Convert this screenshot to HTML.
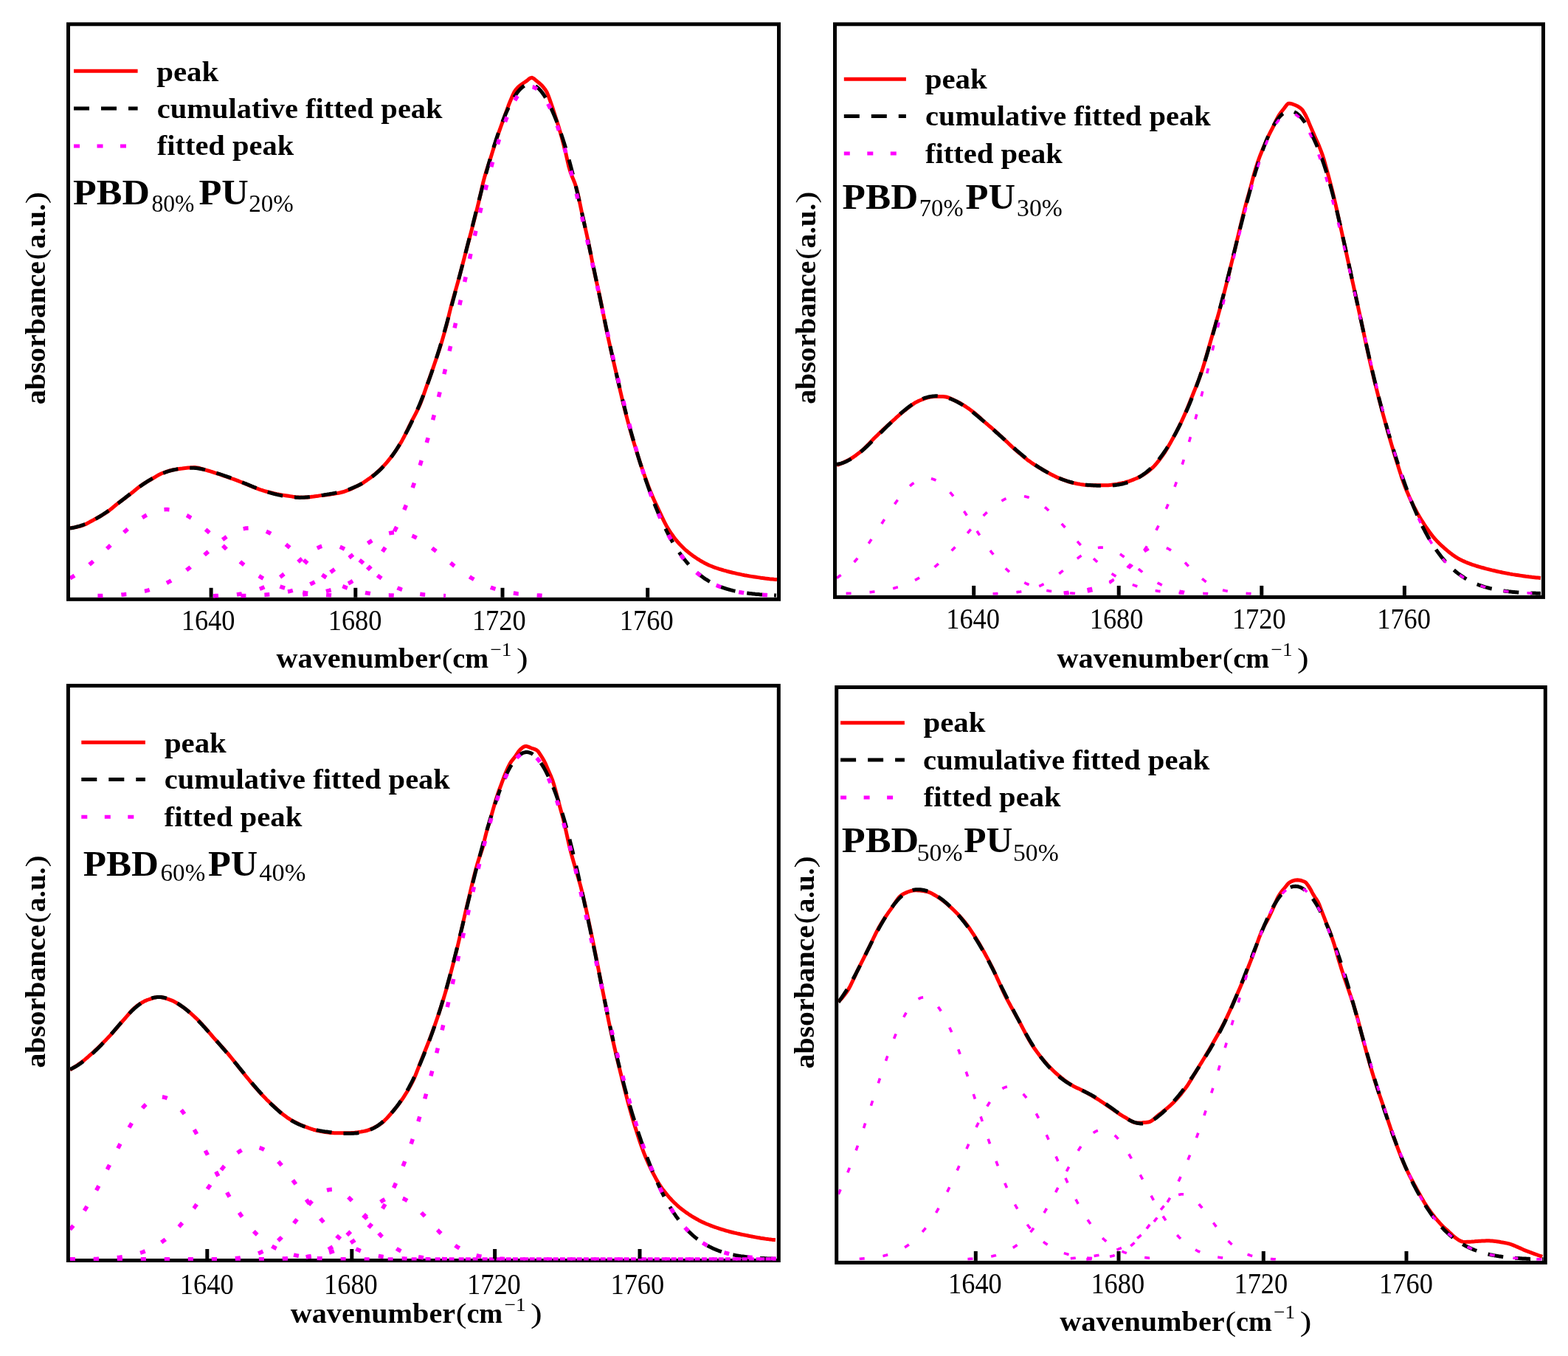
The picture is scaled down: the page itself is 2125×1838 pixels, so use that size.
<!DOCTYPE html>
<html><head><meta charset="utf-8"><title>FTIR peak fitting</title><style>
html,body{margin:0;padding:0;background:#fff;}
svg{display:block;}
text{font-family:"Liberation Serif", "Times New Roman", serif;fill:#000;}
</style></head><body>
<svg width="2125" height="1838" viewBox="0 0 2125 1838">
<rect width="2125" height="1838" fill="#fff"/>
<rect x="92.5" y="32.8" width="963.0" height="779.5" fill="none" stroke="#000" stroke-width="5.0"/>
<clipPath id="c1"><rect x="95.0" y="33.3" width="958.0" height="779.0"/></clipPath>
<g clip-path="url(#c1)" fill="none" stroke-linejoin="round">
<path d="M95.0,715.7 L97.0,715.5 L99.0,715.2 L101.0,714.9 L103.0,714.5 L105.0,714.0 L107.0,713.5 L109.0,713.0 L111.0,712.4 L113.0,711.8 L115.0,711.0 L117.0,710.1 L119.0,709.0 L121.0,707.9 L123.0,706.8 L125.0,705.7 L127.0,704.6 L129.0,703.5 L131.0,702.4 L133.0,701.3 L135.0,700.2 L137.0,699.1 L139.0,697.9 L141.0,696.7 L143.0,695.4 L145.0,694.1 L147.0,692.7 L149.0,691.1 L151.0,689.5 L153.0,687.8 L155.0,686.2 L157.0,684.5 L159.0,682.9 L161.0,681.3 L163.0,679.8 L165.0,678.4 L167.0,676.9 L169.0,675.4 L171.0,673.9 L173.0,672.5 L175.0,671.0 L177.0,669.4 L179.0,667.8 L181.0,666.2 L183.0,664.5 L185.0,662.8 L187.0,661.2 L189.0,659.6 L191.0,658.2 L193.0,656.8 L195.0,655.5 L197.0,654.3 L199.0,653.1 L201.0,651.9 L203.0,650.8 L205.0,649.7 L207.0,648.5 L209.0,647.3 L211.0,646.1 L213.0,644.9 L215.0,643.8 L217.0,642.8 L219.0,641.8 L221.0,641.0 L223.0,640.3 L225.0,639.6 L227.0,638.9 L229.0,638.3 L231.0,637.8 L233.0,637.3 L235.0,636.9 L237.0,636.5 L239.0,636.1 L241.0,635.8 L243.0,635.5 L245.0,635.2 L247.0,635.0 L249.0,634.7 L251.0,634.5 L253.0,634.3 L255.0,634.1 L257.0,633.9 L259.0,633.8 L261.0,633.7 L263.0,633.6 L265.0,633.6 L267.0,633.9 L269.0,634.3 L271.0,634.8 L273.0,635.4 L275.0,636.0 L277.0,636.6 L279.0,637.1 L281.0,637.7 L283.0,638.2 L285.0,638.8 L287.0,639.5 L289.0,640.1 L291.0,640.8 L293.0,641.4 L295.0,642.1 L297.0,642.7 L299.0,643.4 L301.0,644.1 L303.0,644.8 L305.0,645.5 L307.0,646.2 L309.0,646.9 L311.0,647.6 L313.0,648.3 L315.0,649.0 L317.0,649.7 L319.0,650.4 L321.0,651.1 L323.0,651.9 L325.0,652.7 L327.0,653.5 L329.0,654.3 L331.0,655.1 L333.0,655.9 L335.0,656.8 L337.0,657.6 L339.0,658.4 L341.0,659.2 L343.0,660.1 L345.0,660.9 L347.0,661.7 L349.0,662.4 L351.0,663.1 L353.0,663.8 L355.0,664.4 L357.0,665.1 L359.0,665.7 L361.0,666.2 L363.0,666.8 L365.0,667.3 L367.0,667.8 L369.0,668.2 L371.0,668.7 L373.0,669.1 L375.0,669.6 L377.0,670.0 L379.0,670.4 L381.0,670.8 L383.0,671.1 L385.0,671.4 L387.0,671.7 L389.0,672.0 L391.0,672.3 L393.0,672.6 L395.0,672.9 L397.0,673.2 L399.0,673.4 L401.0,673.7 L403.0,673.9 L405.0,674.0 L407.0,674.1 L409.0,674.2 L411.0,674.2 L413.0,674.1 L415.0,674.0 L417.0,673.9 L419.0,673.7 L421.0,673.5 L423.0,673.2 L425.0,673.0 L427.0,672.7 L429.0,672.4 L431.0,672.2 L433.0,671.9 L435.0,671.6 L437.0,671.4 L439.0,671.2 L441.0,670.9 L443.0,670.7 L445.0,670.4 L447.0,670.2 L449.0,669.9 L451.0,669.6 L453.0,669.3 L455.0,668.9 L457.0,668.6 L459.0,668.2 L461.0,667.8 L463.0,667.3 L465.0,666.8 L467.0,666.1 L469.0,665.4 L471.0,664.7 L473.0,663.9 L475.0,663.1 L477.0,662.2 L479.0,661.3 L481.0,660.3 L483.0,659.3 L485.0,658.4 L487.0,657.3 L489.0,656.3 L491.0,655.1 L493.0,653.8 L495.0,652.4 L497.0,651.1 L499.0,649.6 L501.0,648.2 L503.0,646.7 L505.0,645.1 L507.0,643.6 L509.0,641.9 L511.0,640.2 L513.0,638.4 L515.0,636.6 L517.0,634.6 L519.0,632.6 L521.0,630.4 L523.0,628.2 L525.0,625.9 L527.0,623.4 L529.0,620.9 L531.0,618.4 L533.0,615.7 L535.0,612.9 L537.0,610.0 L539.0,606.9 L541.0,603.7 L543.0,600.4 L545.0,596.9 L547.0,593.2 L549.0,589.3 L551.0,585.2 L553.0,581.0 L555.0,576.9 L557.0,572.8 L559.0,568.9 L561.0,565.1 L563.0,561.3 L565.0,557.3 L567.0,553.1 L569.0,548.7 L571.0,543.7 L573.0,538.3 L575.0,532.7 L577.0,526.9 L579.0,521.2 L581.0,515.6 L583.0,509.9 L585.0,504.3 L587.0,498.6 L589.0,492.8 L591.0,486.9 L593.0,481.0 L595.0,475.0 L597.0,468.8 L599.0,462.2 L601.0,455.4 L603.0,448.4 L605.0,440.9 L607.0,432.9 L609.0,424.6 L611.0,416.5 L613.0,409.1 L615.0,401.9 L617.0,394.9 L619.0,387.9 L621.0,380.8 L623.0,373.3 L625.0,365.7 L627.0,358.0 L629.0,350.3 L631.0,342.6 L633.0,335.0 L635.0,327.5 L637.0,320.0 L639.0,312.4 L641.0,304.7 L643.0,296.9 L645.0,289.0 L647.0,281.1 L649.0,272.9 L651.0,264.2 L653.0,255.0 L655.0,246.3 L657.0,238.9 L659.0,232.3 L661.0,226.1 L663.0,220.0 L665.0,213.7 L667.0,207.3 L669.0,200.8 L671.0,194.4 L673.0,188.2 L675.0,182.3 L677.0,176.6 L679.0,171.0 L681.0,165.5 L683.0,160.0 L685.0,154.4 L687.0,148.8 L689.0,143.3 L691.0,138.3 L693.0,133.5 L695.0,128.8 L697.0,124.7 L699.0,121.6 L701.0,119.3 L703.0,117.4 L705.0,115.7 L707.0,114.2 L709.0,112.8 L711.0,111.5 L713.0,110.1 L715.0,108.7 L717.0,106.9 L719.0,105.6 L721.0,105.3 L723.0,106.2 L725.0,107.8 L727.0,109.5 L729.0,111.1 L731.0,112.7 L733.0,114.6 L735.0,116.6 L737.0,118.9 L739.0,121.5 L741.0,124.8 L743.0,129.4 L745.0,134.9 L747.0,140.6 L749.0,146.4 L751.0,152.7 L753.0,158.9 L755.0,165.2 L757.0,171.6 L759.0,178.3 L761.0,185.3 L763.0,192.8 L765.0,200.5 L767.0,208.6 L769.0,217.7 L771.0,226.4 L773.0,233.1 L775.0,238.5 L777.0,243.3 L779.0,248.3 L781.0,254.4 L783.0,262.1 L785.0,271.2 L787.0,281.0 L789.0,290.4 L791.0,299.4 L793.0,308.3 L795.0,317.3 L797.0,326.5 L799.0,336.2 L801.0,346.3 L803.0,356.4 L805.0,366.2 L807.0,375.5 L809.0,384.4 L811.0,393.3 L813.0,402.5 L815.0,412.2 L817.0,422.4 L819.0,432.7 L821.0,442.6 L823.0,452.2 L825.0,461.4 L827.0,470.5 L829.0,479.4 L831.0,488.0 L833.0,496.6 L835.0,505.3 L837.0,514.0 L839.0,522.8 L841.0,531.5 L843.0,540.0 L845.0,548.2 L847.0,556.3 L849.0,564.1 L851.0,571.7 L853.0,579.0 L855.0,586.1 L857.0,593.0 L859.0,599.7 L861.0,606.4 L863.0,612.9 L865.0,619.2 L867.0,625.5 L869.0,631.6 L871.0,637.4 L873.0,643.2 L875.0,648.9 L877.0,654.4 L879.0,659.8 L881.0,664.9 L883.0,669.7 L885.0,674.4 L887.0,678.9 L889.0,683.3 L891.0,687.6 L893.0,691.8 L895.0,696.1 L897.0,700.4 L899.0,704.6 L901.0,708.6 L903.0,712.4 L905.0,715.8 L907.0,719.0 L909.0,722.1 L911.0,725.0 L913.0,727.8 L915.0,730.4 L917.0,732.9 L919.0,735.3 L921.0,737.5 L923.0,739.5 L925.0,741.5 L927.0,743.5 L929.0,745.3 L931.0,747.0 L933.0,748.7 L935.0,750.3 L937.0,751.8 L939.0,753.3 L941.0,754.6 L943.0,756.0 L945.0,757.3 L947.0,758.5 L949.0,759.8 L951.0,761.0 L953.0,762.1 L955.0,763.2 L957.0,764.2 L959.0,765.2 L961.0,766.2 L963.0,767.0 L965.0,767.8 L967.0,768.6 L969.0,769.3 L971.0,770.0 L973.0,770.7 L975.0,771.3 L977.0,771.9 L979.0,772.5 L981.0,773.1 L983.0,773.6 L985.0,774.2 L987.0,774.7 L989.0,775.2 L991.0,775.7 L993.0,776.2 L995.0,776.6 L997.0,777.1 L999.0,777.6 L1001.0,778.0 L1003.0,778.4 L1005.0,778.9 L1007.0,779.3 L1009.0,779.7 L1011.0,780.0 L1013.0,780.4 L1015.0,780.8 L1017.0,781.1 L1019.0,781.4 L1021.0,781.7 L1023.0,782.0 L1025.0,782.3 L1027.0,782.6 L1029.0,782.9 L1031.0,783.2 L1033.0,783.4 L1035.0,783.7 L1037.0,784.0 L1039.0,784.2 L1041.0,784.4 L1043.0,784.7 L1045.0,784.9 L1047.0,785.1 L1049.0,785.3 L1051.0,785.4 L1053.0,785.6" stroke="#ff0000" stroke-width="5"/>
<path d="M95.0,716.0 L96.5,715.8 L98.0,715.5 L99.5,715.2 L101.0,714.9 L102.5,714.5 L104.0,714.1 L105.5,713.7 L107.0,713.3 L108.5,712.9 L110.0,712.4 L111.5,711.8 L113.0,711.3 L114.5,710.7 L116.0,710.1 L117.5,709.5 L119.0,708.8 L120.5,708.1 L122.0,707.4 L123.5,706.6 L125.0,705.9 L126.5,705.1 L128.0,704.3 L129.5,703.4 L131.0,702.6 L132.5,701.7 L134.0,700.8 L135.5,699.9 L137.0,699.0 L138.5,698.0 L140.0,697.0 L141.5,696.0 L143.0,695.0 L144.5,694.0 L146.0,692.9 L147.5,691.8 L149.0,690.7 L150.5,689.6 L152.0,688.5 L153.5,687.4 L155.0,686.2 L156.5,685.1 L158.0,683.9 L159.5,682.7 L161.0,681.6 L162.5,680.4 L164.0,679.2 L165.5,678.0 L167.0,676.8 L168.5,675.7 L170.0,674.5 L171.5,673.3 L173.0,672.1 L174.5,671.0 L176.0,669.8 L177.5,668.6 L179.0,667.5 L180.5,666.3 L182.0,665.2 L183.5,664.0 L185.0,662.9 L186.5,661.8 L188.0,660.6 L189.5,659.6 L191.0,658.5 L192.5,657.4 L194.0,656.4 L195.5,655.4 L197.0,654.4 L198.5,653.4 L200.0,652.4 L201.5,651.5 L203.0,650.6 L204.5,649.7 L206.0,648.8 L207.5,648.0 L209.0,647.1 L210.5,646.3 L212.0,645.5 L213.5,644.8 L215.0,644.0 L216.5,643.3 L218.0,642.6 L219.5,642.0 L221.0,641.4 L222.5,640.8 L224.0,640.2 L225.5,639.7 L227.0,639.1 L228.5,638.7 L230.0,638.2 L231.5,637.8 L233.0,637.4 L234.5,637.0 L236.0,636.7 L237.5,636.4 L239.0,636.1 L240.5,635.8 L242.0,635.5 L243.5,635.3 L245.0,635.1 L246.5,634.9 L248.0,634.7 L249.5,634.6 L251.0,634.4 L252.5,634.3 L254.0,634.2 L255.5,634.2 L257.0,634.2 L258.5,634.2 L260.0,634.2 L261.5,634.2 L263.0,634.3 L264.5,634.5 L266.0,634.6 L267.5,634.8 L269.0,635.0 L270.5,635.2 L272.0,635.5 L273.5,635.8 L275.0,636.1 L276.5,636.4 L278.0,636.8 L279.5,637.2 L281.0,637.5 L282.5,638.0 L284.0,638.4 L285.5,638.8 L287.0,639.2 L288.5,639.7 L290.0,640.1 L291.5,640.6 L293.0,641.1 L294.5,641.6 L296.0,642.0 L297.5,642.5 L299.0,643.0 L300.5,643.5 L302.0,644.0 L303.5,644.6 L305.0,645.1 L306.5,645.6 L308.0,646.1 L309.5,646.7 L311.0,647.2 L312.5,647.7 L314.0,648.3 L315.5,648.8 L317.0,649.4 L318.5,650.0 L320.0,650.5 L321.5,651.1 L323.0,651.7 L324.5,652.3 L326.0,652.9 L327.5,653.5 L329.0,654.1 L330.5,654.7 L332.0,655.3 L333.5,655.9 L335.0,656.5 L336.5,657.1 L338.0,657.8 L339.5,658.4 L341.0,659.0 L342.5,659.6 L344.0,660.2 L345.5,660.8 L347.0,661.4 L348.5,661.9 L350.0,662.5 L351.5,663.1 L353.0,663.6 L354.5,664.2 L356.0,664.7 L357.5,665.2 L359.0,665.7 L360.5,666.2 L362.0,666.7 L363.5,667.2 L365.0,667.6 L366.5,668.0 L368.0,668.5 L369.5,668.9 L371.0,669.3 L372.5,669.7 L374.0,670.0 L375.5,670.4 L377.0,670.7 L378.5,671.1 L380.0,671.4 L381.5,671.7 L383.0,672.0 L384.5,672.2 L386.0,672.5 L387.5,672.7 L389.0,673.0 L390.5,673.2 L392.0,673.4 L393.5,673.6 L395.0,673.7 L396.5,673.9 L398.0,674.0 L399.5,674.1 L401.0,674.2 L402.5,674.3 L404.0,674.3 L405.5,674.4 L407.0,674.4 L408.5,674.3 L410.0,674.3 L411.5,674.2 L413.0,674.2 L414.5,674.1 L416.0,674.0 L417.5,673.8 L419.0,673.7 L420.5,673.5 L422.0,673.4 L423.5,673.2 L425.0,673.0 L426.5,672.8 L428.0,672.6 L429.5,672.4 L431.0,672.1 L432.5,671.9 L434.0,671.7 L435.5,671.5 L437.0,671.2 L438.5,671.0 L440.0,670.7 L441.5,670.5 L443.0,670.3 L444.5,670.0 L446.0,669.8 L447.5,669.5 L449.0,669.2 L450.5,669.0 L452.0,668.7 L453.5,668.4 L455.0,668.1 L456.5,667.8 L458.0,667.5 L459.5,667.2 L461.0,666.8 L462.5,666.5 L464.0,666.1 L465.5,665.7 L467.0,665.2 L468.5,664.8 L470.0,664.3 L471.5,663.8 L473.0,663.3 L474.5,662.7 L476.0,662.1 L477.5,661.5 L479.0,660.9 L480.5,660.3 L482.0,659.6 L483.5,658.9 L485.0,658.2 L486.5,657.5 L488.0,656.7 L489.5,655.9 L491.0,655.0 L492.5,654.2 L494.0,653.3 L495.5,652.3 L497.0,651.4 L498.5,650.4 L500.0,649.3 L501.5,648.3 L503.0,647.1 L504.5,646.0 L506.0,644.8 L507.5,643.6 L509.0,642.3 L510.5,641.0 L512.0,639.7 L513.5,638.3 L515.0,636.9 L516.5,635.4 L518.0,633.9 L519.5,632.3 L521.0,630.7 L522.5,629.0 L524.0,627.3 L525.5,625.5 L527.0,623.6 L528.5,621.7 L530.0,619.7 L531.5,617.7 L533.0,615.6 L534.5,613.5 L536.0,611.3 L537.5,609.0 L539.0,606.7 L540.5,604.2 L542.0,601.8 L543.5,599.3 L545.0,596.7 L546.5,594.0 L548.0,591.3 L549.5,588.6 L551.0,585.7 L552.5,582.9 L554.0,579.9 L555.5,577.0 L557.0,573.9 L558.5,570.8 L560.0,567.7 L561.5,564.5 L563.0,561.2 L564.5,557.8 L566.0,554.4 L567.5,550.9 L569.0,547.4 L570.5,543.8 L572.0,540.0 L573.5,536.3 L575.0,532.4 L576.5,528.5 L578.0,524.4 L579.5,520.4 L581.0,516.2 L582.5,512.0 L584.0,507.7 L585.5,503.4 L587.0,498.9 L588.5,494.5 L590.0,489.9 L591.5,485.3 L593.0,480.6 L594.5,475.8 L596.0,470.9 L597.5,465.9 L599.0,460.9 L600.5,455.8 L602.0,450.6 L603.5,445.4 L605.0,440.1 L606.5,434.7 L608.0,429.3 L609.5,423.8 L611.0,418.3 L612.5,412.8 L614.0,407.2 L615.5,401.6 L617.0,396.0 L618.5,390.4 L620.0,384.7 L621.5,379.0 L623.0,373.3 L624.5,367.6 L626.0,361.9 L627.5,356.1 L629.0,350.4 L630.5,344.6 L632.0,338.8 L633.5,332.9 L635.0,327.1 L636.5,321.2 L638.0,315.4 L639.5,309.5 L641.0,303.6 L642.5,297.7 L644.0,291.7 L645.5,285.8 L647.0,279.9 L648.5,274.0 L650.0,268.2 L651.5,262.3 L653.0,256.6 L654.5,250.8 L656.0,245.2 L657.5,239.6 L659.0,234.0 L660.5,228.6 L662.0,223.3 L663.5,218.0 L665.0,212.9 L666.5,207.9 L668.0,202.9 L669.5,198.1 L671.0,193.4 L672.5,188.8 L674.0,184.3 L675.5,180.0 L677.0,175.7 L678.5,171.6 L680.0,167.6 L681.5,163.7 L683.0,160.0 L684.5,156.3 L686.0,152.8 L687.5,149.5 L689.0,146.2 L690.5,143.1 L692.0,140.1 L693.5,137.3 L695.0,134.7 L696.5,132.1 L698.0,129.8 L699.5,127.6 L701.0,125.5 L702.5,123.6 L704.0,121.9 L705.5,120.3 L707.0,118.9 L708.5,117.7 L710.0,116.7 L711.5,115.8 L713.0,115.2 L714.5,114.7 L716.0,114.3 L717.5,114.2 L719.0,114.2 L720.5,114.5 L722.0,114.9 L723.5,115.4 L725.0,116.2 L726.5,117.2 L728.0,118.3 L729.5,119.6 L731.0,121.1 L732.5,122.7 L734.0,124.5 L735.5,126.5 L737.0,128.7 L738.5,131.0 L740.0,133.5 L741.5,136.1 L743.0,138.9 L744.5,141.8 L746.0,144.9 L747.5,148.1 L749.0,151.4 L750.5,154.9 L752.0,158.5 L753.5,162.2 L755.0,166.1 L756.5,170.1 L758.0,174.3 L759.5,178.6 L761.0,183.0 L762.5,187.5 L764.0,192.2 L765.5,197.1 L767.0,202.1 L768.5,207.2 L770.0,212.5 L771.5,217.9 L773.0,223.4 L774.5,229.1 L776.0,235.0 L777.5,240.9 L779.0,247.0 L780.5,253.2 L782.0,259.5 L783.5,265.9 L785.0,272.5 L786.5,279.1 L788.0,285.7 L789.5,292.5 L791.0,299.3 L792.5,306.2 L794.0,313.2 L795.5,320.2 L797.0,327.2 L798.5,334.3 L800.0,341.4 L801.5,348.5 L803.0,355.7 L804.5,362.8 L806.0,370.0 L807.5,377.2 L809.0,384.4 L810.5,391.6 L812.0,398.8 L813.5,406.0 L815.0,413.2 L816.5,420.4 L818.0,427.5 L819.5,434.6 L821.0,441.7 L822.5,448.7 L824.0,455.7 L825.5,462.7 L827.0,469.6 L828.5,476.4 L830.0,483.2 L831.5,489.9 L833.0,496.6 L834.5,503.1 L836.0,509.6 L837.5,516.1 L839.0,522.4 L840.5,528.7 L842.0,534.9 L843.5,541.0 L845.0,547.0 L846.5,552.9 L848.0,558.8 L849.5,564.5 L851.0,570.2 L852.5,575.8 L854.0,581.3 L855.5,586.7 L857.0,592.0 L858.5,597.3 L860.0,602.5 L861.5,607.6 L863.0,612.6 L864.5,617.5 L866.0,622.4 L867.5,627.2 L869.0,631.9 L870.5,636.6 L872.0,641.2 L873.5,645.7 L875.0,650.1 L876.5,654.5 L878.0,658.8 L879.5,663.0 L881.0,667.2 L882.5,671.2 L884.0,675.2 L885.5,679.1 L887.0,683.0 L888.5,686.7 L890.0,690.4 L891.5,694.0 L893.0,697.5 L894.5,701.0 L896.0,704.4 L897.5,707.6 L899.0,710.9 L900.5,714.0 L902.0,717.0 L903.5,720.0 L905.0,722.9 L906.5,725.7 L908.0,728.5 L909.5,731.2 L911.0,733.8 L912.5,736.4 L914.0,738.8 L915.5,741.2 L917.0,743.6 L918.5,745.9 L920.0,748.1 L921.5,750.2 L923.0,752.3 L924.5,754.3 L926.0,756.3 L927.5,758.2 L929.0,760.0 L930.5,761.8 L932.0,763.6 L933.5,765.3 L935.0,766.9 L936.5,768.5 L938.0,770.0 L939.5,771.5 L941.0,772.9 L942.5,774.3 L944.0,775.6 L945.5,776.9 L947.0,778.1 L948.5,779.3 L950.0,780.5 L951.5,781.6 L953.0,782.7 L954.5,783.8 L956.0,784.8 L957.5,785.7 L959.0,786.7 L960.5,787.6 L962.0,788.4 L963.5,789.3 L965.0,790.1 L966.5,790.9 L968.0,791.6 L969.5,792.3 L971.0,793.0 L972.5,793.7 L974.0,794.3 L975.5,794.9 L977.0,795.5 L978.5,796.1 L980.0,796.6 L981.5,797.1 L983.0,797.6 L984.5,798.1 L986.0,798.5 L987.5,799.0 L989.0,799.4 L990.5,799.8 L992.0,800.2 L993.5,800.6 L995.0,800.9 L996.5,801.2 L998.0,801.6 L999.5,801.9 L1001.0,802.2 L1002.5,802.4 L1004.0,802.7 L1005.5,803.0 L1007.0,803.2 L1008.5,803.4 L1010.0,803.7 L1011.5,803.9 L1013.0,804.1 L1014.5,804.3 L1016.0,804.5 L1017.5,804.6 L1019.0,804.8 L1020.5,805.0 L1022.0,805.1 L1023.5,805.3 L1025.0,805.4 L1026.5,805.5 L1028.0,805.6 L1029.5,805.8 L1031.0,805.9 L1032.5,806.0 L1034.0,806.1 L1035.5,806.2 L1037.0,806.3 L1038.5,806.4 L1040.0,806.4 L1041.5,806.5 L1043.0,806.6 L1044.5,806.7 L1046.0,806.7 L1047.5,806.8 L1049.0,806.8 L1050.5,806.9 L1052.0,807.0" stroke="#000" stroke-width="5" stroke-dasharray="21 16"/>
<path d="M95.0,783.8 L96.5,782.9 L98.0,782.0 L99.5,781.1 L101.0,780.1 L102.5,779.1 L104.0,778.1 L105.5,777.1 L107.0,776.1 L108.5,775.0 L110.0,773.9 L111.5,772.8 L113.0,771.7 L114.5,770.5 L116.0,769.4 L117.5,768.2 L119.0,767.0 L120.5,765.8 L122.0,764.5 L123.5,763.3 L125.0,762.0 L126.5,760.7 L128.0,759.4 L129.5,758.1 L131.0,756.7 L132.5,755.4 L134.0,754.0 L135.5,752.6 L137.0,751.2 L138.5,749.8 L140.0,748.4 L141.5,747.0 L143.0,745.6 L144.5,744.1 L146.0,742.7 L147.5,741.2 L149.0,739.8 L150.5,738.3 L152.0,736.9 L153.5,735.4 L155.0,734.0 L156.5,732.5 L158.0,731.1 L159.5,729.6 L161.0,728.2 L162.5,726.8 L164.0,725.4 L165.5,724.0 L167.0,722.6 L168.5,721.2 L170.0,719.8 L171.5,718.5 L173.0,717.1 L174.5,715.8 L176.0,714.5 L177.5,713.2 L179.0,712.0 L180.5,710.7 L182.0,709.5 L183.5,708.4 L185.0,707.2 L186.5,706.1 L188.0,705.0 L189.5,703.9 L191.0,702.9 L192.5,701.9 L194.0,701.0 L195.5,700.0 L197.0,699.1 L198.5,698.3 L200.0,697.5 L201.5,696.7 L203.0,696.0 L204.5,695.3 L206.0,694.7 L207.5,694.1 L209.0,693.5 L210.5,693.0 L212.0,692.6 L213.5,692.2 L215.0,691.8 L216.5,691.5 L218.0,691.2 L219.5,691.0 L221.0,690.8 L222.5,690.7 L224.0,690.6 L225.5,690.6 L227.0,690.6 L228.5,690.7 L230.0,690.8 L231.5,691.0 L233.0,691.2 L234.5,691.4 L236.0,691.7 L237.5,692.1 L239.0,692.5 L240.5,693.0 L242.0,693.5 L243.5,694.0 L245.0,694.6 L246.5,695.2 L248.0,695.9 L249.5,696.6 L251.0,697.4 L252.5,698.2 L254.0,699.0 L255.5,699.9 L257.0,700.8 L258.5,701.8 L260.0,702.7 L261.5,703.8 L263.0,704.8 L264.5,705.9 L266.0,707.0 L267.5,708.2 L269.0,709.4 L270.5,710.6 L272.0,711.8 L273.5,713.0 L275.0,714.3 L276.5,715.6 L278.0,716.9 L279.5,718.3 L281.0,719.6 L282.5,721.0 L284.0,722.4 L285.5,723.7 L287.0,725.2 L288.5,726.6 L290.0,728.0 L291.5,729.4 L293.0,730.9 L294.5,732.3 L296.0,733.8 L297.5,735.2 L299.0,736.7 L300.5,738.1 L302.0,739.6 L303.5,741.0 L305.0,742.5 L306.5,743.9 L308.0,745.4 L309.5,746.8 L311.0,748.2 L312.5,749.6 L314.0,751.0 L315.5,752.4 L317.0,753.8 L318.5,755.2 L320.0,756.5 L321.5,757.9 L323.0,759.2 L324.5,760.5 L326.0,761.8 L327.5,763.1 L329.0,764.3 L330.5,765.6 L332.0,766.8 L333.5,768.0 L335.0,769.2 L336.5,770.4 L338.0,771.5 L339.5,772.7 L341.0,773.8 L342.5,774.8 L344.0,775.9 L345.5,777.0 L347.0,778.0 L348.5,779.0 L350.0,780.0 L351.5,780.9 L353.0,781.9 L354.5,782.8 L356.0,783.7 L357.5,784.5 L359.0,785.4 L360.5,786.2 L362.0,787.0 L363.5,787.8 L365.0,788.6 L366.5,789.3 L368.0,790.0 L369.5,790.7 L371.0,791.4 L372.5,792.1 L374.0,792.7 L375.5,793.3 L377.0,793.9 L378.5,794.5 L380.0,795.1 L381.5,795.6 L383.0,796.1 L384.5,796.7 L386.0,797.1 L387.5,797.6 L389.0,798.1 L390.5,798.5 L392.0,798.9 L393.5,799.4 L395.0,799.8 L396.5,800.1 L398.0,800.5 L399.5,800.9 L401.0,801.2 L402.5,801.5 L404.0,801.8 L405.5,802.1 L407.0,802.4 L408.5,802.7 L410.0,803.0 L411.5,803.2 L413.0,803.4 L414.5,803.7 L416.0,803.9 L417.5,804.1 L419.0,804.3 L420.5,804.5 L422.0,804.7 L423.5,804.9 L425.0,805.0 L426.5,805.2 L428.0,805.4 L429.5,805.5 L431.0,805.6 L432.5,805.8 L434.0,805.9 L435.5,806.0 L437.0,806.1 L438.5,806.2 L440.0,806.3 L441.5,806.4 L443.0,806.5 L444.5,806.6 L446.0,806.7 L447.5,806.8 L449.0,806.8 L450.5,806.9 L452.0,807.0 L453.5,807.0 L455.0,807.1 L456.5,807.2 L458.0,807.2 L459.5,807.3 L461.0,807.3 L462.5,807.3 L464.0,807.4 L465.5,807.4 L467.0,807.5" stroke="#ff00ff" stroke-width="5.5" stroke-dasharray="7 25"/>
<path d="M132.4,807.6 L133.9,807.6 L135.4,807.5 L136.9,807.5 L138.4,807.5 L139.9,807.4 L141.4,807.4 L142.9,807.3 L144.4,807.3 L145.9,807.2 L147.4,807.1 L148.9,807.1 L150.4,807.0 L151.9,806.9 L153.4,806.9 L154.9,806.8 L156.4,806.7 L157.9,806.6 L159.4,806.5 L160.9,806.4 L162.4,806.3 L163.9,806.2 L165.4,806.0 L166.9,805.9 L168.4,805.8 L169.9,805.6 L171.4,805.5 L172.9,805.3 L174.4,805.1 L175.9,804.9 L177.4,804.7 L178.9,804.5 L180.4,804.3 L181.9,804.1 L183.4,803.8 L184.9,803.6 L186.4,803.3 L187.9,803.0 L189.4,802.8 L190.9,802.4 L192.4,802.1 L193.9,801.8 L195.4,801.4 L196.9,801.1 L198.4,800.7 L199.9,800.3 L201.4,799.9 L202.9,799.4 L204.4,799.0 L205.9,798.5 L207.4,798.0 L208.9,797.5 L210.4,797.0 L211.9,796.4 L213.4,795.9 L214.9,795.3 L216.4,794.6 L217.9,794.0 L219.4,793.4 L220.9,792.7 L222.4,792.0 L223.9,791.2 L225.4,790.5 L226.9,789.7 L228.4,788.9 L229.9,788.1 L231.4,787.3 L232.9,786.4 L234.4,785.5 L235.9,784.6 L237.4,783.7 L238.9,782.7 L240.4,781.7 L241.9,780.7 L243.4,779.7 L244.9,778.7 L246.4,777.6 L247.9,776.5 L249.4,775.4 L250.9,774.3 L252.4,773.1 L253.9,771.9 L255.4,770.8 L256.9,769.6 L258.4,768.3 L259.9,767.1 L261.4,765.8 L262.9,764.6 L264.4,763.3 L265.9,762.0 L267.4,760.7 L268.9,759.4 L270.4,758.1 L271.9,756.8 L273.4,755.4 L274.9,754.1 L276.4,752.8 L277.9,751.4 L279.4,750.1 L280.9,748.8 L282.4,747.5 L283.9,746.1 L285.4,744.8 L286.9,743.5 L288.4,742.2 L289.9,740.9 L291.4,739.6 L292.9,738.4 L294.4,737.2 L295.9,735.9 L297.4,734.7 L298.9,733.6 L300.4,732.4 L301.9,731.3 L303.4,730.2 L304.9,729.1 L306.4,728.0 L307.9,727.0 L309.4,726.1 L310.9,725.1 L312.4,724.2 L313.9,723.3 L315.4,722.5 L316.9,721.7 L318.4,721.0 L319.9,720.3 L321.4,719.6 L322.9,719.0 L324.4,718.4 L325.9,717.9 L327.4,717.5 L328.9,717.0 L330.4,716.7 L331.9,716.3 L333.4,716.1 L334.9,715.9 L336.4,715.7 L337.9,715.6 L339.4,715.5 L340.9,715.5 L342.4,715.6 L343.9,715.6 L345.4,715.8 L346.9,716.0 L348.4,716.2 L349.9,716.5 L351.4,716.9 L352.9,717.3 L354.4,717.7 L355.9,718.2 L357.4,718.8 L358.9,719.4 L360.4,720.0 L361.9,720.7 L363.4,721.4 L364.9,722.2 L366.4,723.0 L367.9,723.9 L369.4,724.8 L370.9,725.7 L372.4,726.7 L373.9,727.7 L375.4,728.7 L376.9,729.8 L378.4,730.8 L379.9,732.0 L381.4,733.1 L382.9,734.3 L384.4,735.5 L385.9,736.7 L387.4,737.9 L388.9,739.2 L390.4,740.4 L391.9,741.7 L393.4,743.0 L394.9,744.3 L396.4,745.6 L397.9,747.0 L399.4,748.3 L400.9,749.6 L402.4,750.9 L403.9,752.3 L405.4,753.6 L406.9,754.9 L408.4,756.3 L409.9,757.6 L411.4,758.9 L412.9,760.2 L414.4,761.5 L415.9,762.8 L417.4,764.1 L418.9,765.4 L420.4,766.6 L421.9,767.9 L423.4,769.1 L424.9,770.3 L426.4,771.5 L427.9,772.7 L429.4,773.8 L430.9,775.0 L432.4,776.1 L433.9,777.2 L435.4,778.3 L436.9,779.3 L438.4,780.4 L439.9,781.4 L441.4,782.4 L442.9,783.3 L444.4,784.3 L445.9,785.2 L447.4,786.1 L448.9,787.0 L450.4,787.8 L451.9,788.6 L453.4,789.4 L454.9,790.2 L456.4,791.0 L457.9,791.7 L459.4,792.4 L460.9,793.1 L462.4,793.8 L463.9,794.4 L465.4,795.0 L466.9,795.6 L468.4,796.2 L469.9,796.8 L471.4,797.3 L472.9,797.8 L474.4,798.3 L475.9,798.8 L477.4,799.3 L478.9,799.7 L480.4,800.1 L481.9,800.5 L483.4,800.9 L484.9,801.3 L486.4,801.7 L487.9,802.0 L489.4,802.3 L490.9,802.6 L492.4,802.9 L493.9,803.2 L495.4,803.5 L496.9,803.8 L498.4,804.0 L499.9,804.2 L501.4,804.4 L502.9,804.7 L504.4,804.9 L505.9,805.0 L507.4,805.2 L508.9,805.4 L510.4,805.6 L511.9,805.7 L513.4,805.9 L514.9,806.0 L516.4,806.1 L517.9,806.2 L519.4,806.4 L520.9,806.5 L522.4,806.6 L523.9,806.7 L525.4,806.8 L526.9,806.8 L528.4,806.9 L529.9,807.0 L531.4,807.1 L532.9,807.1 L534.4,807.2 L535.9,807.2 L537.4,807.3 L538.9,807.3 L540.4,807.4 L541.9,807.4 L543.4,807.5 L544.9,807.5 L546.4,807.6 L547.9,807.6" stroke="#ff00ff" stroke-width="5.5" stroke-dasharray="7 25"/>
<path d="M289.0,807.7 L290.5,807.7 L292.0,807.6 L293.5,807.6 L295.0,807.6 L296.5,807.5 L298.0,807.5 L299.5,807.4 L301.0,807.3 L302.5,807.3 L304.0,807.2 L305.5,807.1 L307.0,807.0 L308.5,806.9 L310.0,806.8 L311.5,806.7 L313.0,806.6 L314.5,806.5 L316.0,806.4 L317.5,806.2 L319.0,806.1 L320.5,805.9 L322.0,805.7 L323.5,805.5 L325.0,805.3 L326.5,805.1 L328.0,804.8 L329.5,804.6 L331.0,804.3 L332.5,804.0 L334.0,803.7 L335.5,803.4 L337.0,803.1 L338.5,802.7 L340.0,802.3 L341.5,801.9 L343.0,801.5 L344.5,801.0 L346.0,800.5 L347.5,800.0 L349.0,799.5 L350.5,798.9 L352.0,798.3 L353.5,797.7 L355.0,797.1 L356.5,796.4 L358.0,795.7 L359.5,795.0 L361.0,794.2 L362.5,793.4 L364.0,792.6 L365.5,791.7 L367.0,790.8 L368.5,789.9 L370.0,789.0 L371.5,788.0 L373.0,787.0 L374.5,786.0 L376.0,784.9 L377.5,783.8 L379.0,782.7 L380.5,781.6 L382.0,780.4 L383.5,779.2 L385.0,778.0 L386.5,776.8 L388.0,775.6 L389.5,774.3 L391.0,773.0 L392.5,771.7 L394.0,770.5 L395.5,769.1 L397.0,767.8 L398.5,766.5 L400.0,765.2 L401.5,763.9 L403.0,762.6 L404.5,761.3 L406.0,760.0 L407.5,758.7 L409.0,757.4 L410.5,756.2 L412.0,754.9 L413.5,753.7 L415.0,752.5 L416.5,751.4 L418.0,750.3 L419.5,749.2 L421.0,748.2 L422.5,747.2 L424.0,746.2 L425.5,745.3 L427.0,744.4 L428.5,743.6 L430.0,742.9 L431.5,742.2 L433.0,741.5 L434.5,740.9 L436.0,740.4 L437.5,739.9 L439.0,739.5 L440.5,739.2 L442.0,738.9 L443.5,738.8 L445.0,738.6 L446.5,738.6 L448.0,738.6 L449.5,738.6 L451.0,738.8 L452.5,739.0 L454.0,739.3 L455.5,739.6 L457.0,740.0 L458.5,740.5 L460.0,741.0 L461.5,741.6 L463.0,742.2 L464.5,743.0 L466.0,743.7 L467.5,744.5 L469.0,745.4 L470.5,746.3 L472.0,747.3 L473.5,748.3 L475.0,749.3 L476.5,750.4 L478.0,751.5 L479.5,752.7 L481.0,753.9 L482.5,755.1 L484.0,756.3 L485.5,757.6 L487.0,758.9 L488.5,760.1 L490.0,761.4 L491.5,762.7 L493.0,764.1 L494.5,765.4 L496.0,766.7 L497.5,768.0 L499.0,769.3 L500.5,770.6 L502.0,771.9 L503.5,773.2 L505.0,774.5 L506.5,775.7 L508.0,777.0 L509.5,778.2 L511.0,779.4 L512.5,780.6 L514.0,781.8 L515.5,782.9 L517.0,784.0 L518.5,785.1 L520.0,786.1 L521.5,787.2 L523.0,788.2 L524.5,789.1 L526.0,790.1 L527.5,791.0 L529.0,791.8 L530.5,792.7 L532.0,793.5 L533.5,794.3 L535.0,795.1 L536.5,795.8 L538.0,796.5 L539.5,797.2 L541.0,797.8 L542.5,798.4 L544.0,799.0 L545.5,799.5 L547.0,800.1 L548.5,800.6 L550.0,801.1 L551.5,801.5 L553.0,801.9 L554.5,802.4 L556.0,802.7 L557.5,803.1 L559.0,803.4 L560.5,803.8 L562.0,804.1 L563.5,804.4 L565.0,804.6 L566.5,804.9 L568.0,805.1 L569.5,805.3 L571.0,805.5 L572.5,805.7 L574.0,805.9 L575.5,806.1 L577.0,806.2 L578.5,806.4 L580.0,806.5 L581.5,806.6 L583.0,806.8 L584.5,806.9 L586.0,807.0 L587.5,807.0 L589.0,807.1 L590.5,807.2 L592.0,807.3 L593.5,807.3 L595.0,807.4 L596.5,807.5 L598.0,807.5 L599.5,807.6 L601.0,807.6 L602.5,807.6 L604.0,807.7" stroke="#ff00ff" stroke-width="5.5" stroke-dasharray="7 25"/>
<path d="M326.4,807.6 L327.9,807.6 L329.4,807.6 L330.9,807.5 L332.4,807.5 L333.9,807.5 L335.4,807.4 L336.9,807.4 L338.4,807.3 L339.9,807.3 L341.4,807.2 L342.9,807.2 L344.4,807.1 L345.9,807.0 L347.4,807.0 L348.9,806.9 L350.4,806.8 L351.9,806.7 L353.4,806.6 L354.9,806.5 L356.4,806.4 L357.9,806.3 L359.4,806.2 L360.9,806.1 L362.4,806.0 L363.9,805.8 L365.4,805.7 L366.9,805.5 L368.4,805.4 L369.9,805.2 L371.4,805.0 L372.9,804.8 L374.4,804.7 L375.9,804.4 L377.4,804.2 L378.9,804.0 L380.4,803.8 L381.9,803.5 L383.4,803.3 L384.9,803.0 L386.4,802.7 L387.9,802.4 L389.4,802.1 L390.9,801.8 L392.4,801.4 L393.9,801.1 L395.4,800.7 L396.9,800.3 L398.4,799.9 L399.9,799.5 L401.4,799.0 L402.9,798.6 L404.4,798.1 L405.9,797.6 L407.4,797.1 L408.9,796.6 L410.4,796.0 L411.9,795.4 L413.4,794.9 L414.9,794.2 L416.4,793.6 L417.9,793.0 L419.4,792.3 L420.9,791.6 L422.4,790.9 L423.9,790.2 L425.4,789.4 L426.9,788.6 L428.4,787.8 L429.9,787.0 L431.4,786.2 L432.9,785.3 L434.4,784.5 L435.9,783.6 L437.4,782.6 L438.9,781.7 L440.4,780.7 L441.9,779.7 L443.4,778.7 L444.9,777.7 L446.4,776.7 L447.9,775.6 L449.4,774.6 L450.9,773.5 L452.4,772.4 L453.9,771.3 L455.4,770.1 L456.9,769.0 L458.4,767.8 L459.9,766.7 L461.4,765.5 L462.9,764.3 L464.4,763.1 L465.9,761.9 L467.4,760.7 L468.9,759.4 L470.4,758.2 L471.9,757.0 L473.4,755.8 L474.9,754.5 L476.4,753.3 L477.9,752.1 L479.4,750.9 L480.9,749.7 L482.4,748.4 L483.9,747.2 L485.4,746.1 L486.9,744.9 L488.4,743.7 L489.9,742.6 L491.4,741.4 L492.9,740.3 L494.4,739.2 L495.9,738.1 L497.4,737.1 L498.9,736.1 L500.4,735.1 L501.9,734.1 L503.4,733.1 L504.9,732.2 L506.4,731.3 L507.9,730.5 L509.4,729.6 L510.9,728.8 L512.4,728.1 L513.9,727.4 L515.4,726.7 L516.9,726.1 L518.4,725.5 L519.9,724.9 L521.4,724.4 L522.9,723.9 L524.4,723.5 L525.9,723.1 L527.4,722.8 L528.9,722.5 L530.4,722.2 L531.9,722.0 L533.4,721.9 L534.9,721.8 L536.4,721.7 L537.9,721.7 L539.4,721.7 L540.9,721.8 L542.4,721.9 L543.9,722.1 L545.4,722.3 L546.9,722.6 L548.4,722.9 L549.9,723.3 L551.4,723.7 L552.9,724.1 L554.4,724.6 L555.9,725.2 L557.4,725.8 L558.9,726.4 L560.4,727.0 L561.9,727.7 L563.4,728.5 L564.9,729.2 L566.4,730.0 L567.9,730.9 L569.4,731.8 L570.9,732.7 L572.4,733.6 L573.9,734.6 L575.4,735.6 L576.9,736.6 L578.4,737.6 L579.9,738.7 L581.4,739.8 L582.9,740.9 L584.4,742.0 L585.9,743.2 L587.4,744.3 L588.9,745.5 L590.4,746.7 L591.9,747.9 L593.4,749.1 L594.9,750.3 L596.4,751.5 L597.9,752.7 L599.4,753.9 L600.9,755.2 L602.4,756.4 L603.9,757.6 L605.4,758.8 L606.9,760.1 L608.4,761.3 L609.9,762.5 L611.4,763.7 L612.9,764.9 L614.4,766.1 L615.9,767.3 L617.4,768.4 L618.9,769.6 L620.4,770.7 L621.9,771.8 L623.4,772.9 L624.9,774.0 L626.4,775.1 L627.9,776.2 L629.4,777.2 L630.9,778.3 L632.4,779.3 L633.9,780.3 L635.4,781.2 L636.9,782.2 L638.4,783.1 L639.9,784.0 L641.4,784.9 L642.9,785.8 L644.4,786.6 L645.9,787.4 L647.4,788.3 L648.9,789.0 L650.4,789.8 L651.9,790.5 L653.4,791.3 L654.9,792.0 L656.4,792.6 L657.9,793.3 L659.4,793.9 L660.9,794.6 L662.4,795.2 L663.9,795.7 L665.4,796.3 L666.9,796.8 L668.4,797.4 L669.9,797.9 L671.4,798.3 L672.9,798.8 L674.4,799.3 L675.9,799.7 L677.4,800.1 L678.9,800.5 L680.4,800.9 L681.9,801.2 L683.4,801.6 L684.9,801.9 L686.4,802.2 L687.9,802.6 L689.4,802.8 L690.9,803.1 L692.4,803.4 L693.9,803.6 L695.4,803.9 L696.9,804.1 L698.4,804.3 L699.9,804.6 L701.4,804.8 L702.9,804.9 L704.4,805.1 L705.9,805.3 L707.4,805.5 L708.9,805.6 L710.4,805.8 L711.9,805.9 L713.4,806.0 L714.9,806.2 L716.4,806.3 L717.9,806.4 L719.4,806.5 L720.9,806.6 L722.4,806.7 L723.9,806.8 L725.4,806.8 L726.9,806.9 L728.4,807.0 L729.9,807.1 L731.4,807.1 L732.9,807.2 L734.4,807.2 L735.9,807.3 L737.4,807.3 L738.9,807.4 L740.4,807.4 L741.9,807.5 L743.4,807.5 L744.9,807.5 L746.4,807.6 L747.9,807.6" stroke="#ff00ff" stroke-width="5.5" stroke-dasharray="7 25"/>
<path d="M410.2,805.9 L411.7,805.7 L413.2,805.6 L414.7,805.5 L416.2,805.3 L417.7,805.2 L419.2,805.0 L420.7,804.9 L422.2,804.7 L423.7,804.5 L425.2,804.3 L426.7,804.1 L428.2,803.9 L429.7,803.7 L431.2,803.4 L432.7,803.2 L434.2,802.9 L435.7,802.7 L437.2,802.4 L438.7,802.1 L440.2,801.8 L441.7,801.5 L443.2,801.1 L444.7,800.8 L446.2,800.4 L447.7,800.0 L449.2,799.6 L450.7,799.2 L452.2,798.8 L453.7,798.3 L455.2,797.8 L456.7,797.3 L458.2,796.8 L459.7,796.3 L461.2,795.7 L462.7,795.1 L464.2,794.5 L465.7,793.9 L467.2,793.2 L468.7,792.5 L470.2,791.8 L471.7,791.0 L473.2,790.3 L474.7,789.5 L476.2,788.6 L477.7,787.7 L479.2,786.8 L480.7,785.9 L482.2,784.9 L483.7,783.9 L485.2,782.9 L486.7,781.8 L488.2,780.6 L489.7,779.5 L491.2,778.3 L492.7,777.0 L494.2,775.7 L495.7,774.4 L497.2,773.0 L498.7,771.5 L500.2,770.1 L501.7,768.5 L503.2,766.9 L504.7,765.3 L506.2,763.6 L507.7,761.9 L509.2,760.1 L510.7,758.2 L512.2,756.3 L513.7,754.3 L515.2,752.3 L516.7,750.2 L518.2,748.0 L519.7,745.8 L521.2,743.5 L522.7,741.2 L524.2,738.7 L525.7,736.3 L527.2,733.7 L528.7,731.1 L530.2,728.4 L531.7,725.6 L533.2,722.8 L534.7,719.8 L536.2,716.8 L537.7,713.8 L539.2,710.6 L540.7,707.4 L542.2,704.1 L543.7,700.7 L545.2,697.3 L546.7,693.7 L548.2,690.1 L549.7,686.4 L551.2,682.6 L552.7,678.8 L554.2,674.8 L555.7,670.8 L557.2,666.7 L558.7,662.5 L560.2,658.2 L561.7,653.8 L563.2,649.3 L564.7,644.8 L566.2,640.2 L567.7,635.5 L569.2,630.7 L570.7,625.8 L572.2,620.9 L573.7,615.8 L575.2,610.7 L576.7,605.5 L578.2,600.2 L579.7,594.9 L581.2,589.4 L582.7,583.9 L584.2,578.3 L585.7,572.7 L587.2,566.9 L588.7,561.1 L590.2,555.2 L591.7,549.3 L593.2,543.3 L594.7,537.2 L596.2,531.0 L597.7,524.8 L599.2,518.5 L600.7,512.2 L602.2,505.8 L603.7,499.4 L605.2,492.9 L606.7,486.3 L608.2,479.7 L609.7,473.1 L611.2,466.4 L612.7,459.7 L614.2,453.0 L615.7,446.2 L617.2,439.4 L618.7,432.5 L620.2,425.7 L621.7,418.8 L623.2,411.9 L624.7,405.0 L626.2,398.1 L627.7,391.2 L629.2,384.2 L630.7,377.3 L632.2,370.4 L633.7,363.5 L635.2,356.6 L636.7,349.8 L638.2,342.9 L639.7,336.1 L641.2,329.3 L642.7,322.6 L644.2,315.9 L645.7,309.2 L647.2,302.6 L648.7,296.0 L650.2,289.5 L651.7,283.0 L653.2,276.7 L654.7,270.3 L656.2,264.1 L657.7,257.9 L659.2,251.8 L660.7,245.8 L662.2,239.9 L663.7,234.1 L665.2,228.4 L666.7,222.8 L668.2,217.3 L669.7,211.9 L671.2,206.6 L672.7,201.4 L674.2,196.4 L675.7,191.5 L677.2,186.7 L678.7,182.1 L680.2,177.5 L681.7,173.2 L683.2,168.9 L684.7,164.9 L686.2,160.9 L687.7,157.2 L689.2,153.5 L690.7,150.1 L692.2,146.8 L693.7,143.7 L695.2,140.7 L696.7,137.9 L698.2,135.3 L699.7,132.8 L701.2,130.5 L702.7,128.4 L704.2,126.5 L705.7,124.8 L707.2,123.2 L708.7,121.9 L710.2,120.7 L711.7,119.7 L713.2,118.9 L714.7,118.3 L716.2,117.8 L717.7,117.6 L719.2,117.5 L720.7,117.6 L722.2,117.9 L723.7,118.5 L725.2,119.1 L726.7,120.0 L728.2,121.1 L729.7,122.3 L731.2,123.8 L732.7,125.4 L734.2,127.2 L735.7,129.2 L737.2,131.3 L738.7,133.7 L740.2,136.2 L741.7,138.9 L743.2,141.7 L744.7,144.8 L746.2,147.9 L747.7,151.3 L749.2,154.8 L750.7,158.5 L752.2,162.3 L753.7,166.3 L755.2,170.4 L756.7,174.7 L758.2,179.1 L759.7,183.7 L761.2,188.4 L762.7,193.2 L764.2,198.2 L765.7,203.3 L767.2,208.5 L768.7,213.8 L770.2,219.2 L771.7,224.8 L773.2,230.4 L774.7,236.2 L776.2,242.0 L777.7,248.0 L779.2,254.0 L780.7,260.1 L782.2,266.3 L783.7,272.6 L785.2,278.9 L786.7,285.3 L788.2,291.8 L789.7,298.4 L791.2,304.9 L792.7,311.6 L794.2,318.3 L795.7,325.0 L797.2,331.8 L798.7,338.6 L800.2,345.4 L801.7,352.2 L803.2,359.1 L804.7,366.0 L806.2,372.9 L807.7,379.8 L809.2,386.7 L810.7,393.6 L812.2,400.6 L813.7,407.5 L815.2,414.4 L816.7,421.3 L818.2,428.1 L819.7,435.0 L821.2,441.8 L822.7,448.6 L824.2,455.4 L825.7,462.1 L827.2,468.8 L828.7,475.5 L830.2,482.1 L831.7,488.7 L833.2,495.2 L834.7,501.7 L836.2,508.1 L837.7,514.5 L839.2,520.8 L840.7,527.0 L842.2,533.2 L843.7,539.3 L845.2,545.4 L846.7,551.4 L848.2,557.3 L849.7,563.2 L851.2,569.0 L852.7,574.7 L854.2,580.3 L855.7,585.9 L857.2,591.4 L858.7,596.8 L860.2,602.1 L861.7,607.4 L863.2,612.6 L864.7,617.6 L866.2,622.7 L867.7,627.6 L869.2,632.4 L870.7,637.2 L872.2,641.8 L873.7,646.4 L875.2,650.9 L876.7,655.4 L878.2,659.7 L879.7,664.0 L881.2,668.1 L882.7,672.2 L884.2,676.2 L885.7,680.1 L887.2,684.0 L888.7,687.7 L890.2,691.4 L891.7,695.0 L893.2,698.5 L894.7,701.9 L896.2,705.3 L897.7,708.6 L899.2,711.8 L900.7,714.9 L902.2,717.9 L903.7,720.9 L905.2,723.8 L906.7,726.6 L908.2,729.3 L909.7,732.0 L911.2,734.6 L912.7,737.1 L914.2,739.6 L915.7,742.0 L917.2,744.3 L918.7,746.6 L920.2,748.8 L921.7,750.9 L923.2,753.0 L924.7,755.0 L926.2,757.0 L927.7,758.9 L929.2,760.7 L930.7,762.5 L932.2,764.2 L933.7,765.9 L935.2,767.5 L936.7,769.1 L938.2,770.6 L939.7,772.1 L941.2,773.5 L942.7,774.9 L944.2,776.2 L945.7,777.5 L947.2,778.7 L948.7,779.9 L950.2,781.0 L951.7,782.2 L953.2,783.2 L954.7,784.3 L956.2,785.3 L957.7,786.2 L959.2,787.2 L960.7,788.1 L962.2,788.9 L963.7,789.7 L965.2,790.5 L966.7,791.3 L968.2,792.0 L969.7,792.8 L971.2,793.4 L972.7,794.1 L974.2,794.7 L975.7,795.3 L977.2,795.9 L978.7,796.5 L980.2,797.0 L981.7,797.5 L983.2,798.0 L984.7,798.5 L986.2,798.9 L987.7,799.4 L989.2,799.8 L990.7,800.2 L992.2,800.5 L993.7,800.9 L995.2,801.3 L996.7,801.6 L998.2,801.9 L999.7,802.2 L1001.2,802.5 L1002.7,802.8 L1004.2,803.0 L1005.7,803.3 L1007.2,803.5 L1008.7,803.8 L1010.2,804.0 L1011.7,804.2 L1013.2,804.4 L1014.7,804.6 L1016.2,804.7 L1017.7,804.9 L1019.2,805.1 L1020.7,805.2 L1022.2,805.4 L1023.7,805.5 L1025.2,805.7 L1026.7,805.8 L1028.2,805.9 L1029.7,806.0 L1031.2,806.1 L1032.7,806.2 L1034.2,806.3 L1035.7,806.4 L1037.2,806.5 L1038.7,806.6 L1040.2,806.7 L1041.7,806.8 L1043.2,806.8 L1044.7,806.9 L1046.2,807.0 L1047.7,807.0 L1049.2,807.1 L1050.7,807.1 L1052.2,807.2" stroke="#ff00ff" stroke-width="5.5" stroke-dasharray="7 25"/>
</g>
<line x1="286.1" y1="809.8" x2="286.1" y2="796.8" stroke="#000" stroke-width="5"/>
<line x1="481.8" y1="809.8" x2="481.8" y2="796.8" stroke="#000" stroke-width="5"/>
<line x1="681.0" y1="809.8" x2="681.0" y2="796.8" stroke="#000" stroke-width="5"/>
<line x1="877.7" y1="809.8" x2="877.7" y2="796.8" stroke="#000" stroke-width="5"/>
<line x1="100.0" y1="96.3" x2="186.6" y2="96.3" stroke="#ff0000" stroke-width="5"/>
<line x1="100.0" y1="147.0" x2="186.6" y2="147.0" stroke="#000" stroke-width="5" stroke-dasharray="21 16"/>
<line x1="100.0" y1="198.0" x2="186.6" y2="198.0" stroke="#ff00ff" stroke-width="5" stroke-dasharray="8 23.5"/>
<text transform="translate(212.18,109.50) scale(1.0621,1)" font-size="38.5" font-weight="bold">peak</text>
<text transform="translate(212.82,159.90) scale(1.0516,1)" font-size="38.5" font-weight="bold">cumulative fitted peak</text>
<text transform="translate(212.70,209.90) scale(1.0516,1)" font-size="38.5" font-weight="bold">fitted peak</text>
<text transform="translate(99.11,277.10) scale(1.0792,1)" font-size="48.1" font-weight="bold">PBD</text>
<text transform="translate(205.40,287.20) scale(0.9196,1)" font-size="34.4" font-weight="normal">80%</text>
<text transform="translate(269.44,277.40) scale(1.0500,1)" font-size="48.1" font-weight="bold">PU</text>
<text transform="translate(337.15,287.20) scale(0.9608,1)" font-size="34.4" font-weight="normal">20%</text>
<text transform="translate(245.69,854.40) scale(0.9100,1)" font-size="40.0" font-weight="normal">1640</text>
<text transform="translate(444.69,854.40) scale(0.9100,1)" font-size="40.0" font-weight="normal">1680</text>
<text transform="translate(639.89,854.40) scale(0.9100,1)" font-size="40.0" font-weight="normal">1720</text>
<text transform="translate(839.79,854.40) scale(0.9100,1)" font-size="40.0" font-weight="normal">1760</text>
<text transform="translate(374.48,904.90) scale(1.0449,1)" font-size="38.5" font-weight="bold">wavenumber</text>
<text transform="translate(598.67,904.90) scale(1.1428,1)" font-size="38.5" font-weight="normal">(</text>
<text transform="translate(613.19,904.90) scale(0.9940,1)" font-size="38.5" font-weight="bold">cm</text>
<text transform="translate(664.44,888.60) scale(1.0481,1)" font-size="26.0" font-weight="normal">&#8722;1</text>
<text transform="translate(699.88,904.90) scale(1.2237,1)" font-size="38.5" font-weight="normal">)</text>
<text transform="translate(61.00,548.28) rotate(-90) scale(1.0317,1)" font-size="38.5" font-weight="bold">absorbance</text>
<text transform="translate(61.00,352.50) rotate(-90) scale(1.1832,1)" font-size="38.5" font-weight="normal">(</text>
<text transform="translate(61.00,337.06) rotate(-90) scale(1.0144,1)" font-size="38.5" font-weight="bold">a.u.</text>
<text transform="translate(61.00,276.28) rotate(-90) scale(1.2742,1)" font-size="38.5" font-weight="normal">)</text>
<rect x="1131.5" y="32.8" width="960.0" height="776.6" fill="none" stroke="#000" stroke-width="5.0"/>
<clipPath id="c2"><rect x="1134.0" y="33.3" width="955.0" height="776.1"/></clipPath>
<g clip-path="url(#c2)" fill="none" stroke-linejoin="round">
<path d="M1134.0,630.5 L1136.0,629.8 L1138.0,629.1 L1140.0,628.3 L1142.0,627.4 L1144.0,626.5 L1146.0,625.5 L1148.0,624.5 L1150.0,623.5 L1152.0,622.4 L1154.0,621.2 L1156.0,619.9 L1158.0,618.5 L1160.0,617.1 L1162.0,615.6 L1164.0,614.1 L1166.0,612.5 L1168.0,610.8 L1170.0,609.1 L1172.0,607.3 L1174.0,605.3 L1176.0,603.2 L1178.0,601.1 L1180.0,599.0 L1182.0,596.9 L1184.0,594.8 L1186.0,592.8 L1188.0,590.9 L1190.0,588.9 L1192.0,587.0 L1194.0,585.1 L1196.0,583.2 L1198.0,581.4 L1200.0,579.5 L1202.0,577.7 L1204.0,575.9 L1206.0,574.0 L1208.0,572.2 L1210.0,570.4 L1212.0,568.6 L1214.0,566.7 L1216.0,564.9 L1218.0,563.1 L1220.0,561.4 L1222.0,559.7 L1224.0,558.0 L1226.0,556.4 L1228.0,554.9 L1230.0,553.3 L1232.0,551.8 L1234.0,550.2 L1236.0,548.8 L1238.0,547.4 L1240.0,546.0 L1242.0,544.9 L1244.0,543.9 L1246.0,543.0 L1248.0,542.2 L1250.0,541.4 L1252.0,540.6 L1254.0,539.9 L1256.0,539.3 L1258.0,538.7 L1260.0,538.2 L1262.0,537.9 L1264.0,537.7 L1266.0,537.6 L1268.0,537.6 L1270.0,537.6 L1272.0,537.6 L1274.0,537.6 L1276.0,537.6 L1278.0,537.6 L1280.0,537.7 L1282.0,538.0 L1284.0,538.5 L1286.0,539.2 L1288.0,540.1 L1290.0,541.0 L1292.0,541.9 L1294.0,542.9 L1296.0,543.9 L1298.0,544.8 L1300.0,545.8 L1302.0,546.9 L1304.0,548.1 L1306.0,549.3 L1308.0,550.6 L1310.0,552.0 L1312.0,553.3 L1314.0,554.8 L1316.0,556.2 L1318.0,557.7 L1320.0,559.2 L1322.0,560.9 L1324.0,562.6 L1326.0,564.4 L1328.0,566.2 L1330.0,568.0 L1332.0,569.8 L1334.0,571.6 L1336.0,573.3 L1338.0,575.0 L1340.0,576.8 L1342.0,578.5 L1344.0,580.2 L1346.0,582.0 L1348.0,583.7 L1350.0,585.5 L1352.0,587.2 L1354.0,589.0 L1356.0,590.8 L1358.0,592.7 L1360.0,594.6 L1362.0,596.5 L1364.0,598.4 L1366.0,600.3 L1368.0,602.2 L1370.0,604.1 L1372.0,606.0 L1374.0,607.8 L1376.0,609.5 L1378.0,611.3 L1380.0,613.0 L1382.0,614.7 L1384.0,616.4 L1386.0,618.1 L1388.0,619.7 L1390.0,621.3 L1392.0,622.9 L1394.0,624.4 L1396.0,625.8 L1398.0,627.2 L1400.0,628.6 L1402.0,629.9 L1404.0,631.2 L1406.0,632.4 L1408.0,633.7 L1410.0,634.9 L1412.0,636.0 L1414.0,637.2 L1416.0,638.3 L1418.0,639.4 L1420.0,640.5 L1422.0,641.6 L1424.0,642.7 L1426.0,643.7 L1428.0,644.8 L1430.0,645.7 L1432.0,646.7 L1434.0,647.6 L1436.0,648.4 L1438.0,649.2 L1440.0,649.9 L1442.0,650.7 L1444.0,651.4 L1446.0,652.1 L1448.0,652.8 L1450.0,653.4 L1452.0,654.0 L1454.0,654.5 L1456.0,654.9 L1458.0,655.3 L1460.0,655.7 L1462.0,656.0 L1464.0,656.4 L1466.0,656.7 L1468.0,657.0 L1470.0,657.3 L1472.0,657.5 L1474.0,657.7 L1476.0,657.8 L1478.0,657.8 L1480.0,657.8 L1482.0,657.8 L1484.0,657.8 L1486.0,657.8 L1488.0,657.8 L1490.0,657.8 L1492.0,657.8 L1494.0,657.8 L1496.0,657.8 L1498.0,657.8 L1500.0,657.8 L1502.0,657.7 L1504.0,657.5 L1506.0,657.3 L1508.0,657.0 L1510.0,656.7 L1512.0,656.4 L1514.0,656.1 L1516.0,655.7 L1518.0,655.3 L1520.0,655.0 L1522.0,654.5 L1524.0,654.1 L1526.0,653.5 L1528.0,652.9 L1530.0,652.3 L1532.0,651.6 L1534.0,650.9 L1536.0,650.1 L1538.0,649.3 L1540.0,648.5 L1542.0,647.6 L1544.0,646.6 L1546.0,645.5 L1548.0,644.4 L1550.0,643.1 L1552.0,641.8 L1554.0,640.4 L1556.0,638.9 L1558.0,637.4 L1560.0,635.7 L1562.0,633.9 L1564.0,631.9 L1566.0,629.7 L1568.0,627.4 L1570.0,624.9 L1572.0,622.3 L1574.0,619.6 L1576.0,616.8 L1578.0,613.9 L1580.0,610.7 L1582.0,607.4 L1584.0,604.0 L1586.0,600.5 L1588.0,596.9 L1590.0,593.2 L1592.0,589.6 L1594.0,585.8 L1596.0,581.9 L1598.0,577.9 L1600.0,573.8 L1602.0,569.6 L1604.0,565.2 L1606.0,560.7 L1608.0,556.0 L1610.0,551.2 L1612.0,546.3 L1614.0,541.3 L1616.0,536.3 L1618.0,531.3 L1620.0,526.4 L1622.0,521.4 L1624.0,516.3 L1626.0,511.0 L1628.0,505.3 L1630.0,499.3 L1632.0,492.8 L1634.0,485.9 L1636.0,478.8 L1638.0,471.7 L1640.0,464.7 L1642.0,457.8 L1644.0,450.9 L1646.0,444.1 L1648.0,437.2 L1650.0,430.2 L1652.0,423.1 L1654.0,415.9 L1656.0,408.5 L1658.0,400.9 L1660.0,393.1 L1662.0,385.1 L1664.0,377.0 L1666.0,368.9 L1668.0,360.7 L1670.0,352.5 L1672.0,344.4 L1674.0,336.1 L1676.0,327.7 L1678.0,319.3 L1680.0,310.9 L1682.0,302.5 L1684.0,294.3 L1686.0,286.3 L1688.0,278.5 L1690.0,271.2 L1692.0,264.1 L1694.0,257.0 L1696.0,249.3 L1698.0,241.6 L1700.0,234.4 L1702.0,227.7 L1704.0,221.4 L1706.0,215.6 L1708.0,210.2 L1710.0,205.2 L1712.0,200.4 L1714.0,195.6 L1716.0,191.0 L1718.0,186.5 L1720.0,182.4 L1722.0,178.4 L1724.0,174.6 L1726.0,170.6 L1728.0,166.4 L1730.0,162.1 L1732.0,158.3 L1734.0,155.1 L1736.0,152.3 L1738.0,149.7 L1740.0,147.2 L1742.0,144.5 L1744.0,141.9 L1746.0,140.3 L1748.0,140.2 L1750.0,140.6 L1752.0,141.2 L1754.0,142.0 L1756.0,142.8 L1758.0,143.7 L1760.0,144.9 L1762.0,146.3 L1764.0,147.9 L1766.0,150.4 L1768.0,153.8 L1770.0,157.5 L1772.0,161.8 L1774.0,166.6 L1776.0,171.4 L1778.0,176.0 L1780.0,180.6 L1782.0,185.2 L1784.0,189.7 L1786.0,194.1 L1788.0,198.8 L1790.0,203.9 L1792.0,209.3 L1794.0,215.5 L1796.0,222.6 L1798.0,230.0 L1800.0,237.2 L1802.0,244.6 L1804.0,252.3 L1806.0,260.2 L1808.0,268.5 L1810.0,277.1 L1812.0,285.9 L1814.0,295.0 L1816.0,304.0 L1818.0,313.0 L1820.0,322.1 L1822.0,331.2 L1824.0,340.4 L1826.0,349.6 L1828.0,358.8 L1830.0,368.0 L1832.0,377.2 L1834.0,386.3 L1836.0,395.5 L1838.0,404.6 L1840.0,413.8 L1842.0,422.9 L1844.0,432.1 L1846.0,441.3 L1848.0,450.6 L1850.0,459.9 L1852.0,469.2 L1854.0,478.4 L1856.0,487.5 L1858.0,496.2 L1860.0,504.7 L1862.0,513.1 L1864.0,521.3 L1866.0,529.3 L1868.0,537.3 L1870.0,545.0 L1872.0,552.7 L1874.0,560.3 L1876.0,567.7 L1878.0,575.0 L1880.0,582.2 L1882.0,589.3 L1884.0,596.3 L1886.0,603.1 L1888.0,609.8 L1890.0,616.4 L1892.0,622.9 L1894.0,629.3 L1896.0,635.7 L1898.0,642.0 L1900.0,648.1 L1902.0,653.9 L1904.0,659.3 L1906.0,664.4 L1908.0,669.1 L1910.0,673.7 L1912.0,678.1 L1914.0,682.3 L1916.0,686.4 L1918.0,690.2 L1920.0,694.0 L1922.0,697.6 L1924.0,701.0 L1926.0,704.3 L1928.0,707.4 L1930.0,710.5 L1932.0,713.6 L1934.0,716.5 L1936.0,719.3 L1938.0,722.1 L1940.0,724.7 L1942.0,727.3 L1944.0,729.7 L1946.0,731.9 L1948.0,734.1 L1950.0,736.1 L1952.0,738.0 L1954.0,739.9 L1956.0,741.7 L1958.0,743.5 L1960.0,745.2 L1962.0,746.9 L1964.0,748.5 L1966.0,750.1 L1968.0,751.6 L1970.0,753.0 L1972.0,754.4 L1974.0,755.7 L1976.0,756.9 L1978.0,758.0 L1980.0,759.0 L1982.0,760.0 L1984.0,760.9 L1986.0,761.8 L1988.0,762.6 L1990.0,763.4 L1992.0,764.1 L1994.0,764.9 L1996.0,765.6 L1998.0,766.2 L2000.0,766.9 L2002.0,767.5 L2004.0,768.1 L2006.0,768.7 L2008.0,769.3 L2010.0,769.8 L2012.0,770.3 L2014.0,770.9 L2016.0,771.4 L2018.0,771.9 L2020.0,772.4 L2022.0,772.9 L2024.0,773.3 L2026.0,773.8 L2028.0,774.2 L2030.0,774.7 L2032.0,775.1 L2034.0,775.5 L2036.0,776.0 L2038.0,776.4 L2040.0,776.8 L2042.0,777.1 L2044.0,777.5 L2046.0,777.9 L2048.0,778.2 L2050.0,778.6 L2052.0,778.9 L2054.0,779.2 L2056.0,779.5 L2058.0,779.8 L2060.0,780.1 L2062.0,780.4 L2064.0,780.7 L2066.0,781.0 L2068.0,781.3 L2070.0,781.5 L2072.0,781.8 L2074.0,782.0 L2076.0,782.3 L2078.0,782.5 L2080.0,782.7 L2082.0,782.9 L2084.0,783.1 L2086.0,783.3 L2088.0,783.5" stroke="#ff0000" stroke-width="5"/>
<path d="M1134.0,629.3 L1135.5,629.1 L1137.0,628.8 L1138.5,628.5 L1140.0,628.1 L1141.5,627.6 L1143.0,627.1 L1144.5,626.5 L1146.0,625.9 L1147.5,625.2 L1149.0,624.4 L1150.5,623.6 L1152.0,622.8 L1153.5,621.9 L1155.0,621.0 L1156.5,620.0 L1158.0,619.0 L1159.5,617.9 L1161.0,616.8 L1162.5,615.7 L1164.0,614.5 L1165.5,613.3 L1167.0,612.0 L1168.5,610.8 L1170.0,609.4 L1171.5,608.1 L1173.0,606.7 L1174.5,605.3 L1176.0,603.9 L1177.5,602.5 L1179.0,601.0 L1180.5,599.5 L1182.0,598.0 L1183.5,596.6 L1185.0,595.1 L1186.5,593.6 L1188.0,592.1 L1189.5,590.5 L1191.0,589.0 L1192.5,587.5 L1194.0,586.0 L1195.5,584.6 L1197.0,583.1 L1198.5,581.6 L1200.0,580.1 L1201.5,578.6 L1203.0,577.1 L1204.5,575.7 L1206.0,574.2 L1207.5,572.8 L1209.0,571.3 L1210.5,569.9 L1212.0,568.5 L1213.5,567.0 L1215.0,565.6 L1216.5,564.3 L1218.0,562.9 L1219.5,561.6 L1221.0,560.2 L1222.5,558.9 L1224.0,557.6 L1225.5,556.4 L1227.0,555.2 L1228.5,554.0 L1230.0,552.8 L1231.5,551.6 L1233.0,550.5 L1234.5,549.4 L1236.0,548.4 L1237.5,547.4 L1239.0,546.4 L1240.5,545.5 L1242.0,544.6 L1243.5,543.8 L1245.0,543.0 L1246.5,542.2 L1248.0,541.5 L1249.5,540.9 L1251.0,540.3 L1252.5,539.7 L1254.0,539.2 L1255.5,538.8 L1257.0,538.4 L1258.5,538.0 L1260.0,537.7 L1261.5,537.4 L1263.0,537.2 L1264.5,537.0 L1266.0,536.9 L1267.5,536.8 L1269.0,536.8 L1270.5,536.8 L1272.0,536.9 L1273.5,537.0 L1275.0,537.1 L1276.5,537.3 L1278.0,537.6 L1279.5,537.9 L1281.0,538.2 L1282.5,538.6 L1284.0,539.1 L1285.5,539.5 L1287.0,540.1 L1288.5,540.6 L1290.0,541.2 L1291.5,541.9 L1293.0,542.6 L1294.5,543.3 L1296.0,544.0 L1297.5,544.8 L1299.0,545.7 L1300.5,546.5 L1302.0,547.4 L1303.5,548.3 L1305.0,549.2 L1306.5,550.2 L1308.0,551.2 L1309.5,552.2 L1311.0,553.3 L1312.5,554.3 L1314.0,555.4 L1315.5,556.6 L1317.0,557.7 L1318.5,558.9 L1320.0,560.1 L1321.5,561.3 L1323.0,562.5 L1324.5,563.7 L1326.0,565.0 L1327.5,566.2 L1329.0,567.5 L1330.5,568.8 L1332.0,570.1 L1333.5,571.3 L1335.0,572.6 L1336.5,573.9 L1338.0,575.2 L1339.5,576.6 L1341.0,577.9 L1342.5,579.2 L1344.0,580.5 L1345.5,581.8 L1347.0,583.1 L1348.5,584.4 L1350.0,585.8 L1351.5,587.1 L1353.0,588.4 L1354.5,589.8 L1356.0,591.1 L1357.5,592.4 L1359.0,593.8 L1360.5,595.1 L1362.0,596.5 L1363.5,597.8 L1365.0,599.2 L1366.5,600.5 L1368.0,601.9 L1369.5,603.2 L1371.0,604.6 L1372.5,605.9 L1374.0,607.2 L1375.5,608.5 L1377.0,609.8 L1378.5,611.1 L1380.0,612.4 L1381.5,613.7 L1383.0,614.9 L1384.5,616.1 L1386.0,617.4 L1387.5,618.6 L1389.0,619.8 L1390.5,621.0 L1392.0,622.1 L1393.5,623.3 L1395.0,624.4 L1396.5,625.5 L1398.0,626.6 L1399.5,627.7 L1401.0,628.7 L1402.5,629.8 L1404.0,630.8 L1405.5,631.8 L1407.0,632.8 L1408.5,633.8 L1410.0,634.7 L1411.5,635.6 L1413.0,636.6 L1414.5,637.5 L1416.0,638.4 L1417.5,639.2 L1419.0,640.1 L1420.5,640.9 L1422.0,641.7 L1423.5,642.5 L1425.0,643.3 L1426.5,644.1 L1428.0,644.8 L1429.5,645.5 L1431.0,646.2 L1432.5,646.9 L1434.0,647.6 L1435.5,648.2 L1437.0,648.8 L1438.5,649.4 L1440.0,650.0 L1441.5,650.5 L1443.0,651.0 L1444.5,651.5 L1446.0,652.0 L1447.5,652.5 L1449.0,652.9 L1450.5,653.3 L1452.0,653.7 L1453.5,654.1 L1455.0,654.4 L1456.5,654.7 L1458.0,655.0 L1459.5,655.3 L1461.0,655.6 L1462.5,655.9 L1464.0,656.1 L1465.5,656.3 L1467.0,656.5 L1468.5,656.7 L1470.0,656.9 L1471.5,657.1 L1473.0,657.2 L1474.5,657.4 L1476.0,657.5 L1477.5,657.6 L1479.0,657.7 L1480.5,657.8 L1482.0,657.9 L1483.5,658.0 L1485.0,658.1 L1486.5,658.2 L1488.0,658.2 L1489.5,658.3 L1491.0,658.3 L1492.5,658.3 L1494.0,658.4 L1495.5,658.4 L1497.0,658.4 L1498.5,658.4 L1500.0,658.3 L1501.5,658.3 L1503.0,658.2 L1504.5,658.2 L1506.0,658.1 L1507.5,658.0 L1509.0,657.8 L1510.5,657.7 L1512.0,657.5 L1513.5,657.3 L1515.0,657.1 L1516.5,656.9 L1518.0,656.6 L1519.5,656.3 L1521.0,656.0 L1522.5,655.6 L1524.0,655.2 L1525.5,654.8 L1527.0,654.4 L1528.5,653.9 L1530.0,653.4 L1531.5,652.8 L1533.0,652.3 L1534.5,651.6 L1536.0,651.0 L1537.5,650.3 L1539.0,649.5 L1540.5,648.7 L1542.0,647.9 L1543.5,647.0 L1545.0,646.1 L1546.5,645.2 L1548.0,644.2 L1549.5,643.1 L1551.0,642.0 L1552.5,640.9 L1554.0,639.7 L1555.5,638.4 L1557.0,637.1 L1558.5,635.8 L1560.0,634.3 L1561.5,632.9 L1563.0,631.3 L1564.5,629.7 L1566.0,628.1 L1567.5,626.3 L1569.0,624.5 L1570.5,622.7 L1572.0,620.8 L1573.5,618.8 L1575.0,616.8 L1576.5,614.7 L1578.0,612.5 L1579.5,610.3 L1581.0,608.0 L1582.5,605.7 L1584.0,603.3 L1585.5,600.8 L1587.0,598.3 L1588.5,595.7 L1590.0,593.1 L1591.5,590.4 L1593.0,587.7 L1594.5,584.9 L1596.0,582.0 L1597.5,579.1 L1599.0,576.1 L1600.5,573.1 L1602.0,569.9 L1603.5,566.8 L1605.0,563.5 L1606.5,560.2 L1608.0,556.9 L1609.5,553.4 L1611.0,549.9 L1612.5,546.4 L1614.0,542.7 L1615.5,539.0 L1617.0,535.2 L1618.5,531.3 L1620.0,527.4 L1621.5,523.3 L1623.0,519.2 L1624.5,515.0 L1626.0,510.7 L1627.5,506.3 L1629.0,501.8 L1630.5,497.2 L1632.0,492.5 L1633.5,487.7 L1635.0,482.9 L1636.5,477.9 L1638.0,472.9 L1639.5,467.8 L1641.0,462.7 L1642.5,457.4 L1644.0,452.1 L1645.5,446.8 L1647.0,441.4 L1648.5,435.9 L1650.0,430.4 L1651.5,424.8 L1653.0,419.1 L1654.5,413.4 L1656.0,407.7 L1657.5,401.9 L1659.0,396.0 L1660.5,390.2 L1662.0,384.2 L1663.5,378.3 L1665.0,372.3 L1666.5,366.3 L1668.0,360.2 L1669.5,354.2 L1671.0,348.1 L1672.5,342.1 L1674.0,336.1 L1675.5,330.0 L1677.0,324.0 L1678.5,318.0 L1680.0,312.1 L1681.5,306.1 L1683.0,300.3 L1684.5,294.4 L1686.0,288.6 L1687.5,282.9 L1689.0,277.2 L1690.5,271.6 L1692.0,266.1 L1693.5,260.6 L1695.0,255.3 L1696.5,250.0 L1698.0,244.8 L1699.5,239.6 L1701.0,234.6 L1702.5,229.7 L1704.0,224.9 L1705.5,220.2 L1707.0,215.7 L1708.5,211.2 L1710.0,206.9 L1711.5,202.7 L1713.0,198.7 L1714.5,194.8 L1716.0,191.0 L1717.5,187.4 L1719.0,184.0 L1720.5,180.7 L1722.0,177.6 L1723.5,174.6 L1725.0,171.8 L1726.5,169.2 L1728.0,166.7 L1729.5,164.4 L1731.0,162.3 L1732.5,160.3 L1734.0,158.5 L1735.5,156.9 L1737.0,155.5 L1738.5,154.2 L1740.0,153.2 L1741.5,152.3 L1743.0,151.5 L1744.5,151.0 L1746.0,150.6 L1747.5,150.5 L1749.0,150.4 L1750.5,150.6 L1752.0,151.0 L1753.5,151.5 L1755.0,152.2 L1756.5,153.1 L1758.0,154.1 L1759.5,155.4 L1761.0,156.7 L1762.5,158.3 L1764.0,160.0 L1765.5,161.9 L1767.0,163.9 L1768.5,166.1 L1770.0,168.4 L1771.5,170.8 L1773.0,173.4 L1774.5,176.1 L1776.0,178.9 L1777.5,181.9 L1779.0,184.9 L1780.5,188.1 L1782.0,191.4 L1783.5,194.8 L1785.0,198.3 L1786.5,202.0 L1788.0,205.8 L1789.5,209.7 L1791.0,213.7 L1792.5,217.9 L1794.0,222.3 L1795.5,226.8 L1797.0,231.4 L1798.5,236.3 L1800.0,241.3 L1801.5,246.4 L1803.0,251.8 L1804.5,257.3 L1806.0,262.9 L1807.5,268.7 L1809.0,274.7 L1810.5,280.8 L1812.0,287.0 L1813.5,293.3 L1815.0,299.8 L1816.5,306.3 L1818.0,312.9 L1819.5,319.5 L1821.0,326.3 L1822.5,333.1 L1824.0,339.9 L1825.5,346.7 L1827.0,353.6 L1828.5,360.5 L1830.0,367.4 L1831.5,374.4 L1833.0,381.3 L1834.5,388.3 L1836.0,395.2 L1837.5,402.2 L1839.0,409.1 L1840.5,416.1 L1842.0,423.0 L1843.5,429.9 L1845.0,436.8 L1846.5,443.7 L1848.0,450.5 L1849.5,457.3 L1851.0,464.1 L1852.5,470.8 L1854.0,477.4 L1855.5,484.0 L1857.0,490.6 L1858.5,497.1 L1860.0,503.5 L1861.5,509.8 L1863.0,516.1 L1864.5,522.2 L1866.0,528.3 L1867.5,534.4 L1869.0,540.3 L1870.5,546.1 L1872.0,551.9 L1873.5,557.5 L1875.0,563.1 L1876.5,568.6 L1878.0,574.0 L1879.5,579.3 L1881.0,584.6 L1882.5,589.7 L1884.0,594.8 L1885.5,599.8 L1887.0,604.8 L1888.5,609.7 L1890.0,614.5 L1891.5,619.2 L1893.0,623.9 L1894.5,628.5 L1896.0,633.1 L1897.5,637.5 L1899.0,642.0 L1900.5,646.3 L1902.0,650.6 L1903.5,654.9 L1905.0,659.1 L1906.5,663.2 L1908.0,667.2 L1909.5,671.2 L1911.0,675.0 L1912.5,678.9 L1914.0,682.6 L1915.5,686.3 L1917.0,689.8 L1918.5,693.4 L1920.0,696.8 L1921.5,700.2 L1923.0,703.4 L1924.5,706.7 L1926.0,709.8 L1927.5,712.8 L1929.0,715.8 L1930.5,718.7 L1932.0,721.6 L1933.5,724.3 L1935.0,727.0 L1936.5,729.7 L1938.0,732.2 L1939.5,734.7 L1941.0,737.1 L1942.5,739.5 L1944.0,741.8 L1945.5,744.0 L1947.0,746.2 L1948.5,748.3 L1950.0,750.3 L1951.5,752.3 L1953.0,754.3 L1954.5,756.1 L1956.0,757.9 L1957.5,759.7 L1959.0,761.4 L1960.5,763.0 L1962.0,764.6 L1963.5,766.2 L1965.0,767.7 L1966.5,769.1 L1968.0,770.5 L1969.5,771.9 L1971.0,773.2 L1972.5,774.5 L1974.0,775.7 L1975.5,776.9 L1977.0,778.0 L1978.5,779.1 L1980.0,780.2 L1981.5,781.2 L1983.0,782.2 L1984.5,783.2 L1986.0,784.1 L1987.5,785.0 L1989.0,785.8 L1990.5,786.7 L1992.0,787.5 L1993.5,788.2 L1995.0,788.9 L1996.5,789.7 L1998.0,790.3 L1999.5,791.0 L2001.0,791.6 L2002.5,792.2 L2004.0,792.8 L2005.5,793.3 L2007.0,793.9 L2008.5,794.4 L2010.0,794.9 L2011.5,795.3 L2013.0,795.8 L2014.5,796.2 L2016.0,796.6 L2017.5,797.0 L2019.0,797.4 L2020.5,797.8 L2022.0,798.1 L2023.5,798.4 L2025.0,798.8 L2026.5,799.1 L2028.0,799.3 L2029.5,799.6 L2031.0,799.9 L2032.5,800.1 L2034.0,800.4 L2035.5,800.6 L2037.0,800.8 L2038.5,801.0 L2040.0,801.2 L2041.5,801.4 L2043.0,801.6 L2044.5,801.8 L2046.0,801.9 L2047.5,802.1 L2049.0,802.2 L2050.5,802.4 L2052.0,802.5 L2053.5,802.7 L2055.0,802.8 L2056.5,802.9 L2058.0,803.0 L2059.5,803.1 L2061.0,803.2 L2062.5,803.3 L2064.0,803.4 L2065.5,803.5 L2067.0,803.6 L2068.5,803.6 L2070.0,803.7 L2071.5,803.8 L2073.0,803.8 L2074.5,803.9 L2076.0,804.0 L2077.5,804.0 L2079.0,804.1 L2080.5,804.1 L2082.0,804.2 L2083.5,804.2 L2085.0,804.2 L2086.5,804.3 L2088.0,804.3" stroke="#000" stroke-width="5" stroke-dasharray="21 16"/>
<path d="M1134.0,783.5 L1135.5,782.4 L1137.0,781.3 L1138.5,780.2 L1140.0,779.0 L1141.5,777.8 L1143.0,776.5 L1144.5,775.2 L1146.0,773.8 L1147.5,772.5 L1149.0,771.0 L1150.5,769.5 L1152.0,768.0 L1153.5,766.5 L1155.0,764.9 L1156.5,763.2 L1158.0,761.5 L1159.5,759.8 L1161.0,758.0 L1162.5,756.2 L1164.0,754.4 L1165.5,752.5 L1167.0,750.6 L1168.5,748.6 L1170.0,746.6 L1171.5,744.6 L1173.0,742.6 L1174.5,740.5 L1176.0,738.3 L1177.5,736.2 L1179.0,734.0 L1180.5,731.8 L1182.0,729.6 L1183.5,727.3 L1185.0,725.1 L1186.5,722.8 L1188.0,720.5 L1189.5,718.2 L1191.0,715.9 L1192.5,713.6 L1194.0,711.2 L1195.5,708.9 L1197.0,706.6 L1198.5,704.2 L1200.0,701.9 L1201.5,699.6 L1203.0,697.3 L1204.5,695.0 L1206.0,692.8 L1207.5,690.5 L1209.0,688.3 L1210.5,686.1 L1212.0,684.0 L1213.5,681.9 L1215.0,679.8 L1216.5,677.7 L1218.0,675.7 L1219.5,673.8 L1221.0,671.9 L1222.5,670.1 L1224.0,668.3 L1225.5,666.5 L1227.0,664.9 L1228.5,663.3 L1230.0,661.7 L1231.5,660.3 L1233.0,658.9 L1234.5,657.6 L1236.0,656.3 L1237.5,655.2 L1239.0,654.1 L1240.5,653.1 L1242.0,652.2 L1243.5,651.4 L1245.0,650.6 L1246.5,650.0 L1248.0,649.4 L1249.5,649.0 L1251.0,648.6 L1252.5,648.3 L1254.0,648.1 L1255.5,648.0 L1257.0,648.0 L1258.5,648.1 L1260.0,648.3 L1261.5,648.6 L1263.0,649.0 L1264.5,649.5 L1266.0,650.0 L1267.5,650.7 L1269.0,651.4 L1270.5,652.2 L1272.0,653.2 L1273.5,654.2 L1275.0,655.2 L1276.5,656.4 L1278.0,657.6 L1279.5,659.0 L1281.0,660.4 L1282.5,661.8 L1284.0,663.4 L1285.5,665.0 L1287.0,666.6 L1288.5,668.4 L1290.0,670.2 L1291.5,672.0 L1293.0,673.9 L1294.5,675.9 L1296.0,677.9 L1297.5,679.9 L1299.0,682.0 L1300.5,684.1 L1302.0,686.3 L1303.5,688.5 L1305.0,690.7 L1306.5,692.9 L1308.0,695.2 L1309.5,697.5 L1311.0,699.8 L1312.5,702.1 L1314.0,704.4 L1315.5,706.7 L1317.0,709.0 L1318.5,711.4 L1320.0,713.7 L1321.5,716.0 L1323.0,718.3 L1324.5,720.6 L1326.0,722.9 L1327.5,725.2 L1329.0,727.5 L1330.5,729.7 L1332.0,732.0 L1333.5,734.2 L1335.0,736.3 L1336.5,738.5 L1338.0,740.6 L1339.5,742.7 L1341.0,744.7 L1342.5,746.8 L1344.0,748.8 L1345.5,750.7 L1347.0,752.6 L1348.5,754.5 L1350.0,756.3 L1351.5,758.2 L1353.0,759.9 L1354.5,761.6 L1356.0,763.3 L1357.5,765.0 L1359.0,766.6 L1360.5,768.1 L1362.0,769.6 L1363.5,771.1 L1365.0,772.5 L1366.5,773.9 L1368.0,775.3 L1369.5,776.6 L1371.0,777.8 L1372.5,779.1 L1374.0,780.3 L1375.5,781.4 L1377.0,782.5 L1378.5,783.6 L1380.0,784.6 L1381.5,785.6 L1383.0,786.5 L1384.5,787.5 L1386.0,788.3 L1387.5,789.2 L1389.0,790.0 L1390.5,790.8 L1392.0,791.5 L1393.5,792.2 L1395.0,792.9 L1396.5,793.6 L1398.0,794.2 L1399.5,794.8 L1401.0,795.4 L1402.5,795.9 L1404.0,796.4 L1405.5,796.9 L1407.0,797.4 L1408.5,797.8 L1410.0,798.3 L1411.5,798.7 L1413.0,799.1 L1414.5,799.4 L1416.0,799.8 L1417.5,800.1 L1419.0,800.4 L1420.5,800.7 L1422.0,801.0 L1423.5,801.2 L1425.0,801.5 L1426.5,801.7 L1428.0,801.9 L1429.5,802.1 L1431.0,802.3 L1432.5,802.5 L1434.0,802.7 L1435.5,802.8 L1437.0,803.0 L1438.5,803.1 L1440.0,803.3 L1441.5,803.4 L1443.0,803.5 L1444.5,803.6 L1446.0,803.7 L1447.5,803.8 L1449.0,803.9 L1450.5,804.0 L1452.0,804.0 L1453.5,804.1 L1455.0,804.2 L1456.5,804.2 L1458.0,804.3" stroke="#ff00ff" stroke-width="3.6" stroke-dasharray="7 25"/>
<path d="M1146.6,804.4 L1148.1,804.4 L1149.6,804.3 L1151.1,804.3 L1152.6,804.2 L1154.1,804.2 L1155.6,804.1 L1157.1,804.1 L1158.6,804.0 L1160.1,803.9 L1161.6,803.9 L1163.1,803.8 L1164.6,803.7 L1166.1,803.6 L1167.6,803.5 L1169.1,803.4 L1170.6,803.3 L1172.1,803.2 L1173.6,803.1 L1175.1,803.0 L1176.6,802.9 L1178.1,802.7 L1179.6,802.6 L1181.1,802.5 L1182.6,802.3 L1184.1,802.1 L1185.6,802.0 L1187.1,801.8 L1188.6,801.6 L1190.1,801.4 L1191.6,801.2 L1193.1,801.0 L1194.6,800.7 L1196.1,800.5 L1197.6,800.2 L1199.1,800.0 L1200.6,799.7 L1202.1,799.4 L1203.6,799.1 L1205.1,798.8 L1206.6,798.5 L1208.1,798.1 L1209.6,797.7 L1211.1,797.4 L1212.6,797.0 L1214.1,796.6 L1215.6,796.1 L1217.1,795.7 L1218.6,795.2 L1220.1,794.7 L1221.6,794.2 L1223.1,793.7 L1224.6,793.2 L1226.1,792.6 L1227.6,792.0 L1229.1,791.4 L1230.6,790.8 L1232.1,790.2 L1233.6,789.5 L1235.1,788.8 L1236.6,788.1 L1238.1,787.4 L1239.6,786.6 L1241.1,785.8 L1242.6,785.0 L1244.1,784.2 L1245.6,783.3 L1247.1,782.4 L1248.6,781.5 L1250.1,780.6 L1251.6,779.6 L1253.1,778.6 L1254.6,777.6 L1256.1,776.6 L1257.6,775.5 L1259.1,774.4 L1260.6,773.3 L1262.1,772.1 L1263.6,770.9 L1265.1,769.7 L1266.6,768.5 L1268.1,767.3 L1269.6,766.0 L1271.1,764.7 L1272.6,763.3 L1274.1,762.0 L1275.6,760.6 L1277.1,759.2 L1278.6,757.8 L1280.1,756.3 L1281.6,754.9 L1283.1,753.4 L1284.6,751.9 L1286.1,750.3 L1287.6,748.8 L1289.1,747.2 L1290.6,745.6 L1292.1,744.0 L1293.6,742.4 L1295.1,740.8 L1296.6,739.1 L1298.1,737.5 L1299.6,735.8 L1301.1,734.1 L1302.6,732.4 L1304.1,730.7 L1305.6,729.0 L1307.1,727.3 L1308.6,725.6 L1310.1,723.9 L1311.6,722.2 L1313.1,720.5 L1314.6,718.8 L1316.1,717.1 L1317.6,715.4 L1319.1,713.8 L1320.6,712.1 L1322.1,710.4 L1323.6,708.8 L1325.1,707.2 L1326.6,705.5 L1328.1,704.0 L1329.6,702.4 L1331.1,700.8 L1332.6,699.3 L1334.1,697.8 L1335.6,696.3 L1337.1,694.9 L1338.6,693.5 L1340.1,692.1 L1341.6,690.7 L1343.1,689.4 L1344.6,688.1 L1346.1,686.9 L1347.6,685.7 L1349.1,684.5 L1350.6,683.4 L1352.1,682.4 L1353.6,681.3 L1355.1,680.4 L1356.6,679.4 L1358.1,678.6 L1359.6,677.7 L1361.1,677.0 L1362.6,676.2 L1364.1,675.6 L1365.6,675.0 L1367.1,674.4 L1368.6,673.9 L1370.1,673.5 L1371.6,673.1 L1373.1,672.7 L1374.6,672.5 L1376.1,672.3 L1377.6,672.1 L1379.1,672.0 L1380.6,672.0 L1382.1,672.0 L1383.6,672.1 L1385.1,672.2 L1386.6,672.4 L1388.1,672.7 L1389.6,673.0 L1391.1,673.4 L1392.6,673.8 L1394.1,674.3 L1395.6,674.9 L1397.1,675.5 L1398.6,676.2 L1400.1,676.9 L1401.6,677.6 L1403.1,678.5 L1404.6,679.3 L1406.1,680.2 L1407.6,681.2 L1409.1,682.2 L1410.6,683.3 L1412.1,684.4 L1413.6,685.6 L1415.1,686.7 L1416.6,688.0 L1418.1,689.2 L1419.6,690.6 L1421.1,691.9 L1422.6,693.3 L1424.1,694.7 L1425.6,696.1 L1427.1,697.6 L1428.6,699.1 L1430.1,700.6 L1431.6,702.2 L1433.1,703.8 L1434.6,705.3 L1436.1,707.0 L1437.6,708.6 L1439.1,710.2 L1440.6,711.9 L1442.1,713.5 L1443.6,715.2 L1445.1,716.9 L1446.6,718.6 L1448.1,720.3 L1449.6,722.0 L1451.1,723.7 L1452.6,725.4 L1454.1,727.1 L1455.6,728.8 L1457.1,730.5 L1458.6,732.2 L1460.1,733.9 L1461.6,735.6 L1463.1,737.3 L1464.6,738.9 L1466.1,740.6 L1467.6,742.2 L1469.1,743.8 L1470.6,745.4 L1472.1,747.0 L1473.6,748.6 L1475.1,750.1 L1476.6,751.7 L1478.1,753.2 L1479.6,754.7 L1481.1,756.1 L1482.6,757.6 L1484.1,759.0 L1485.6,760.4 L1487.1,761.8 L1488.6,763.2 L1490.1,764.5 L1491.6,765.8 L1493.1,767.1 L1494.6,768.4 L1496.1,769.6 L1497.6,770.8 L1499.1,772.0 L1500.6,773.1 L1502.1,774.2 L1503.6,775.3 L1505.1,776.4 L1506.6,777.5 L1508.1,778.5 L1509.6,779.5 L1511.1,780.4 L1512.6,781.4 L1514.1,782.3 L1515.6,783.2 L1517.1,784.1 L1518.6,784.9 L1520.1,785.7 L1521.6,786.5 L1523.1,787.3 L1524.6,788.0 L1526.1,788.7 L1527.6,789.4 L1529.1,790.1 L1530.6,790.7 L1532.1,791.4 L1533.6,792.0 L1535.1,792.6 L1536.6,793.1 L1538.1,793.7 L1539.6,794.2 L1541.1,794.7 L1542.6,795.2 L1544.1,795.6 L1545.6,796.1 L1547.1,796.5 L1548.6,796.9 L1550.1,797.3 L1551.6,797.7 L1553.1,798.1 L1554.6,798.4 L1556.1,798.7 L1557.6,799.1 L1559.1,799.4 L1560.6,799.7 L1562.1,799.9 L1563.6,800.2 L1565.1,800.5 L1566.6,800.7 L1568.1,800.9 L1569.6,801.2 L1571.1,801.4 L1572.6,801.6 L1574.1,801.8 L1575.6,801.9 L1577.1,802.1 L1578.6,802.3 L1580.1,802.4 L1581.6,802.6 L1583.1,802.7 L1584.6,802.9 L1586.1,803.0 L1587.6,803.1 L1589.1,803.2 L1590.6,803.3 L1592.1,803.4 L1593.6,803.5 L1595.1,803.6 L1596.6,803.7 L1598.1,803.8 L1599.6,803.9 L1601.1,803.9 L1602.6,804.0 L1604.1,804.1 L1605.6,804.1 L1607.1,804.2 L1608.6,804.2 L1610.1,804.3 L1611.6,804.3 L1613.1,804.4 L1614.6,804.4" stroke="#ff00ff" stroke-width="3.6" stroke-dasharray="7 25"/>
<path d="M1345.5,804.7 L1347.0,804.7 L1348.5,804.7 L1350.0,804.6 L1351.5,804.6 L1353.0,804.5 L1354.5,804.5 L1356.0,804.4 L1357.5,804.4 L1359.0,804.3 L1360.5,804.2 L1362.0,804.1 L1363.5,804.1 L1365.0,804.0 L1366.5,803.9 L1368.0,803.7 L1369.5,803.6 L1371.0,803.5 L1372.5,803.3 L1374.0,803.2 L1375.5,803.0 L1377.0,802.8 L1378.5,802.6 L1380.0,802.4 L1381.5,802.2 L1383.0,802.0 L1384.5,801.7 L1386.0,801.4 L1387.5,801.1 L1389.0,800.8 L1390.5,800.5 L1392.0,800.1 L1393.5,799.7 L1395.0,799.3 L1396.5,798.9 L1398.0,798.4 L1399.5,798.0 L1401.0,797.4 L1402.5,796.9 L1404.0,796.3 L1405.5,795.8 L1407.0,795.1 L1408.5,794.5 L1410.0,793.8 L1411.5,793.1 L1413.0,792.3 L1414.5,791.6 L1416.0,790.8 L1417.5,789.9 L1419.0,789.0 L1420.5,788.1 L1422.0,787.2 L1423.5,786.2 L1425.0,785.3 L1426.5,784.2 L1428.0,783.2 L1429.5,782.1 L1431.0,781.0 L1432.5,779.9 L1434.0,778.7 L1435.5,777.5 L1437.0,776.3 L1438.5,775.1 L1440.0,773.9 L1441.5,772.6 L1443.0,771.4 L1444.5,770.1 L1446.0,768.9 L1447.5,767.6 L1449.0,766.3 L1450.5,765.0 L1452.0,763.7 L1453.5,762.5 L1455.0,761.2 L1456.5,760.0 L1458.0,758.7 L1459.5,757.5 L1461.0,756.4 L1462.5,755.2 L1464.0,754.1 L1465.5,753.0 L1467.0,751.9 L1468.5,750.9 L1470.0,749.9 L1471.5,749.0 L1473.0,748.1 L1474.5,747.3 L1476.0,746.5 L1477.5,745.8 L1479.0,745.1 L1480.5,744.5 L1482.0,744.0 L1483.5,743.5 L1485.0,743.1 L1486.5,742.7 L1488.0,742.5 L1489.5,742.3 L1491.0,742.1 L1492.5,742.1 L1494.0,742.1 L1495.5,742.1 L1497.0,742.3 L1498.5,742.5 L1500.0,742.8 L1501.5,743.1 L1503.0,743.6 L1504.5,744.1 L1506.0,744.6 L1507.5,745.2 L1509.0,745.9 L1510.5,746.6 L1512.0,747.4 L1513.5,748.3 L1515.0,749.2 L1516.5,750.1 L1518.0,751.1 L1519.5,752.1 L1521.0,753.2 L1522.5,754.3 L1524.0,755.4 L1525.5,756.6 L1527.0,757.8 L1528.5,759.0 L1530.0,760.2 L1531.5,761.4 L1533.0,762.7 L1534.5,764.0 L1536.0,765.2 L1537.5,766.5 L1539.0,767.8 L1540.5,769.1 L1542.0,770.4 L1543.5,771.6 L1545.0,772.9 L1546.5,774.1 L1548.0,775.3 L1549.5,776.6 L1551.0,777.7 L1552.5,778.9 L1554.0,780.1 L1555.5,781.2 L1557.0,782.3 L1558.5,783.4 L1560.0,784.4 L1561.5,785.4 L1563.0,786.4 L1564.5,787.4 L1566.0,788.3 L1567.5,789.2 L1569.0,790.1 L1570.5,790.9 L1572.0,791.7 L1573.5,792.5 L1575.0,793.2 L1576.5,793.9 L1578.0,794.6 L1579.5,795.2 L1581.0,795.9 L1582.5,796.5 L1584.0,797.0 L1585.5,797.5 L1587.0,798.0 L1588.5,798.5 L1590.0,799.0 L1591.5,799.4 L1593.0,799.8 L1594.5,800.2 L1596.0,800.5 L1597.5,800.9 L1599.0,801.2 L1600.5,801.5 L1602.0,801.7 L1603.5,802.0 L1605.0,802.2 L1606.5,802.5 L1608.0,802.7 L1609.5,802.9 L1611.0,803.0 L1612.5,803.2 L1614.0,803.4 L1615.5,803.5 L1617.0,803.6 L1618.5,803.8 L1620.0,803.9 L1621.5,804.0 L1623.0,804.1 L1624.5,804.2 L1626.0,804.2 L1627.5,804.3 L1629.0,804.4 L1630.5,804.4 L1632.0,804.5 L1633.5,804.5 L1635.0,804.6 L1636.5,804.6 L1638.0,804.7 L1639.5,804.7" stroke="#ff00ff" stroke-width="3.6" stroke-dasharray="7 25"/>
<path d="M1442.0,804.7 L1443.5,804.7 L1445.0,804.6 L1446.5,804.6 L1448.0,804.5 L1449.5,804.5 L1451.0,804.4 L1452.5,804.3 L1454.0,804.3 L1455.5,804.2 L1457.0,804.1 L1458.5,804.0 L1460.0,803.8 L1461.5,803.7 L1463.0,803.6 L1464.5,803.4 L1466.0,803.2 L1467.5,803.0 L1469.0,802.8 L1470.5,802.6 L1472.0,802.3 L1473.5,802.1 L1475.0,801.8 L1476.5,801.5 L1478.0,801.1 L1479.5,800.8 L1481.0,800.4 L1482.5,799.9 L1484.0,799.5 L1485.5,799.0 L1487.0,798.5 L1488.5,797.9 L1490.0,797.3 L1491.5,796.7 L1493.0,796.0 L1494.5,795.3 L1496.0,794.6 L1497.5,793.8 L1499.0,792.9 L1500.5,792.1 L1502.0,791.1 L1503.5,790.2 L1505.0,789.2 L1506.5,788.1 L1508.0,787.1 L1509.5,785.9 L1511.0,784.7 L1512.5,783.5 L1514.0,782.3 L1515.5,781.0 L1517.0,779.7 L1518.5,778.3 L1520.0,776.9 L1521.5,775.5 L1523.0,774.1 L1524.5,772.6 L1526.0,771.1 L1527.5,769.7 L1529.0,768.1 L1530.5,766.6 L1532.0,765.1 L1533.5,763.6 L1535.0,762.1 L1536.5,760.6 L1538.0,759.1 L1539.5,757.7 L1541.0,756.2 L1542.5,754.8 L1544.0,753.5 L1545.5,752.2 L1547.0,750.9 L1548.5,749.7 L1550.0,748.5 L1551.5,747.4 L1553.0,746.3 L1554.5,745.4 L1556.0,744.5 L1557.5,743.7 L1559.0,742.9 L1560.5,742.3 L1562.0,741.7 L1563.5,741.3 L1565.0,740.9 L1566.5,740.6 L1568.0,740.4 L1569.5,740.3 L1571.0,740.3 L1572.5,740.4 L1574.0,740.6 L1575.5,740.9 L1577.0,741.3 L1578.5,741.7 L1580.0,742.3 L1581.5,743.0 L1583.0,743.7 L1584.5,744.5 L1586.0,745.4 L1587.5,746.4 L1589.0,747.4 L1590.5,748.5 L1592.0,749.7 L1593.5,750.9 L1595.0,752.2 L1596.5,753.5 L1598.0,754.9 L1599.5,756.3 L1601.0,757.7 L1602.5,759.2 L1604.0,760.6 L1605.5,762.1 L1607.0,763.6 L1608.5,765.2 L1610.0,766.7 L1611.5,768.2 L1613.0,769.7 L1614.5,771.2 L1616.0,772.7 L1617.5,774.1 L1619.0,775.6 L1620.5,777.0 L1622.0,778.4 L1623.5,779.7 L1625.0,781.0 L1626.5,782.3 L1628.0,783.6 L1629.5,784.8 L1631.0,785.9 L1632.5,787.1 L1634.0,788.2 L1635.5,789.2 L1637.0,790.2 L1638.5,791.2 L1640.0,792.1 L1641.5,793.0 L1643.0,793.8 L1644.5,794.6 L1646.0,795.3 L1647.5,796.0 L1649.0,796.7 L1650.5,797.3 L1652.0,797.9 L1653.5,798.5 L1655.0,799.0 L1656.5,799.5 L1658.0,800.0 L1659.5,800.4 L1661.0,800.8 L1662.5,801.1 L1664.0,801.5 L1665.5,801.8 L1667.0,802.1 L1668.5,802.4 L1670.0,802.6 L1671.5,802.8 L1673.0,803.0 L1674.5,803.2 L1676.0,803.4 L1677.5,803.6 L1679.0,803.7 L1680.5,803.8 L1682.0,804.0 L1683.5,804.1 L1685.0,804.2 L1686.5,804.3 L1688.0,804.3 L1689.5,804.4 L1691.0,804.5 L1692.5,804.5 L1694.0,804.6 L1695.5,804.6 L1697.0,804.7" stroke="#ff00ff" stroke-width="3.6" stroke-dasharray="7 25"/>
<path d="M1441.5,803.0 L1443.0,802.9 L1444.5,802.7 L1446.0,802.6 L1447.5,802.5 L1449.0,802.3 L1450.5,802.2 L1452.0,802.0 L1453.5,801.9 L1455.0,801.7 L1456.5,801.5 L1458.0,801.3 L1459.5,801.1 L1461.0,800.9 L1462.5,800.7 L1464.0,800.4 L1465.5,800.2 L1467.0,799.9 L1468.5,799.7 L1470.0,799.4 L1471.5,799.1 L1473.0,798.8 L1474.5,798.5 L1476.0,798.1 L1477.5,797.8 L1479.0,797.4 L1480.5,797.0 L1482.0,796.6 L1483.5,796.2 L1485.0,795.8 L1486.5,795.3 L1488.0,794.8 L1489.5,794.3 L1491.0,793.8 L1492.5,793.3 L1494.0,792.7 L1495.5,792.1 L1497.0,791.5 L1498.5,790.9 L1500.0,790.2 L1501.5,789.5 L1503.0,788.8 L1504.5,788.1 L1506.0,787.3 L1507.5,786.5 L1509.0,785.7 L1510.5,784.8 L1512.0,783.9 L1513.5,783.0 L1515.0,782.0 L1516.5,781.0 L1518.0,779.9 L1519.5,778.9 L1521.0,777.7 L1522.5,776.6 L1524.0,775.4 L1525.5,774.1 L1527.0,772.8 L1528.5,771.5 L1530.0,770.1 L1531.5,768.7 L1533.0,767.2 L1534.5,765.7 L1536.0,764.1 L1537.5,762.5 L1539.0,760.8 L1540.5,759.1 L1542.0,757.3 L1543.5,755.5 L1545.0,753.6 L1546.5,751.6 L1548.0,749.6 L1549.5,747.6 L1551.0,745.4 L1552.5,743.2 L1554.0,741.0 L1555.5,738.6 L1557.0,736.3 L1558.5,733.8 L1560.0,731.3 L1561.5,728.7 L1563.0,726.0 L1564.5,723.3 L1566.0,720.5 L1567.5,717.6 L1569.0,714.7 L1570.5,711.7 L1572.0,708.6 L1573.5,705.4 L1575.0,702.2 L1576.5,698.8 L1578.0,695.4 L1579.5,692.0 L1581.0,688.4 L1582.5,684.8 L1584.0,681.1 L1585.5,677.3 L1587.0,673.4 L1588.5,669.5 L1590.0,665.4 L1591.5,661.3 L1593.0,657.1 L1594.5,652.9 L1596.0,648.5 L1597.5,644.1 L1599.0,639.6 L1600.5,635.0 L1602.0,630.3 L1603.5,625.6 L1605.0,620.7 L1606.5,615.8 L1608.0,610.8 L1609.5,605.8 L1611.0,600.7 L1612.5,595.4 L1614.0,590.2 L1615.5,584.8 L1617.0,579.4 L1618.5,573.9 L1620.0,568.3 L1621.5,562.7 L1623.0,557.0 L1624.5,551.3 L1626.0,545.4 L1627.5,539.6 L1629.0,533.6 L1630.5,527.6 L1632.0,521.6 L1633.5,515.5 L1635.0,509.3 L1636.5,503.1 L1638.0,496.9 L1639.5,490.6 L1641.0,484.3 L1642.5,477.9 L1644.0,471.5 L1645.5,465.1 L1647.0,458.6 L1648.5,452.1 L1650.0,445.6 L1651.5,439.1 L1653.0,432.6 L1654.5,426.0 L1656.0,419.5 L1657.5,412.9 L1659.0,406.3 L1660.5,399.8 L1662.0,393.2 L1663.5,386.7 L1665.0,380.1 L1666.5,373.6 L1668.0,367.1 L1669.5,360.6 L1671.0,354.2 L1672.5,347.8 L1674.0,341.4 L1675.5,335.1 L1677.0,328.8 L1678.5,322.5 L1680.0,316.3 L1681.5,310.2 L1683.0,304.1 L1684.5,298.1 L1686.0,292.2 L1687.5,286.3 L1689.0,280.6 L1690.5,274.9 L1692.0,269.2 L1693.5,263.7 L1695.0,258.3 L1696.5,252.9 L1698.0,247.7 L1699.5,242.6 L1701.0,237.6 L1702.5,232.7 L1704.0,227.9 L1705.5,223.2 L1707.0,218.7 L1708.5,214.2 L1710.0,210.0 L1711.5,205.8 L1713.0,201.8 L1714.5,197.9 L1716.0,194.2 L1717.5,190.6 L1719.0,187.2 L1720.5,183.9 L1722.0,180.8 L1723.5,177.8 L1725.0,175.0 L1726.5,172.3 L1728.0,169.9 L1729.5,167.5 L1731.0,165.4 L1732.5,163.4 L1734.0,161.6 L1735.5,160.0 L1737.0,158.5 L1738.5,157.2 L1740.0,156.1 L1741.5,155.2 L1743.0,154.4 L1744.5,153.9 L1746.0,153.5 L1747.5,153.3 L1749.0,153.2 L1750.5,153.4 L1752.0,153.7 L1753.5,154.2 L1755.0,154.9 L1756.5,155.7 L1758.0,156.8 L1759.5,158.0 L1761.0,159.4 L1762.5,160.9 L1764.0,162.7 L1765.5,164.6 L1767.0,166.7 L1768.5,168.9 L1770.0,171.3 L1771.5,173.9 L1773.0,176.7 L1774.5,179.6 L1776.0,182.6 L1777.5,185.9 L1779.0,189.2 L1780.5,192.8 L1782.0,196.4 L1783.5,200.3 L1785.0,204.2 L1786.5,208.3 L1788.0,212.5 L1789.5,216.9 L1791.0,221.4 L1792.5,226.0 L1794.0,230.8 L1795.5,235.6 L1797.0,240.6 L1798.5,245.7 L1800.0,250.9 L1801.5,256.2 L1803.0,261.6 L1804.5,267.0 L1806.0,272.6 L1807.5,278.3 L1809.0,284.1 L1810.5,289.9 L1812.0,295.8 L1813.5,301.8 L1815.0,307.8 L1816.5,313.9 L1818.0,320.1 L1819.5,326.3 L1821.0,332.6 L1822.5,338.9 L1824.0,345.3 L1825.5,351.7 L1827.0,358.1 L1828.5,364.6 L1830.0,371.0 L1831.5,377.6 L1833.0,384.1 L1834.5,390.6 L1836.0,397.2 L1837.5,403.7 L1839.0,410.3 L1840.5,416.9 L1842.0,423.4 L1843.5,430.0 L1845.0,436.5 L1846.5,443.1 L1848.0,449.6 L1849.5,456.1 L1851.0,462.5 L1852.5,469.0 L1854.0,475.4 L1855.5,481.8 L1857.0,488.1 L1858.5,494.4 L1860.0,500.7 L1861.5,506.9 L1863.0,513.0 L1864.5,519.2 L1866.0,525.2 L1867.5,531.3 L1869.0,537.2 L1870.5,543.1 L1872.0,549.0 L1873.5,554.7 L1875.0,560.5 L1876.5,566.1 L1878.0,571.7 L1879.5,577.2 L1881.0,582.7 L1882.5,588.1 L1884.0,593.4 L1885.5,598.6 L1887.0,603.8 L1888.5,608.9 L1890.0,613.9 L1891.5,618.8 L1893.0,623.7 L1894.5,628.4 L1896.0,633.1 L1897.5,637.8 L1899.0,642.3 L1900.5,646.8 L1902.0,651.1 L1903.5,655.4 L1905.0,659.7 L1906.5,663.8 L1908.0,667.9 L1909.5,671.9 L1911.0,675.8 L1912.5,679.6 L1914.0,683.3 L1915.5,687.0 L1917.0,690.6 L1918.5,694.1 L1920.0,697.5 L1921.5,700.9 L1923.0,704.1 L1924.5,707.3 L1926.0,710.5 L1927.5,713.5 L1929.0,716.5 L1930.5,719.4 L1932.0,722.2 L1933.5,725.0 L1935.0,727.7 L1936.5,730.3 L1938.0,732.8 L1939.5,735.3 L1941.0,737.7 L1942.5,740.1 L1944.0,742.3 L1945.5,744.6 L1947.0,746.7 L1948.5,748.8 L1950.0,750.9 L1951.5,752.8 L1953.0,754.8 L1954.5,756.6 L1956.0,758.4 L1957.5,760.2 L1959.0,761.9 L1960.5,763.5 L1962.0,765.1 L1963.5,766.6 L1965.0,768.1 L1966.5,769.6 L1968.0,771.0 L1969.5,772.3 L1971.0,773.6 L1972.5,774.9 L1974.0,776.1 L1975.5,777.3 L1977.0,778.4 L1978.5,779.5 L1980.0,780.6 L1981.5,781.6 L1983.0,782.6 L1984.5,783.5 L1986.0,784.5 L1987.5,785.3 L1989.0,786.2 L1990.5,787.0 L1992.0,787.8 L1993.5,788.5 L1995.0,789.3 L1996.5,790.0 L1998.0,790.6 L1999.5,791.3 L2001.0,791.9 L2002.5,792.5 L2004.0,793.1 L2005.5,793.6 L2007.0,794.1 L2008.5,794.7 L2010.0,795.1 L2011.5,795.6 L2013.0,796.0 L2014.5,796.5 L2016.0,796.9 L2017.5,797.3 L2019.0,797.6 L2020.5,798.0 L2022.0,798.3 L2023.5,798.7 L2025.0,799.0 L2026.5,799.3 L2028.0,799.6 L2029.5,799.8 L2031.0,800.1 L2032.5,800.4 L2034.0,800.6 L2035.5,800.8 L2037.0,801.0 L2038.5,801.2 L2040.0,801.4 L2041.5,801.6 L2043.0,801.8 L2044.5,802.0 L2046.0,802.1 L2047.5,802.3 L2049.0,802.4 L2050.5,802.6 L2052.0,802.7 L2053.5,802.8 L2055.0,802.9 L2056.5,803.1 L2058.0,803.2 L2059.5,803.3 L2061.0,803.4 L2062.5,803.5 L2064.0,803.5 L2065.5,803.6 L2067.0,803.7 L2068.5,803.8 L2070.0,803.8 L2071.5,803.9 L2073.0,804.0 L2074.5,804.0 L2076.0,804.1 L2077.5,804.1 L2079.0,804.2 L2080.5,804.2 L2082.0,804.3 L2083.5,804.3 L2085.0,804.4 L2086.5,804.4 L2088.0,804.4" stroke="#ff00ff" stroke-width="3.6" stroke-dasharray="7 25"/>
</g>
<line x1="1319.7" y1="806.9" x2="1319.7" y2="793.9" stroke="#000" stroke-width="5"/>
<line x1="1516.2" y1="806.9" x2="1516.2" y2="793.9" stroke="#000" stroke-width="5"/>
<line x1="1709.8" y1="806.9" x2="1709.8" y2="793.9" stroke="#000" stroke-width="5"/>
<line x1="1903.4" y1="806.9" x2="1903.4" y2="793.9" stroke="#000" stroke-width="5"/>
<line x1="1143.8" y1="107.3" x2="1227.9" y2="107.3" stroke="#ff0000" stroke-width="5"/>
<line x1="1143.8" y1="157.5" x2="1227.9" y2="157.5" stroke="#000" stroke-width="5" stroke-dasharray="21 16"/>
<line x1="1143.8" y1="208.0" x2="1227.9" y2="208.0" stroke="#ff00ff" stroke-width="5" stroke-dasharray="8 23.5"/>
<text transform="translate(1253.68,120.20) scale(1.0634,1)" font-size="38.5" font-weight="bold">peak</text>
<text transform="translate(1254.12,170.40) scale(1.0511,1)" font-size="38.5" font-weight="bold">cumulative fitted peak</text>
<text transform="translate(1253.90,220.60) scale(1.0545,1)" font-size="38.5" font-weight="bold">fitted peak</text>
<text transform="translate(1141.62,282.80) scale(1.0663,1)" font-size="48.1" font-weight="bold">PBD</text>
<text transform="translate(1245.85,292.50) scale(0.9461,1)" font-size="34.4" font-weight="normal">70%</text>
<text transform="translate(1308.54,282.80) scale(1.0516,1)" font-size="48.1" font-weight="bold">PU</text>
<text transform="translate(1378.09,292.50) scale(0.9795,1)" font-size="34.4" font-weight="normal">30%</text>
<text transform="translate(1282.19,852.20) scale(0.9100,1)" font-size="40.0" font-weight="normal">1640</text>
<text transform="translate(1476.69,852.20) scale(0.9100,1)" font-size="40.0" font-weight="normal">1680</text>
<text transform="translate(1669.89,852.20) scale(0.9100,1)" font-size="40.0" font-weight="normal">1720</text>
<text transform="translate(1866.19,852.20) scale(0.9100,1)" font-size="40.0" font-weight="normal">1760</text>
<text transform="translate(1432.58,904.80) scale(1.0449,1)" font-size="38.5" font-weight="bold">wavenumber</text>
<text transform="translate(1656.77,904.80) scale(1.1428,1)" font-size="38.5" font-weight="normal">(</text>
<text transform="translate(1671.29,904.80) scale(0.9940,1)" font-size="38.5" font-weight="bold">cm</text>
<text transform="translate(1722.54,888.50) scale(1.0481,1)" font-size="26.0" font-weight="normal">&#8722;1</text>
<text transform="translate(1757.98,904.80) scale(1.2237,1)" font-size="38.5" font-weight="normal">)</text>
<text transform="translate(1105.00,547.78) rotate(-90) scale(1.0317,1)" font-size="38.5" font-weight="bold">absorbance</text>
<text transform="translate(1105.00,352.00) rotate(-90) scale(1.1832,1)" font-size="38.5" font-weight="normal">(</text>
<text transform="translate(1105.00,336.56) rotate(-90) scale(1.0144,1)" font-size="38.5" font-weight="bold">a.u.</text>
<text transform="translate(1105.00,275.78) rotate(-90) scale(1.2742,1)" font-size="38.5" font-weight="normal">)</text>
<rect x="92.4" y="929.4" width="962.9" height="779.1" fill="none" stroke="#000" stroke-width="5.0"/>
<clipPath id="c3"><rect x="94.9" y="929.9" width="957.9" height="778.6"/></clipPath>
<g clip-path="url(#c3)" fill="none" stroke-linejoin="round">
<path d="M94.9,1450.0 L96.9,1448.9 L98.9,1447.7 L100.9,1446.4 L102.9,1445.1 L104.9,1443.8 L106.9,1442.4 L108.9,1441.0 L110.9,1439.5 L112.9,1438.0 L114.9,1436.4 L116.9,1434.7 L118.9,1433.0 L120.9,1431.2 L122.9,1429.4 L124.9,1427.6 L126.9,1425.8 L128.9,1423.9 L130.9,1422.1 L132.9,1420.2 L134.9,1418.2 L136.9,1416.3 L138.9,1414.3 L140.9,1412.2 L142.9,1410.2 L144.9,1408.1 L146.9,1406.0 L148.9,1403.9 L150.9,1401.7 L152.9,1399.5 L154.9,1397.2 L156.9,1394.8 L158.9,1392.5 L160.9,1390.1 L162.9,1387.8 L164.9,1385.5 L166.9,1383.3 L168.9,1381.0 L170.9,1378.7 L172.9,1376.3 L174.9,1374.0 L176.9,1371.7 L178.9,1369.5 L180.9,1367.5 L182.9,1365.7 L184.9,1364.1 L186.9,1362.6 L188.9,1361.2 L190.9,1359.9 L192.9,1358.7 L194.9,1357.6 L196.9,1356.6 L198.9,1355.7 L200.9,1355.0 L202.9,1354.3 L204.9,1353.6 L206.9,1353.0 L208.9,1352.4 L210.9,1351.9 L212.9,1351.6 L214.9,1351.5 L216.9,1351.6 L218.9,1351.8 L220.9,1352.2 L222.9,1352.7 L224.9,1353.3 L226.9,1354.0 L228.9,1354.7 L230.9,1355.4 L232.9,1356.1 L234.9,1357.1 L236.9,1358.1 L238.9,1359.2 L240.9,1360.4 L242.9,1361.7 L244.9,1363.1 L246.9,1364.4 L248.9,1365.8 L250.9,1367.3 L252.9,1368.8 L254.9,1370.4 L256.9,1372.1 L258.9,1373.8 L260.9,1375.7 L262.9,1377.5 L264.9,1379.4 L266.9,1381.3 L268.9,1383.3 L270.9,1385.3 L272.9,1387.4 L274.9,1389.6 L276.9,1391.9 L278.9,1394.2 L280.9,1396.5 L282.9,1398.9 L284.9,1401.2 L286.9,1403.5 L288.9,1405.8 L290.9,1408.1 L292.9,1410.3 L294.9,1412.5 L296.9,1414.7 L298.9,1416.9 L300.9,1419.1 L302.9,1421.3 L304.9,1423.6 L306.9,1425.9 L308.9,1428.2 L310.9,1430.6 L312.9,1433.0 L314.9,1435.5 L316.9,1438.0 L318.9,1440.5 L320.9,1443.1 L322.9,1445.7 L324.9,1448.2 L326.9,1450.8 L328.9,1453.3 L330.9,1455.7 L332.9,1458.2 L334.9,1460.6 L336.9,1463.0 L338.9,1465.5 L340.9,1467.9 L342.9,1470.3 L344.9,1472.6 L346.9,1474.9 L348.9,1477.2 L350.9,1479.4 L352.9,1481.6 L354.9,1483.7 L356.9,1485.8 L358.9,1487.8 L360.9,1489.9 L362.9,1491.9 L364.9,1493.8 L366.9,1495.7 L368.9,1497.6 L370.9,1499.4 L372.9,1501.2 L374.9,1503.0 L376.9,1504.8 L378.9,1506.6 L380.9,1508.3 L382.9,1510.0 L384.9,1511.6 L386.9,1513.1 L388.9,1514.6 L390.9,1515.9 L392.9,1517.2 L394.9,1518.4 L396.9,1519.5 L398.9,1520.6 L400.9,1521.6 L402.9,1522.6 L404.9,1523.6 L406.9,1524.5 L408.9,1525.3 L410.9,1526.2 L412.9,1526.9 L414.9,1527.7 L416.9,1528.4 L418.9,1529.2 L420.9,1529.9 L422.9,1530.5 L424.9,1531.2 L426.9,1531.7 L428.9,1532.3 L430.9,1532.7 L432.9,1533.1 L434.9,1533.5 L436.9,1533.8 L438.9,1534.2 L440.9,1534.5 L442.9,1534.8 L444.9,1535.1 L446.9,1535.4 L448.9,1535.5 L450.9,1535.6 L452.9,1535.7 L454.9,1535.7 L456.9,1535.7 L458.9,1535.7 L460.9,1535.7 L462.9,1535.7 L464.9,1535.7 L466.9,1535.7 L468.9,1535.7 L470.9,1535.7 L472.9,1535.7 L474.9,1535.7 L476.9,1535.6 L478.9,1535.5 L480.9,1535.3 L482.9,1535.0 L484.9,1534.8 L486.9,1534.4 L488.9,1534.1 L490.9,1533.7 L492.9,1533.4 L494.9,1533.0 L496.9,1532.5 L498.9,1531.9 L500.9,1531.2 L502.9,1530.4 L504.9,1529.5 L506.9,1528.5 L508.9,1527.5 L510.9,1526.4 L512.9,1525.2 L514.9,1524.0 L516.9,1522.6 L518.9,1521.0 L520.9,1519.1 L522.9,1517.1 L524.9,1515.0 L526.9,1512.8 L528.9,1510.5 L530.9,1508.1 L532.9,1505.8 L534.9,1503.5 L536.9,1501.0 L538.9,1498.5 L540.9,1495.9 L542.9,1493.1 L544.9,1490.3 L546.9,1487.3 L548.9,1484.2 L550.9,1481.0 L552.9,1477.7 L554.9,1474.1 L556.9,1470.4 L558.9,1466.5 L560.9,1462.4 L562.9,1457.8 L564.9,1452.8 L566.9,1447.6 L568.9,1442.3 L570.9,1437.2 L572.9,1432.2 L574.9,1427.3 L576.9,1422.3 L578.9,1417.3 L580.9,1412.1 L582.9,1406.9 L584.9,1401.6 L586.9,1396.2 L588.9,1390.6 L590.9,1384.9 L592.9,1379.1 L594.9,1373.1 L596.9,1367.0 L598.9,1360.7 L600.9,1354.3 L602.9,1347.6 L604.9,1340.7 L606.9,1333.6 L608.9,1326.3 L610.9,1318.8 L612.9,1311.2 L614.9,1303.4 L616.9,1295.6 L618.9,1287.6 L620.9,1279.5 L622.9,1271.0 L624.9,1262.3 L626.9,1253.6 L628.9,1244.8 L630.9,1236.1 L632.9,1227.6 L634.9,1219.3 L636.9,1210.8 L638.9,1202.4 L640.9,1194.1 L642.9,1186.0 L644.9,1178.3 L646.9,1171.0 L648.9,1164.4 L650.9,1158.7 L652.9,1153.0 L654.9,1146.3 L656.9,1137.3 L658.9,1129.1 L660.9,1122.3 L662.9,1115.8 L664.9,1109.1 L666.9,1102.0 L668.9,1094.8 L670.9,1088.0 L672.9,1081.5 L674.9,1075.4 L676.9,1069.7 L678.9,1064.3 L680.9,1058.9 L682.9,1053.5 L684.9,1048.5 L686.9,1043.8 L688.9,1039.3 L690.9,1035.3 L692.9,1032.1 L694.9,1029.6 L696.9,1027.1 L698.9,1024.4 L700.9,1021.3 L702.9,1018.4 L704.9,1016.2 L706.9,1014.4 L708.9,1012.7 L710.9,1011.7 L712.9,1011.4 L714.9,1011.9 L716.9,1012.6 L718.9,1013.5 L720.9,1014.3 L722.9,1014.9 L724.9,1015.6 L726.9,1016.5 L728.9,1018.1 L730.9,1020.8 L732.9,1023.9 L734.9,1027.0 L736.9,1030.4 L738.9,1034.3 L740.9,1038.9 L742.9,1043.7 L744.9,1048.3 L746.9,1052.8 L748.9,1057.9 L750.9,1064.2 L752.9,1071.4 L754.9,1078.8 L756.9,1086.5 L758.9,1094.2 L760.9,1101.3 L762.9,1108.5 L764.9,1116.6 L766.9,1125.7 L768.9,1134.7 L770.9,1143.8 L772.9,1152.1 L774.9,1159.7 L776.9,1166.8 L778.9,1173.7 L780.9,1180.4 L782.9,1187.2 L784.9,1194.1 L786.9,1201.4 L788.9,1209.2 L790.9,1217.5 L792.9,1226.2 L794.9,1235.2 L796.9,1244.5 L798.9,1254.0 L800.9,1263.5 L802.9,1273.1 L804.9,1282.8 L806.9,1292.8 L808.9,1302.9 L810.9,1313.1 L812.9,1323.3 L814.9,1333.4 L816.9,1343.5 L818.9,1353.7 L820.9,1363.9 L822.9,1374.0 L824.9,1383.9 L826.9,1393.4 L828.9,1402.7 L830.9,1411.6 L832.9,1420.4 L834.9,1429.0 L836.9,1437.5 L838.9,1445.7 L840.9,1453.9 L842.9,1461.9 L844.9,1469.9 L846.9,1477.8 L848.9,1485.6 L850.9,1493.3 L852.9,1500.7 L854.9,1507.9 L856.9,1514.9 L858.9,1521.5 L860.9,1528.0 L862.9,1534.3 L864.9,1540.6 L866.9,1546.6 L868.9,1552.5 L870.9,1558.0 L872.9,1563.3 L874.9,1568.3 L876.9,1573.0 L878.9,1577.4 L880.9,1581.7 L882.9,1585.9 L884.9,1589.9 L886.9,1593.7 L888.9,1597.4 L890.9,1600.9 L892.9,1604.3 L894.9,1607.4 L896.9,1610.3 L898.9,1613.1 L900.9,1615.6 L902.9,1618.1 L904.9,1620.5 L906.9,1622.8 L908.9,1625.0 L910.9,1627.2 L912.9,1629.2 L914.9,1631.2 L916.9,1633.0 L918.9,1634.8 L920.9,1636.6 L922.9,1638.2 L924.9,1639.8 L926.9,1641.3 L928.9,1642.7 L930.9,1644.1 L932.9,1645.5 L934.9,1646.8 L936.9,1648.1 L938.9,1649.3 L940.9,1650.5 L942.9,1651.7 L944.9,1652.8 L946.9,1653.9 L948.9,1654.9 L950.9,1655.9 L952.9,1656.9 L954.9,1657.8 L956.9,1658.7 L958.9,1659.5 L960.9,1660.3 L962.9,1661.1 L964.9,1661.9 L966.9,1662.6 L968.9,1663.3 L970.9,1664.0 L972.9,1664.7 L974.9,1665.3 L976.9,1666.0 L978.9,1666.6 L980.9,1667.2 L982.9,1667.8 L984.9,1668.4 L986.9,1668.9 L988.9,1669.5 L990.9,1670.0 L992.9,1670.5 L994.9,1671.0 L996.9,1671.4 L998.9,1671.9 L1000.9,1672.3 L1002.9,1672.8 L1004.9,1673.2 L1006.9,1673.6 L1008.9,1674.0 L1010.9,1674.4 L1012.9,1674.8 L1014.9,1675.2 L1016.9,1675.6 L1018.9,1676.0 L1020.9,1676.4 L1022.9,1676.8 L1024.9,1677.1 L1026.9,1677.5 L1028.9,1677.8 L1030.9,1678.2 L1032.9,1678.5 L1034.9,1678.8 L1036.9,1679.1 L1038.9,1679.4 L1040.9,1679.6 L1042.9,1679.9 L1044.9,1680.1 L1046.9,1680.4 L1048.9,1680.6 L1050.9,1680.8" stroke="#ff0000" stroke-width="5"/>
<path d="M94.9,1449.4 L96.4,1448.7 L97.9,1448.1 L99.4,1447.3 L100.9,1446.5 L102.4,1445.7 L103.9,1444.8 L105.4,1443.9 L106.9,1442.9 L108.4,1441.8 L109.9,1440.8 L111.4,1439.7 L112.9,1438.5 L114.4,1437.4 L115.9,1436.2 L117.4,1434.9 L118.9,1433.7 L120.4,1432.4 L121.9,1431.1 L123.4,1429.7 L124.9,1428.4 L126.4,1427.0 L127.9,1425.6 L129.4,1424.1 L130.9,1422.7 L132.4,1421.2 L133.9,1419.7 L135.4,1418.2 L136.9,1416.7 L138.4,1415.1 L139.9,1413.6 L141.4,1412.0 L142.9,1410.3 L144.4,1408.7 L145.9,1407.1 L147.4,1405.4 L148.9,1403.7 L150.4,1402.0 L151.9,1400.3 L153.4,1398.6 L154.9,1396.9 L156.4,1395.1 L157.9,1393.4 L159.4,1391.6 L160.9,1389.9 L162.4,1388.2 L163.9,1386.4 L165.4,1384.7 L166.9,1383.0 L168.4,1381.3 L169.9,1379.6 L171.4,1377.9 L172.9,1376.3 L174.4,1374.7 L175.9,1373.1 L177.4,1371.6 L178.9,1370.1 L180.4,1368.6 L181.9,1367.2 L183.4,1365.9 L184.9,1364.6 L186.4,1363.3 L187.9,1362.2 L189.4,1361.1 L190.9,1360.0 L192.4,1359.0 L193.9,1358.1 L195.4,1357.2 L196.9,1356.4 L198.4,1355.6 L199.9,1354.9 L201.4,1354.3 L202.9,1353.8 L204.4,1353.2 L205.9,1352.8 L207.4,1352.4 L208.9,1352.1 L210.4,1351.9 L211.9,1351.7 L213.4,1351.6 L214.9,1351.5 L216.4,1351.5 L217.9,1351.6 L219.4,1351.8 L220.9,1352.0 L222.4,1352.3 L223.9,1352.6 L225.4,1353.0 L226.9,1353.4 L228.4,1354.0 L229.9,1354.5 L231.4,1355.1 L232.9,1355.8 L234.4,1356.5 L235.9,1357.3 L237.4,1358.1 L238.9,1358.9 L240.4,1359.8 L241.9,1360.8 L243.4,1361.8 L244.9,1362.8 L246.4,1363.9 L247.9,1365.0 L249.4,1366.1 L250.9,1367.3 L252.4,1368.5 L253.9,1369.7 L255.4,1371.0 L256.9,1372.3 L258.4,1373.6 L259.9,1375.0 L261.4,1376.4 L262.9,1377.8 L264.4,1379.3 L265.9,1380.8 L267.4,1382.3 L268.9,1383.8 L270.4,1385.4 L271.9,1386.9 L273.4,1388.5 L274.9,1390.2 L276.4,1391.8 L277.9,1393.4 L279.4,1395.1 L280.9,1396.8 L282.4,1398.4 L283.9,1400.1 L285.4,1401.8 L286.9,1403.5 L288.4,1405.2 L289.9,1406.9 L291.4,1408.6 L292.9,1410.3 L294.4,1412.0 L295.9,1413.7 L297.4,1415.4 L298.9,1417.1 L300.4,1418.8 L301.9,1420.6 L303.4,1422.3 L304.9,1424.0 L306.4,1425.8 L307.9,1427.5 L309.4,1429.3 L310.9,1431.0 L312.4,1432.8 L313.9,1434.6 L315.4,1436.4 L316.9,1438.2 L318.4,1440.1 L319.9,1441.9 L321.4,1443.7 L322.9,1445.5 L324.4,1447.4 L325.9,1449.2 L327.4,1451.0 L328.9,1452.9 L330.4,1454.7 L331.9,1456.5 L333.4,1458.4 L334.9,1460.2 L336.4,1462.0 L337.9,1463.8 L339.4,1465.6 L340.9,1467.4 L342.4,1469.1 L343.9,1470.9 L345.4,1472.6 L346.9,1474.4 L348.4,1476.1 L349.9,1477.8 L351.4,1479.5 L352.9,1481.2 L354.4,1482.8 L355.9,1484.5 L357.4,1486.1 L358.9,1487.7 L360.4,1489.3 L361.9,1490.8 L363.4,1492.4 L364.9,1493.9 L366.4,1495.4 L367.9,1496.9 L369.4,1498.3 L370.9,1499.7 L372.4,1501.2 L373.9,1502.5 L375.4,1503.9 L376.9,1505.2 L378.4,1506.5 L379.9,1507.8 L381.4,1509.0 L382.9,1510.2 L384.4,1511.4 L385.9,1512.6 L387.4,1513.7 L388.9,1514.7 L390.4,1515.8 L391.9,1516.8 L393.4,1517.7 L394.9,1518.7 L396.4,1519.5 L397.9,1520.4 L399.4,1521.2 L400.9,1522.0 L402.4,1522.7 L403.9,1523.5 L405.4,1524.1 L406.9,1524.8 L408.4,1525.4 L409.9,1526.0 L411.4,1526.6 L412.9,1527.1 L414.4,1527.7 L415.9,1528.2 L417.4,1528.6 L418.9,1529.1 L420.4,1529.5 L421.9,1530.0 L423.4,1530.4 L424.9,1530.7 L426.4,1531.1 L427.9,1531.4 L429.4,1531.8 L430.9,1532.1 L432.4,1532.4 L433.9,1532.7 L435.4,1532.9 L436.9,1533.2 L438.4,1533.4 L439.9,1533.7 L441.4,1533.9 L442.9,1534.1 L444.4,1534.3 L445.9,1534.5 L447.4,1534.7 L448.9,1534.8 L450.4,1535.0 L451.9,1535.2 L453.4,1535.3 L454.9,1535.4 L456.4,1535.6 L457.9,1535.7 L459.4,1535.8 L460.9,1535.9 L462.4,1536.0 L463.9,1536.1 L465.4,1536.2 L466.9,1536.2 L468.4,1536.3 L469.9,1536.3 L471.4,1536.3 L472.9,1536.3 L474.4,1536.3 L475.9,1536.3 L477.4,1536.3 L478.9,1536.2 L480.4,1536.1 L481.9,1536.0 L483.4,1535.9 L484.9,1535.7 L486.4,1535.5 L487.9,1535.3 L489.4,1535.0 L490.9,1534.7 L492.4,1534.4 L493.9,1534.0 L495.4,1533.6 L496.9,1533.1 L498.4,1532.6 L499.9,1532.1 L501.4,1531.5 L502.9,1530.8 L504.4,1530.1 L505.9,1529.4 L507.4,1528.6 L508.9,1527.7 L510.4,1526.8 L511.9,1525.8 L513.4,1524.8 L514.9,1523.6 L516.4,1522.5 L517.9,1521.2 L519.4,1520.0 L520.9,1518.6 L522.4,1517.2 L523.9,1515.7 L525.4,1514.2 L526.9,1512.7 L528.4,1511.0 L529.9,1509.4 L531.4,1507.6 L532.9,1505.9 L534.4,1504.0 L535.9,1502.1 L537.4,1500.2 L538.9,1498.2 L540.4,1496.2 L541.9,1494.0 L543.4,1491.9 L544.9,1489.6 L546.4,1487.3 L547.9,1484.9 L549.4,1482.5 L550.9,1479.9 L552.4,1477.3 L553.9,1474.6 L555.4,1471.8 L556.9,1469.0 L558.4,1466.0 L559.9,1463.0 L561.4,1459.9 L562.9,1456.7 L564.4,1453.4 L565.9,1450.0 L567.4,1446.6 L568.9,1443.1 L570.4,1439.5 L571.9,1435.9 L573.4,1432.3 L574.9,1428.5 L576.4,1424.7 L577.9,1420.9 L579.4,1417.0 L580.9,1413.1 L582.4,1409.1 L583.9,1405.0 L585.4,1400.9 L586.9,1396.7 L588.4,1392.4 L589.9,1388.1 L591.4,1383.7 L592.9,1379.2 L594.4,1374.6 L595.9,1369.9 L597.4,1365.2 L598.9,1360.3 L600.4,1355.4 L601.9,1350.3 L603.4,1345.2 L604.9,1340.0 L606.4,1334.6 L607.9,1329.2 L609.4,1323.7 L610.9,1318.1 L612.4,1312.4 L613.9,1306.7 L615.4,1300.8 L616.9,1294.9 L618.4,1288.9 L619.9,1282.8 L621.4,1276.7 L622.9,1270.6 L624.4,1264.4 L625.9,1258.1 L627.4,1251.9 L628.9,1245.6 L630.4,1239.4 L631.9,1233.1 L633.4,1226.9 L634.9,1220.7 L636.4,1214.5 L637.9,1208.3 L639.4,1202.2 L640.9,1196.2 L642.4,1190.2 L643.9,1184.2 L645.4,1178.4 L646.9,1172.6 L648.4,1166.8 L649.9,1161.2 L651.4,1155.6 L652.9,1150.1 L654.4,1144.6 L655.9,1139.2 L657.4,1133.9 L658.9,1128.7 L660.4,1123.5 L661.9,1118.5 L663.4,1113.5 L664.9,1108.5 L666.4,1103.7 L667.9,1098.9 L669.4,1094.3 L670.9,1089.7 L672.4,1085.2 L673.9,1080.9 L675.4,1076.6 L676.9,1072.5 L678.4,1068.5 L679.9,1064.6 L681.4,1060.9 L682.9,1057.3 L684.4,1053.9 L685.9,1050.6 L687.4,1047.4 L688.9,1044.4 L690.4,1041.6 L691.9,1038.9 L693.4,1036.4 L694.9,1034.0 L696.4,1031.8 L697.9,1029.8 L699.4,1028.0 L700.9,1026.3 L702.4,1024.9 L703.9,1023.6 L705.4,1022.4 L706.9,1021.5 L708.4,1020.7 L709.9,1020.2 L711.4,1019.8 L712.9,1019.6 L714.4,1019.6 L715.9,1019.7 L717.4,1020.1 L718.9,1020.6 L720.4,1021.3 L721.9,1022.2 L723.4,1023.3 L724.9,1024.6 L726.4,1026.0 L727.9,1027.6 L729.4,1029.3 L730.9,1031.3 L732.4,1033.3 L733.9,1035.6 L735.4,1037.9 L736.9,1040.4 L738.4,1043.1 L739.9,1045.9 L741.4,1048.8 L742.9,1051.8 L744.4,1055.0 L745.9,1058.3 L747.4,1061.7 L748.9,1065.2 L750.4,1068.9 L751.9,1072.7 L753.4,1076.7 L754.9,1080.8 L756.4,1085.0 L757.9,1089.4 L759.4,1094.0 L760.9,1098.7 L762.4,1103.5 L763.9,1108.5 L765.4,1113.7 L766.9,1119.0 L768.4,1124.5 L769.9,1130.0 L771.4,1135.7 L772.9,1141.6 L774.4,1147.5 L775.9,1153.5 L777.4,1159.7 L778.9,1165.9 L780.4,1172.2 L781.9,1178.6 L783.4,1185.1 L784.9,1191.7 L786.4,1198.3 L787.9,1205.0 L789.4,1211.7 L790.9,1218.5 L792.4,1225.4 L793.9,1232.3 L795.4,1239.3 L796.9,1246.3 L798.4,1253.4 L799.9,1260.5 L801.4,1267.7 L802.9,1274.9 L804.4,1282.2 L805.9,1289.5 L807.4,1296.8 L808.9,1304.2 L810.4,1311.6 L811.9,1319.0 L813.4,1326.4 L814.9,1333.8 L816.4,1341.2 L817.9,1348.5 L819.4,1355.9 L820.9,1363.1 L822.4,1370.4 L823.9,1377.5 L825.4,1384.6 L826.9,1391.6 L828.4,1398.6 L829.9,1405.4 L831.4,1412.1 L832.9,1418.7 L834.4,1425.3 L835.9,1431.7 L837.4,1438.0 L838.9,1444.1 L840.4,1450.2 L841.9,1456.1 L843.4,1462.0 L844.9,1467.7 L846.4,1473.3 L847.9,1478.8 L849.4,1484.2 L850.9,1489.5 L852.4,1494.7 L853.9,1499.8 L855.4,1504.8 L856.9,1509.7 L858.4,1514.6 L859.9,1519.4 L861.4,1524.1 L862.9,1528.7 L864.4,1533.2 L865.9,1537.7 L867.4,1542.1 L868.9,1546.5 L870.4,1550.8 L871.9,1555.0 L873.4,1559.2 L874.9,1563.3 L876.4,1567.3 L877.9,1571.3 L879.4,1575.2 L880.9,1579.1 L882.4,1582.8 L883.9,1586.5 L885.4,1590.2 L886.9,1593.7 L888.4,1597.2 L889.9,1600.6 L891.4,1604.0 L892.9,1607.2 L894.4,1610.4 L895.9,1613.5 L897.4,1616.6 L898.9,1619.5 L900.4,1622.4 L901.9,1625.2 L903.4,1628.0 L904.9,1630.6 L906.4,1633.2 L907.9,1635.8 L909.4,1638.2 L910.9,1640.6 L912.4,1643.0 L913.9,1645.2 L915.4,1647.4 L916.9,1649.6 L918.4,1651.6 L919.9,1653.6 L921.4,1655.6 L922.9,1657.5 L924.4,1659.3 L925.9,1661.1 L927.4,1662.9 L928.9,1664.5 L930.4,1666.2 L931.9,1667.7 L933.4,1669.2 L934.9,1670.7 L936.4,1672.1 L937.9,1673.5 L939.4,1674.9 L940.9,1676.1 L942.4,1677.4 L943.9,1678.6 L945.4,1679.7 L946.9,1680.9 L948.4,1681.9 L949.9,1683.0 L951.4,1684.0 L952.9,1685.0 L954.4,1685.9 L955.9,1686.8 L957.4,1687.7 L958.9,1688.5 L960.4,1689.3 L961.9,1690.1 L963.4,1690.8 L964.9,1691.5 L966.4,1692.2 L967.9,1692.9 L969.4,1693.5 L970.9,1694.1 L972.4,1694.7 L973.9,1695.3 L975.4,1695.8 L976.9,1696.3 L978.4,1696.8 L979.9,1697.3 L981.4,1697.8 L982.9,1698.2 L984.4,1698.6 L985.9,1699.0 L987.4,1699.4 L988.9,1699.8 L990.4,1700.1 L991.9,1700.5 L993.4,1700.8 L994.9,1701.1 L996.4,1701.4 L997.9,1701.7 L999.4,1701.9 L1000.9,1702.2 L1002.4,1702.4 L1003.9,1702.7 L1005.4,1702.9 L1006.9,1703.1 L1008.4,1703.3 L1009.9,1703.5 L1011.4,1703.7 L1012.9,1703.8 L1014.4,1704.0 L1015.9,1704.2 L1017.4,1704.3 L1018.9,1704.5 L1020.4,1704.6 L1021.9,1704.7 L1023.4,1704.9 L1024.9,1705.0 L1026.4,1705.1 L1027.9,1705.2 L1029.4,1705.3 L1030.9,1705.4 L1032.4,1705.5 L1033.9,1705.6 L1035.4,1705.6 L1036.9,1705.7 L1038.4,1705.8 L1039.9,1705.9 L1041.4,1705.9 L1042.9,1706.0 L1044.4,1706.0 L1045.9,1706.1 L1047.4,1706.2 L1048.9,1706.2 L1050.4,1706.2 L1051.9,1706.3" stroke="#000" stroke-width="5" stroke-dasharray="21 16"/>
<path d="M94.9,1666.5 L96.4,1664.8 L97.9,1663.1 L99.4,1661.3 L100.9,1659.5 L102.4,1657.6 L103.9,1655.6 L105.4,1653.6 L106.9,1651.6 L108.4,1649.5 L109.9,1647.4 L111.4,1645.2 L112.9,1643.0 L114.4,1640.7 L115.9,1638.4 L117.4,1636.0 L118.9,1633.6 L120.4,1631.2 L121.9,1628.7 L123.4,1626.1 L124.9,1623.6 L126.4,1620.9 L127.9,1618.3 L129.4,1615.6 L130.9,1612.9 L132.4,1610.1 L133.9,1607.3 L135.4,1604.5 L136.9,1601.6 L138.4,1598.8 L139.9,1595.9 L141.4,1593.0 L142.9,1590.0 L144.4,1587.1 L145.9,1584.1 L147.4,1581.1 L148.9,1578.2 L150.4,1575.2 L151.9,1572.2 L153.4,1569.2 L154.9,1566.2 L156.4,1563.2 L157.9,1560.3 L159.4,1557.3 L160.9,1554.4 L162.4,1551.5 L163.9,1548.6 L165.4,1545.7 L166.9,1542.9 L168.4,1540.1 L169.9,1537.4 L171.4,1534.6 L172.9,1532.0 L174.4,1529.3 L175.9,1526.8 L177.4,1524.3 L178.9,1521.8 L180.4,1519.4 L181.9,1517.0 L183.4,1514.8 L184.9,1512.6 L186.4,1510.4 L187.9,1508.4 L189.4,1506.4 L190.9,1504.5 L192.4,1502.7 L193.9,1501.0 L195.4,1499.4 L196.9,1497.8 L198.4,1496.4 L199.9,1495.0 L201.4,1493.8 L202.9,1492.6 L204.4,1491.6 L205.9,1490.6 L207.4,1489.8 L208.9,1489.0 L210.4,1488.4 L211.9,1487.9 L213.4,1487.5 L214.9,1487.2 L216.4,1487.0 L217.9,1486.9 L219.4,1486.9 L220.9,1487.1 L222.4,1487.3 L223.9,1487.7 L225.4,1488.1 L226.9,1488.7 L228.4,1489.4 L229.9,1490.2 L231.4,1491.1 L232.9,1492.1 L234.4,1493.1 L235.9,1494.3 L237.4,1495.6 L238.9,1497.0 L240.4,1498.5 L241.9,1500.1 L243.4,1501.8 L244.9,1503.5 L246.4,1505.4 L247.9,1507.3 L249.4,1509.3 L250.9,1511.4 L252.4,1513.6 L253.9,1515.8 L255.4,1518.1 L256.9,1520.5 L258.4,1522.9 L259.9,1525.4 L261.4,1528.0 L262.9,1530.6 L264.4,1533.2 L265.9,1535.9 L267.4,1538.6 L268.9,1541.4 L270.4,1544.2 L271.9,1547.1 L273.4,1550.0 L274.9,1552.8 L276.4,1555.8 L277.9,1558.7 L279.4,1561.7 L280.9,1564.6 L282.4,1567.6 L283.9,1570.6 L285.4,1573.6 L286.9,1576.6 L288.4,1579.5 L289.9,1582.5 L291.4,1585.5 L292.9,1588.4 L294.4,1591.4 L295.9,1594.3 L297.4,1597.2 L298.9,1600.1 L300.4,1603.0 L301.9,1605.8 L303.4,1608.6 L304.9,1611.4 L306.4,1614.1 L307.9,1616.8 L309.4,1619.5 L310.9,1622.2 L312.4,1624.8 L313.9,1627.3 L315.4,1629.8 L316.9,1632.3 L318.4,1634.8 L319.9,1637.1 L321.4,1639.5 L322.9,1641.8 L324.4,1644.0 L325.9,1646.2 L327.4,1648.4 L328.9,1650.5 L330.4,1652.6 L331.9,1654.6 L333.4,1656.5 L334.9,1658.5 L336.4,1660.3 L337.9,1662.1 L339.4,1663.9 L340.9,1665.6 L342.4,1667.3 L343.9,1668.9 L345.4,1670.5 L346.9,1672.0 L348.4,1673.5 L349.9,1674.9 L351.4,1676.3 L352.9,1677.6 L354.4,1678.9 L355.9,1680.2 L357.4,1681.4 L358.9,1682.6 L360.4,1683.7 L361.9,1684.8 L363.4,1685.8 L364.9,1686.8 L366.4,1687.8 L367.9,1688.7 L369.4,1689.6 L370.9,1690.5 L372.4,1691.3 L373.9,1692.1 L375.4,1692.8 L376.9,1693.6 L378.4,1694.3 L379.9,1694.9 L381.4,1695.6 L382.9,1696.2 L384.4,1696.8 L385.9,1697.3 L387.4,1697.8 L388.9,1698.3 L390.4,1698.8 L391.9,1699.3 L393.4,1699.7 L394.9,1700.1 L396.4,1700.5 L397.9,1700.9 L399.4,1701.3 L400.9,1701.6 L402.4,1701.9 L403.9,1702.2 L405.4,1702.5 L406.9,1702.8 L408.4,1703.0 L409.9,1703.3 L411.4,1703.5 L412.9,1703.7 L414.4,1703.9 L415.9,1704.1 L417.4,1704.3 L418.9,1704.5 L420.4,1704.7 L421.9,1704.8 L423.4,1705.0 L424.9,1705.1 L426.4,1705.2 L427.9,1705.3 L429.4,1705.4 L430.9,1705.6 L432.4,1705.7 L433.9,1705.7 L435.4,1705.8 L436.9,1705.9 L438.4,1706.0 L439.9,1706.1 L441.4,1706.1 L442.9,1706.2 L444.4,1706.3 L445.9,1706.3 L447.4,1706.4 L448.9,1706.4 L450.4,1706.4 L451.9,1706.5 L453.4,1706.5 L454.9,1706.6 L456.4,1706.6 L457.9,1706.6 L459.4,1706.7 L460.9,1706.7 L462.4,1706.7 L463.9,1706.7 L465.4,1706.8 L466.9,1706.8 L468.4,1706.8 L469.9,1706.8 L471.4,1706.8 L472.9,1706.8 L474.4,1706.9 L475.9,1706.9 L477.4,1706.9 L478.9,1706.9 L480.4,1706.9 L481.9,1706.9 L483.4,1706.9 L484.9,1706.9 L486.4,1706.9 L487.9,1706.9 L489.4,1706.9 L490.9,1706.9 L492.4,1706.9 L493.9,1707.0 L495.4,1707.0 L496.9,1707.0 L498.4,1707.0 L499.9,1707.0 L501.4,1707.0 L502.9,1707.0 L504.4,1707.0 L505.9,1707.0 L507.4,1707.0 L508.9,1707.0 L510.4,1707.0 L511.9,1707.0 L513.4,1707.0 L514.9,1707.0 L516.4,1707.0 L517.9,1707.0 L519.4,1707.0 L520.9,1707.0 L522.4,1707.0 L523.9,1707.0 L525.4,1707.0 L526.9,1707.0 L528.4,1707.0 L529.9,1707.0 L531.4,1707.0 L532.9,1707.0 L534.4,1707.0 L535.9,1707.0 L537.4,1707.0 L538.9,1707.0 L540.4,1707.0 L541.9,1707.0 L543.4,1707.0 L544.9,1707.0 L546.4,1707.0 L547.9,1707.0 L549.4,1707.0 L550.9,1707.0 L552.4,1707.0 L553.9,1707.0 L555.4,1707.0 L556.9,1707.0 L558.4,1707.0 L559.9,1707.0 L561.4,1707.0 L562.9,1707.0 L564.4,1707.0 L565.9,1707.0 L567.4,1707.0 L568.9,1707.0 L570.4,1707.0 L571.9,1707.0 L573.4,1707.0 L574.9,1707.0 L576.4,1707.0 L577.9,1707.0 L579.4,1707.0 L580.9,1707.0 L582.4,1707.0 L583.9,1707.0 L585.4,1707.0 L586.9,1707.0 L588.4,1707.0 L589.9,1707.0 L591.4,1707.0 L592.9,1707.0 L594.4,1707.0 L595.9,1707.0 L597.4,1707.0 L598.9,1707.0 L600.4,1707.0 L601.9,1707.0 L603.4,1707.0 L604.9,1707.0 L606.4,1707.0 L607.9,1707.0 L609.4,1707.0 L610.9,1707.0 L612.4,1707.0 L613.9,1707.0 L615.4,1707.0 L616.9,1707.0 L618.4,1707.0 L619.9,1707.0 L621.4,1707.0 L622.9,1707.0 L624.4,1707.0 L625.9,1707.0 L627.4,1707.0 L628.9,1707.0 L630.4,1707.0 L631.9,1707.0 L633.4,1707.0 L634.9,1707.0 L636.4,1707.0 L637.9,1707.0 L639.4,1707.0 L640.9,1707.0 L642.4,1707.0 L643.9,1707.0 L645.4,1707.0 L646.9,1707.0 L648.4,1707.0 L649.9,1707.0 L651.4,1707.0 L652.9,1707.0 L654.4,1707.0 L655.9,1707.0 L657.4,1707.0 L658.9,1707.0 L660.4,1707.0 L661.9,1707.0 L663.4,1707.0 L664.9,1707.0 L666.4,1707.0 L667.9,1707.0 L669.4,1707.0 L670.9,1707.0 L672.4,1707.0 L673.9,1707.0 L675.4,1707.0 L676.9,1707.0 L678.4,1707.0 L679.9,1707.0 L681.4,1707.0 L682.9,1707.0 L684.4,1707.0 L685.9,1707.0 L687.4,1707.0 L688.9,1707.0 L690.4,1707.0 L691.9,1707.0 L693.4,1707.0 L694.9,1707.0 L696.4,1707.0 L697.9,1707.0 L699.4,1707.0 L700.9,1707.0 L702.4,1707.0 L703.9,1707.0 L705.4,1707.0 L706.9,1707.0 L708.4,1707.0 L709.9,1707.0 L711.4,1707.0 L712.9,1707.0 L714.4,1707.0 L715.9,1707.0 L717.4,1707.0 L718.9,1707.0 L720.4,1707.0 L721.9,1707.0 L723.4,1707.0 L724.9,1707.0 L726.4,1707.0 L727.9,1707.0 L729.4,1707.0 L730.9,1707.0 L732.4,1707.0 L733.9,1707.0 L735.4,1707.0 L736.9,1707.0 L738.4,1707.0 L739.9,1707.0 L741.4,1707.0 L742.9,1707.0 L744.4,1707.0 L745.9,1707.0 L747.4,1707.0 L748.9,1707.0 L750.4,1707.0 L751.9,1707.0 L753.4,1707.0 L754.9,1707.0 L756.4,1707.0 L757.9,1707.0 L759.4,1707.0 L760.9,1707.0 L762.4,1707.0 L763.9,1707.0 L765.4,1707.0 L766.9,1707.0 L768.4,1707.0 L769.9,1707.0 L771.4,1707.0 L772.9,1707.0 L774.4,1707.0 L775.9,1707.0 L777.4,1707.0 L778.9,1707.0 L780.4,1707.0 L781.9,1707.0 L783.4,1707.0 L784.9,1707.0 L786.4,1707.0 L787.9,1707.0 L789.4,1707.0 L790.9,1707.0 L792.4,1707.0 L793.9,1707.0 L795.4,1707.0 L796.9,1707.0 L798.4,1707.0 L799.9,1707.0 L801.4,1707.0 L802.9,1707.0 L804.4,1707.0 L805.9,1707.0 L807.4,1707.0 L808.9,1707.0 L810.4,1707.0 L811.9,1707.0 L813.4,1707.0 L814.9,1707.0 L816.4,1707.0 L817.9,1707.0 L819.4,1707.0 L820.9,1707.0 L822.4,1707.0 L823.9,1707.0 L825.4,1707.0 L826.9,1707.0 L828.4,1707.0 L829.9,1707.0 L831.4,1707.0 L832.9,1707.0 L834.4,1707.0 L835.9,1707.0 L837.4,1707.0 L838.9,1707.0 L840.4,1707.0 L841.9,1707.0 L843.4,1707.0 L844.9,1707.0 L846.4,1707.0 L847.9,1707.0 L849.4,1707.0 L850.9,1707.0 L852.4,1707.0 L853.9,1707.0 L855.4,1707.0 L856.9,1707.0 L858.4,1707.0 L859.9,1707.0 L861.4,1707.0 L862.9,1707.0 L864.4,1707.0 L865.9,1707.0 L867.4,1707.0 L868.9,1707.0 L870.4,1707.0 L871.9,1707.0 L873.4,1707.0 L874.9,1707.0 L876.4,1707.0 L877.9,1707.0 L879.4,1707.0 L880.9,1707.0 L882.4,1707.0 L883.9,1707.0 L885.4,1707.0 L886.9,1707.0 L888.4,1707.0 L889.9,1707.0 L891.4,1707.0 L892.9,1707.0 L894.4,1707.0 L895.9,1707.0 L897.4,1707.0 L898.9,1707.0 L900.4,1707.0 L901.9,1707.0 L903.4,1707.0 L904.9,1707.0 L906.4,1707.0 L907.9,1707.0 L909.4,1707.0 L910.9,1707.0 L912.4,1707.0 L913.9,1707.0 L915.4,1707.0 L916.9,1707.0 L918.4,1707.0 L919.9,1707.0 L921.4,1707.0 L922.9,1707.0 L924.4,1707.0 L925.9,1707.0 L927.4,1707.0 L928.9,1707.0 L930.4,1707.0 L931.9,1707.0 L933.4,1707.0 L934.9,1707.0 L936.4,1707.0 L937.9,1707.0 L939.4,1707.0 L940.9,1707.0 L942.4,1707.0 L943.9,1707.0 L945.4,1707.0 L946.9,1707.0 L948.4,1707.0 L949.9,1707.0 L951.4,1707.0 L952.9,1707.0 L954.4,1707.0 L955.9,1707.0 L957.4,1707.0 L958.9,1707.0 L960.4,1707.0 L961.9,1707.0 L963.4,1707.0 L964.9,1707.0 L966.4,1707.0 L967.9,1707.0 L969.4,1707.0 L970.9,1707.0 L972.4,1707.0 L973.9,1707.0 L975.4,1707.0 L976.9,1707.0 L978.4,1707.0 L979.9,1707.0 L981.4,1707.0 L982.9,1707.0 L984.4,1707.0 L985.9,1707.0 L987.4,1707.0 L988.9,1707.0 L990.4,1707.0 L991.9,1707.0 L993.4,1707.0 L994.9,1707.0 L996.4,1707.0 L997.9,1707.0 L999.4,1707.0 L1000.9,1707.0 L1002.4,1707.0 L1003.9,1707.0 L1005.4,1707.0 L1006.9,1707.0 L1008.4,1707.0 L1009.9,1707.0 L1011.4,1707.0 L1012.9,1707.0 L1014.4,1707.0 L1015.9,1707.0 L1017.4,1707.0 L1018.9,1707.0 L1020.4,1707.0 L1021.9,1707.0 L1023.4,1707.0 L1024.9,1707.0 L1026.4,1707.0 L1027.9,1707.0 L1029.4,1707.0 L1030.9,1707.0 L1032.4,1707.0 L1033.9,1707.0 L1035.4,1707.0 L1036.9,1707.0 L1038.4,1707.0 L1039.9,1707.0 L1041.4,1707.0 L1042.9,1707.0 L1044.4,1707.0 L1045.9,1707.0 L1047.4,1707.0 L1048.9,1707.0 L1050.4,1707.0 L1051.9,1707.0" stroke="#ff00ff" stroke-width="5.5" stroke-dasharray="7 25"/>
<path d="M94.9,1706.9 L96.4,1706.9 L97.9,1706.9 L99.4,1706.9 L100.9,1706.9 L102.4,1706.9 L103.9,1706.9 L105.4,1706.8 L106.9,1706.8 L108.4,1706.8 L109.9,1706.8 L111.4,1706.8 L112.9,1706.8 L114.4,1706.7 L115.9,1706.7 L117.4,1706.7 L118.9,1706.7 L120.4,1706.6 L121.9,1706.6 L123.4,1706.6 L124.9,1706.5 L126.4,1706.5 L127.9,1706.5 L129.4,1706.4 L130.9,1706.4 L132.4,1706.3 L133.9,1706.3 L135.4,1706.2 L136.9,1706.2 L138.4,1706.1 L139.9,1706.0 L141.4,1705.9 L142.9,1705.9 L144.4,1705.8 L145.9,1705.7 L147.4,1705.6 L148.9,1705.5 L150.4,1705.4 L151.9,1705.3 L153.4,1705.1 L154.9,1705.0 L156.4,1704.8 L157.9,1704.7 L159.4,1704.5 L160.9,1704.4 L162.4,1704.2 L163.9,1704.0 L165.4,1703.8 L166.9,1703.6 L168.4,1703.3 L169.9,1703.1 L171.4,1702.9 L172.9,1702.6 L174.4,1702.3 L175.9,1702.0 L177.4,1701.7 L178.9,1701.4 L180.4,1701.0 L181.9,1700.6 L183.4,1700.3 L184.9,1699.8 L186.4,1699.4 L187.9,1699.0 L189.4,1698.5 L190.9,1698.0 L192.4,1697.5 L193.9,1697.0 L195.4,1696.4 L196.9,1695.8 L198.4,1695.2 L199.9,1694.6 L201.4,1693.9 L202.9,1693.2 L204.4,1692.5 L205.9,1691.7 L207.4,1691.0 L208.9,1690.1 L210.4,1689.3 L211.9,1688.4 L213.4,1687.5 L214.9,1686.6 L216.4,1685.6 L217.9,1684.6 L219.4,1683.5 L220.9,1682.4 L222.4,1681.3 L223.9,1680.2 L225.4,1679.0 L226.9,1677.8 L228.4,1676.5 L229.9,1675.2 L231.4,1673.8 L232.9,1672.5 L234.4,1671.1 L235.9,1669.6 L237.4,1668.1 L238.9,1666.6 L240.4,1665.0 L241.9,1663.4 L243.4,1661.8 L244.9,1660.1 L246.4,1658.4 L247.9,1656.7 L249.4,1654.9 L250.9,1653.1 L252.4,1651.2 L253.9,1649.4 L255.4,1647.5 L256.9,1645.5 L258.4,1643.6 L259.9,1641.6 L261.4,1639.6 L262.9,1637.6 L264.4,1635.5 L265.9,1633.4 L267.4,1631.3 L268.9,1629.2 L270.4,1627.1 L271.9,1625.0 L273.4,1622.8 L274.9,1620.7 L276.4,1618.5 L277.9,1616.3 L279.4,1614.2 L280.9,1612.0 L282.4,1609.8 L283.9,1607.7 L285.4,1605.5 L286.9,1603.4 L288.4,1601.2 L289.9,1599.1 L291.4,1597.0 L292.9,1595.0 L294.4,1592.9 L295.9,1590.9 L297.4,1588.9 L298.9,1586.9 L300.4,1585.0 L301.9,1583.1 L303.4,1581.2 L304.9,1579.4 L306.4,1577.6 L307.9,1575.9 L309.4,1574.3 L310.9,1572.6 L312.4,1571.1 L313.9,1569.6 L315.4,1568.1 L316.9,1566.7 L318.4,1565.4 L319.9,1564.2 L321.4,1563.0 L322.9,1561.9 L324.4,1560.8 L325.9,1559.9 L327.4,1559.0 L328.9,1558.1 L330.4,1557.4 L331.9,1556.7 L333.4,1556.2 L334.9,1555.7 L336.4,1555.2 L337.9,1554.9 L339.4,1554.6 L340.9,1554.5 L342.4,1554.4 L343.9,1554.4 L345.4,1554.5 L346.9,1554.6 L348.4,1554.9 L349.9,1555.2 L351.4,1555.6 L352.9,1556.1 L354.4,1556.7 L355.9,1557.3 L357.4,1558.1 L358.9,1558.9 L360.4,1559.8 L361.9,1560.7 L363.4,1561.8 L364.9,1562.9 L366.4,1564.1 L367.9,1565.3 L369.4,1566.6 L370.9,1568.0 L372.4,1569.5 L373.9,1571.0 L375.4,1572.5 L376.9,1574.1 L378.4,1575.8 L379.9,1577.5 L381.4,1579.3 L382.9,1581.1 L384.4,1582.9 L385.9,1584.8 L387.4,1586.8 L388.9,1588.7 L390.4,1590.7 L391.9,1592.7 L393.4,1594.8 L394.9,1596.9 L396.4,1599.0 L397.9,1601.1 L399.4,1603.2 L400.9,1605.4 L402.4,1607.5 L403.9,1609.7 L405.4,1611.8 L406.9,1614.0 L408.4,1616.2 L409.9,1618.3 L411.4,1620.5 L412.9,1622.7 L414.4,1624.8 L415.9,1627.0 L417.4,1629.1 L418.9,1631.2 L420.4,1633.3 L421.9,1635.4 L423.4,1637.4 L424.9,1639.5 L426.4,1641.5 L427.9,1643.4 L429.4,1645.4 L430.9,1647.3 L432.4,1649.2 L433.9,1651.1 L435.4,1653.0 L436.9,1654.8 L438.4,1656.5 L439.9,1658.3 L441.4,1660.0 L442.9,1661.7 L444.4,1663.3 L445.9,1664.9 L447.4,1666.5 L448.9,1668.0 L450.4,1669.5 L451.9,1670.9 L453.4,1672.4 L454.9,1673.7 L456.4,1675.1 L457.9,1676.4 L459.4,1677.7 L460.9,1678.9 L462.4,1680.1 L463.9,1681.2 L465.4,1682.4 L466.9,1683.4 L468.4,1684.5 L469.9,1685.5 L471.4,1686.5 L472.9,1687.4 L474.4,1688.4 L475.9,1689.2 L477.4,1690.1 L478.9,1690.9 L480.4,1691.7 L481.9,1692.4 L483.4,1693.2 L484.9,1693.9 L486.4,1694.5 L487.9,1695.2 L489.4,1695.8 L490.9,1696.4 L492.4,1696.9 L493.9,1697.5 L495.4,1698.0 L496.9,1698.5 L498.4,1698.9 L499.9,1699.4 L501.4,1699.8 L502.9,1700.2 L504.4,1700.6 L505.9,1701.0 L507.4,1701.3 L508.9,1701.7 L510.4,1702.0 L511.9,1702.3 L513.4,1702.6 L514.9,1702.8 L516.4,1703.1 L517.9,1703.3 L519.4,1703.6 L520.9,1703.8 L522.4,1704.0 L523.9,1704.2 L525.4,1704.4 L526.9,1704.5 L528.4,1704.7 L529.9,1704.8 L531.4,1705.0 L532.9,1705.1 L534.4,1705.2 L535.9,1705.4 L537.4,1705.5 L538.9,1705.6 L540.4,1705.7 L541.9,1705.8 L543.4,1705.9 L544.9,1705.9 L546.4,1706.0 L547.9,1706.1 L549.4,1706.2 L550.9,1706.2 L552.4,1706.3 L553.9,1706.3 L555.4,1706.4 L556.9,1706.4 L558.4,1706.5 L559.9,1706.5 L561.4,1706.5 L562.9,1706.6 L564.4,1706.6 L565.9,1706.6 L567.4,1706.7 L568.9,1706.7 L570.4,1706.7 L571.9,1706.7 L573.4,1706.8 L574.9,1706.8 L576.4,1706.8 L577.9,1706.8 L579.4,1706.8 L580.9,1706.8 L582.4,1706.9 L583.9,1706.9 L585.4,1706.9 L586.9,1706.9 L588.4,1706.9 L589.9,1706.9 L591.4,1706.9 L592.9,1706.9 L594.4,1706.9 L595.9,1706.9 L597.4,1706.9 L598.9,1706.9 L600.4,1707.0 L601.9,1707.0 L603.4,1707.0 L604.9,1707.0 L606.4,1707.0 L607.9,1707.0 L609.4,1707.0 L610.9,1707.0 L612.4,1707.0 L613.9,1707.0 L615.4,1707.0 L616.9,1707.0 L618.4,1707.0 L619.9,1707.0 L621.4,1707.0 L622.9,1707.0 L624.4,1707.0 L625.9,1707.0 L627.4,1707.0 L628.9,1707.0 L630.4,1707.0 L631.9,1707.0 L633.4,1707.0 L634.9,1707.0 L636.4,1707.0 L637.9,1707.0 L639.4,1707.0 L640.9,1707.0 L642.4,1707.0 L643.9,1707.0 L645.4,1707.0 L646.9,1707.0 L648.4,1707.0 L649.9,1707.0 L651.4,1707.0 L652.9,1707.0 L654.4,1707.0 L655.9,1707.0 L657.4,1707.0 L658.9,1707.0 L660.4,1707.0 L661.9,1707.0 L663.4,1707.0 L664.9,1707.0 L666.4,1707.0 L667.9,1707.0 L669.4,1707.0 L670.9,1707.0 L672.4,1707.0 L673.9,1707.0 L675.4,1707.0 L676.9,1707.0 L678.4,1707.0 L679.9,1707.0 L681.4,1707.0 L682.9,1707.0 L684.4,1707.0 L685.9,1707.0 L687.4,1707.0 L688.9,1707.0 L690.4,1707.0 L691.9,1707.0 L693.4,1707.0 L694.9,1707.0 L696.4,1707.0 L697.9,1707.0 L699.4,1707.0 L700.9,1707.0 L702.4,1707.0 L703.9,1707.0 L705.4,1707.0 L706.9,1707.0 L708.4,1707.0 L709.9,1707.0 L711.4,1707.0 L712.9,1707.0 L714.4,1707.0 L715.9,1707.0 L717.4,1707.0 L718.9,1707.0 L720.4,1707.0 L721.9,1707.0 L723.4,1707.0 L724.9,1707.0 L726.4,1707.0 L727.9,1707.0 L729.4,1707.0 L730.9,1707.0 L732.4,1707.0 L733.9,1707.0 L735.4,1707.0 L736.9,1707.0 L738.4,1707.0 L739.9,1707.0 L741.4,1707.0 L742.9,1707.0 L744.4,1707.0 L745.9,1707.0 L747.4,1707.0 L748.9,1707.0 L750.4,1707.0 L751.9,1707.0 L753.4,1707.0 L754.9,1707.0 L756.4,1707.0 L757.9,1707.0 L759.4,1707.0 L760.9,1707.0 L762.4,1707.0 L763.9,1707.0 L765.4,1707.0 L766.9,1707.0 L768.4,1707.0 L769.9,1707.0 L771.4,1707.0 L772.9,1707.0 L774.4,1707.0 L775.9,1707.0 L777.4,1707.0 L778.9,1707.0 L780.4,1707.0 L781.9,1707.0 L783.4,1707.0 L784.9,1707.0 L786.4,1707.0 L787.9,1707.0 L789.4,1707.0 L790.9,1707.0 L792.4,1707.0 L793.9,1707.0 L795.4,1707.0 L796.9,1707.0 L798.4,1707.0 L799.9,1707.0 L801.4,1707.0 L802.9,1707.0 L804.4,1707.0 L805.9,1707.0 L807.4,1707.0 L808.9,1707.0 L810.4,1707.0 L811.9,1707.0 L813.4,1707.0 L814.9,1707.0 L816.4,1707.0 L817.9,1707.0 L819.4,1707.0 L820.9,1707.0 L822.4,1707.0 L823.9,1707.0 L825.4,1707.0 L826.9,1707.0 L828.4,1707.0 L829.9,1707.0 L831.4,1707.0 L832.9,1707.0 L834.4,1707.0 L835.9,1707.0 L837.4,1707.0 L838.9,1707.0 L840.4,1707.0 L841.9,1707.0 L843.4,1707.0 L844.9,1707.0 L846.4,1707.0 L847.9,1707.0 L849.4,1707.0 L850.9,1707.0 L852.4,1707.0 L853.9,1707.0 L855.4,1707.0 L856.9,1707.0 L858.4,1707.0 L859.9,1707.0 L861.4,1707.0 L862.9,1707.0 L864.4,1707.0 L865.9,1707.0 L867.4,1707.0 L868.9,1707.0 L870.4,1707.0 L871.9,1707.0 L873.4,1707.0 L874.9,1707.0 L876.4,1707.0 L877.9,1707.0 L879.4,1707.0 L880.9,1707.0 L882.4,1707.0 L883.9,1707.0 L885.4,1707.0 L886.9,1707.0 L888.4,1707.0 L889.9,1707.0 L891.4,1707.0 L892.9,1707.0 L894.4,1707.0 L895.9,1707.0 L897.4,1707.0 L898.9,1707.0 L900.4,1707.0 L901.9,1707.0 L903.4,1707.0 L904.9,1707.0 L906.4,1707.0 L907.9,1707.0 L909.4,1707.0 L910.9,1707.0 L912.4,1707.0 L913.9,1707.0 L915.4,1707.0 L916.9,1707.0 L918.4,1707.0 L919.9,1707.0 L921.4,1707.0 L922.9,1707.0 L924.4,1707.0 L925.9,1707.0 L927.4,1707.0 L928.9,1707.0 L930.4,1707.0 L931.9,1707.0 L933.4,1707.0 L934.9,1707.0 L936.4,1707.0 L937.9,1707.0 L939.4,1707.0 L940.9,1707.0 L942.4,1707.0 L943.9,1707.0 L945.4,1707.0 L946.9,1707.0 L948.4,1707.0 L949.9,1707.0 L951.4,1707.0 L952.9,1707.0 L954.4,1707.0 L955.9,1707.0 L957.4,1707.0 L958.9,1707.0 L960.4,1707.0 L961.9,1707.0 L963.4,1707.0 L964.9,1707.0 L966.4,1707.0 L967.9,1707.0 L969.4,1707.0 L970.9,1707.0 L972.4,1707.0 L973.9,1707.0 L975.4,1707.0 L976.9,1707.0 L978.4,1707.0 L979.9,1707.0 L981.4,1707.0 L982.9,1707.0 L984.4,1707.0 L985.9,1707.0 L987.4,1707.0 L988.9,1707.0 L990.4,1707.0 L991.9,1707.0 L993.4,1707.0 L994.9,1707.0 L996.4,1707.0 L997.9,1707.0 L999.4,1707.0 L1000.9,1707.0 L1002.4,1707.0 L1003.9,1707.0 L1005.4,1707.0 L1006.9,1707.0 L1008.4,1707.0 L1009.9,1707.0 L1011.4,1707.0 L1012.9,1707.0 L1014.4,1707.0 L1015.9,1707.0 L1017.4,1707.0 L1018.9,1707.0 L1020.4,1707.0 L1021.9,1707.0 L1023.4,1707.0 L1024.9,1707.0 L1026.4,1707.0 L1027.9,1707.0 L1029.4,1707.0 L1030.9,1707.0 L1032.4,1707.0 L1033.9,1707.0 L1035.4,1707.0 L1036.9,1707.0 L1038.4,1707.0 L1039.9,1707.0 L1041.4,1707.0 L1042.9,1707.0 L1044.4,1707.0 L1045.9,1707.0 L1047.4,1707.0 L1048.9,1707.0 L1050.4,1707.0 L1051.9,1707.0" stroke="#ff00ff" stroke-width="5.5" stroke-dasharray="7 25"/>
<path d="M94.9,1707.0 L96.4,1707.0 L97.9,1707.0 L99.4,1707.0 L100.9,1707.0 L102.4,1707.0 L103.9,1707.0 L105.4,1707.0 L106.9,1707.0 L108.4,1707.0 L109.9,1707.0 L111.4,1707.0 L112.9,1707.0 L114.4,1707.0 L115.9,1707.0 L117.4,1707.0 L118.9,1707.0 L120.4,1707.0 L121.9,1707.0 L123.4,1707.0 L124.9,1707.0 L126.4,1707.0 L127.9,1707.0 L129.4,1707.0 L130.9,1707.0 L132.4,1707.0 L133.9,1707.0 L135.4,1707.0 L136.9,1707.0 L138.4,1707.0 L139.9,1707.0 L141.4,1707.0 L142.9,1707.0 L144.4,1707.0 L145.9,1707.0 L147.4,1707.0 L148.9,1707.0 L150.4,1707.0 L151.9,1707.0 L153.4,1707.0 L154.9,1707.0 L156.4,1707.0 L157.9,1707.0 L159.4,1707.0 L160.9,1707.0 L162.4,1707.0 L163.9,1707.0 L165.4,1707.0 L166.9,1707.0 L168.4,1707.0 L169.9,1707.0 L171.4,1707.0 L172.9,1707.0 L174.4,1707.0 L175.9,1707.0 L177.4,1707.0 L178.9,1707.0 L180.4,1707.0 L181.9,1707.0 L183.4,1707.0 L184.9,1707.0 L186.4,1707.0 L187.9,1707.0 L189.4,1707.0 L190.9,1707.0 L192.4,1707.0 L193.9,1707.0 L195.4,1707.0 L196.9,1707.0 L198.4,1707.0 L199.9,1707.0 L201.4,1707.0 L202.9,1707.0 L204.4,1707.0 L205.9,1707.0 L207.4,1707.0 L208.9,1707.0 L210.4,1707.0 L211.9,1707.0 L213.4,1707.0 L214.9,1707.0 L216.4,1707.0 L217.9,1707.0 L219.4,1707.0 L220.9,1707.0 L222.4,1707.0 L223.9,1707.0 L225.4,1707.0 L226.9,1707.0 L228.4,1707.0 L229.9,1707.0 L231.4,1707.0 L232.9,1707.0 L234.4,1707.0 L235.9,1707.0 L237.4,1707.0 L238.9,1707.0 L240.4,1707.0 L241.9,1707.0 L243.4,1707.0 L244.9,1707.0 L246.4,1707.0 L247.9,1707.0 L249.4,1707.0 L250.9,1707.0 L252.4,1707.0 L253.9,1707.0 L255.4,1707.0 L256.9,1707.0 L258.4,1707.0 L259.9,1707.0 L261.4,1707.0 L262.9,1707.0 L264.4,1707.0 L265.9,1707.0 L267.4,1707.0 L268.9,1707.0 L270.4,1707.0 L271.9,1707.0 L273.4,1707.0 L274.9,1707.0 L276.4,1706.9 L277.9,1706.9 L279.4,1706.9 L280.9,1706.9 L282.4,1706.9 L283.9,1706.9 L285.4,1706.9 L286.9,1706.9 L288.4,1706.8 L289.9,1706.8 L291.4,1706.8 L292.9,1706.8 L294.4,1706.8 L295.9,1706.7 L297.4,1706.7 L298.9,1706.7 L300.4,1706.6 L301.9,1706.6 L303.4,1706.5 L304.9,1706.5 L306.4,1706.4 L307.9,1706.3 L309.4,1706.3 L310.9,1706.2 L312.4,1706.1 L313.9,1706.0 L315.4,1705.9 L316.9,1705.8 L318.4,1705.7 L319.9,1705.5 L321.4,1705.4 L322.9,1705.2 L324.4,1705.1 L325.9,1704.9 L327.4,1704.7 L328.9,1704.5 L330.4,1704.2 L331.9,1704.0 L333.4,1703.7 L334.9,1703.4 L336.4,1703.1 L337.9,1702.7 L339.4,1702.4 L340.9,1702.0 L342.4,1701.5 L343.9,1701.1 L345.4,1700.6 L346.9,1700.1 L348.4,1699.6 L349.9,1699.0 L351.4,1698.4 L352.9,1697.7 L354.4,1697.1 L355.9,1696.3 L357.4,1695.6 L358.9,1694.8 L360.4,1693.9 L361.9,1693.0 L363.4,1692.1 L364.9,1691.1 L366.4,1690.1 L367.9,1689.0 L369.4,1687.9 L370.9,1686.8 L372.4,1685.6 L373.9,1684.3 L375.4,1683.0 L376.9,1681.7 L378.4,1680.3 L379.9,1678.8 L381.4,1677.4 L382.9,1675.8 L384.4,1674.3 L385.9,1672.6 L387.4,1671.0 L388.9,1669.3 L390.4,1667.6 L391.9,1665.8 L393.4,1664.1 L394.9,1662.2 L396.4,1660.4 L397.9,1658.6 L399.4,1656.7 L400.9,1654.8 L402.4,1652.9 L403.9,1651.0 L405.4,1649.1 L406.9,1647.2 L408.4,1645.2 L409.9,1643.3 L411.4,1641.5 L412.9,1639.6 L414.4,1637.8 L415.9,1636.0 L417.4,1634.2 L418.9,1632.4 L420.4,1630.7 L421.9,1629.1 L423.4,1627.5 L424.9,1626.0 L426.4,1624.5 L427.9,1623.1 L429.4,1621.7 L430.9,1620.5 L432.4,1619.3 L433.9,1618.2 L435.4,1617.1 L436.9,1616.2 L438.4,1615.4 L439.9,1614.6 L441.4,1614.0 L442.9,1613.4 L444.4,1613.0 L445.9,1612.6 L447.4,1612.4 L448.9,1612.3 L450.4,1612.2 L451.9,1612.3 L453.4,1612.5 L454.9,1612.7 L456.4,1613.1 L457.9,1613.6 L459.4,1614.2 L460.9,1614.9 L462.4,1615.7 L463.9,1616.5 L465.4,1617.5 L466.9,1618.6 L468.4,1619.7 L469.9,1620.9 L471.4,1622.2 L472.9,1623.6 L474.4,1625.0 L475.9,1626.5 L477.4,1628.1 L478.9,1629.7 L480.4,1631.4 L481.9,1633.1 L483.4,1634.8 L484.9,1636.6 L486.4,1638.4 L487.9,1640.3 L489.4,1642.2 L490.9,1644.0 L492.4,1645.9 L493.9,1647.8 L495.4,1649.8 L496.9,1651.7 L498.4,1653.6 L499.9,1655.5 L501.4,1657.4 L502.9,1659.2 L504.4,1661.1 L505.9,1662.9 L507.4,1664.7 L508.9,1666.5 L510.4,1668.2 L511.9,1669.9 L513.4,1671.6 L514.9,1673.2 L516.4,1674.8 L517.9,1676.4 L519.4,1677.9 L520.9,1679.4 L522.4,1680.8 L523.9,1682.2 L525.4,1683.5 L526.9,1684.8 L528.4,1686.0 L529.9,1687.2 L531.4,1688.3 L532.9,1689.4 L534.4,1690.5 L535.9,1691.5 L537.4,1692.5 L538.9,1693.4 L540.4,1694.2 L541.9,1695.1 L543.4,1695.9 L544.9,1696.6 L546.4,1697.3 L547.9,1698.0 L549.4,1698.6 L550.9,1699.2 L552.4,1699.8 L553.9,1700.3 L555.4,1700.8 L556.9,1701.3 L558.4,1701.7 L559.9,1702.1 L561.4,1702.5 L562.9,1702.9 L564.4,1703.2 L565.9,1703.5 L567.4,1703.8 L568.9,1704.1 L570.4,1704.3 L571.9,1704.5 L573.4,1704.7 L574.9,1704.9 L576.4,1705.1 L577.9,1705.3 L579.4,1705.4 L580.9,1705.6 L582.4,1705.7 L583.9,1705.8 L585.4,1705.9 L586.9,1706.0 L588.4,1706.1 L589.9,1706.2 L591.4,1706.3 L592.9,1706.4 L594.4,1706.4 L595.9,1706.5 L597.4,1706.5 L598.9,1706.6 L600.4,1706.6 L601.9,1706.7 L603.4,1706.7 L604.9,1706.7 L606.4,1706.8 L607.9,1706.8 L609.4,1706.8 L610.9,1706.8 L612.4,1706.9 L613.9,1706.9 L615.4,1706.9 L616.9,1706.9 L618.4,1706.9 L619.9,1706.9 L621.4,1706.9 L622.9,1706.9 L624.4,1706.9 L625.9,1707.0 L627.4,1707.0 L628.9,1707.0 L630.4,1707.0 L631.9,1707.0 L633.4,1707.0 L634.9,1707.0 L636.4,1707.0 L637.9,1707.0 L639.4,1707.0 L640.9,1707.0 L642.4,1707.0 L643.9,1707.0 L645.4,1707.0 L646.9,1707.0 L648.4,1707.0 L649.9,1707.0 L651.4,1707.0 L652.9,1707.0 L654.4,1707.0 L655.9,1707.0 L657.4,1707.0 L658.9,1707.0 L660.4,1707.0 L661.9,1707.0 L663.4,1707.0 L664.9,1707.0 L666.4,1707.0 L667.9,1707.0 L669.4,1707.0 L670.9,1707.0 L672.4,1707.0 L673.9,1707.0 L675.4,1707.0 L676.9,1707.0 L678.4,1707.0 L679.9,1707.0 L681.4,1707.0 L682.9,1707.0 L684.4,1707.0 L685.9,1707.0 L687.4,1707.0 L688.9,1707.0 L690.4,1707.0 L691.9,1707.0 L693.4,1707.0 L694.9,1707.0 L696.4,1707.0 L697.9,1707.0 L699.4,1707.0 L700.9,1707.0 L702.4,1707.0 L703.9,1707.0 L705.4,1707.0 L706.9,1707.0 L708.4,1707.0 L709.9,1707.0 L711.4,1707.0 L712.9,1707.0 L714.4,1707.0 L715.9,1707.0 L717.4,1707.0 L718.9,1707.0 L720.4,1707.0 L721.9,1707.0 L723.4,1707.0 L724.9,1707.0 L726.4,1707.0 L727.9,1707.0 L729.4,1707.0 L730.9,1707.0 L732.4,1707.0 L733.9,1707.0 L735.4,1707.0 L736.9,1707.0 L738.4,1707.0 L739.9,1707.0 L741.4,1707.0 L742.9,1707.0 L744.4,1707.0 L745.9,1707.0 L747.4,1707.0 L748.9,1707.0 L750.4,1707.0 L751.9,1707.0 L753.4,1707.0 L754.9,1707.0 L756.4,1707.0 L757.9,1707.0 L759.4,1707.0 L760.9,1707.0 L762.4,1707.0 L763.9,1707.0 L765.4,1707.0 L766.9,1707.0 L768.4,1707.0 L769.9,1707.0 L771.4,1707.0 L772.9,1707.0 L774.4,1707.0 L775.9,1707.0 L777.4,1707.0 L778.9,1707.0 L780.4,1707.0 L781.9,1707.0 L783.4,1707.0 L784.9,1707.0 L786.4,1707.0 L787.9,1707.0 L789.4,1707.0 L790.9,1707.0 L792.4,1707.0 L793.9,1707.0 L795.4,1707.0 L796.9,1707.0 L798.4,1707.0 L799.9,1707.0 L801.4,1707.0 L802.9,1707.0 L804.4,1707.0 L805.9,1707.0 L807.4,1707.0 L808.9,1707.0 L810.4,1707.0 L811.9,1707.0 L813.4,1707.0 L814.9,1707.0 L816.4,1707.0 L817.9,1707.0 L819.4,1707.0 L820.9,1707.0 L822.4,1707.0 L823.9,1707.0 L825.4,1707.0 L826.9,1707.0 L828.4,1707.0 L829.9,1707.0 L831.4,1707.0 L832.9,1707.0 L834.4,1707.0 L835.9,1707.0 L837.4,1707.0 L838.9,1707.0 L840.4,1707.0 L841.9,1707.0 L843.4,1707.0 L844.9,1707.0 L846.4,1707.0 L847.9,1707.0 L849.4,1707.0 L850.9,1707.0 L852.4,1707.0 L853.9,1707.0 L855.4,1707.0 L856.9,1707.0 L858.4,1707.0 L859.9,1707.0 L861.4,1707.0 L862.9,1707.0 L864.4,1707.0 L865.9,1707.0 L867.4,1707.0 L868.9,1707.0 L870.4,1707.0 L871.9,1707.0 L873.4,1707.0 L874.9,1707.0 L876.4,1707.0 L877.9,1707.0 L879.4,1707.0 L880.9,1707.0 L882.4,1707.0 L883.9,1707.0 L885.4,1707.0 L886.9,1707.0 L888.4,1707.0 L889.9,1707.0 L891.4,1707.0 L892.9,1707.0 L894.4,1707.0 L895.9,1707.0 L897.4,1707.0 L898.9,1707.0 L900.4,1707.0 L901.9,1707.0 L903.4,1707.0 L904.9,1707.0 L906.4,1707.0 L907.9,1707.0 L909.4,1707.0 L910.9,1707.0 L912.4,1707.0 L913.9,1707.0 L915.4,1707.0 L916.9,1707.0 L918.4,1707.0 L919.9,1707.0 L921.4,1707.0 L922.9,1707.0 L924.4,1707.0 L925.9,1707.0 L927.4,1707.0 L928.9,1707.0 L930.4,1707.0 L931.9,1707.0 L933.4,1707.0 L934.9,1707.0 L936.4,1707.0 L937.9,1707.0 L939.4,1707.0 L940.9,1707.0 L942.4,1707.0 L943.9,1707.0 L945.4,1707.0 L946.9,1707.0 L948.4,1707.0 L949.9,1707.0 L951.4,1707.0 L952.9,1707.0 L954.4,1707.0 L955.9,1707.0 L957.4,1707.0 L958.9,1707.0 L960.4,1707.0 L961.9,1707.0 L963.4,1707.0 L964.9,1707.0 L966.4,1707.0 L967.9,1707.0 L969.4,1707.0 L970.9,1707.0 L972.4,1707.0 L973.9,1707.0 L975.4,1707.0 L976.9,1707.0 L978.4,1707.0 L979.9,1707.0 L981.4,1707.0 L982.9,1707.0 L984.4,1707.0 L985.9,1707.0 L987.4,1707.0 L988.9,1707.0 L990.4,1707.0 L991.9,1707.0 L993.4,1707.0 L994.9,1707.0 L996.4,1707.0 L997.9,1707.0 L999.4,1707.0 L1000.9,1707.0 L1002.4,1707.0 L1003.9,1707.0 L1005.4,1707.0 L1006.9,1707.0 L1008.4,1707.0 L1009.9,1707.0 L1011.4,1707.0 L1012.9,1707.0 L1014.4,1707.0 L1015.9,1707.0 L1017.4,1707.0 L1018.9,1707.0 L1020.4,1707.0 L1021.9,1707.0 L1023.4,1707.0 L1024.9,1707.0 L1026.4,1707.0 L1027.9,1707.0 L1029.4,1707.0 L1030.9,1707.0 L1032.4,1707.0 L1033.9,1707.0 L1035.4,1707.0 L1036.9,1707.0 L1038.4,1707.0 L1039.9,1707.0 L1041.4,1707.0 L1042.9,1707.0 L1044.4,1707.0 L1045.9,1707.0 L1047.4,1707.0 L1048.9,1707.0 L1050.4,1707.0 L1051.9,1707.0" stroke="#ff00ff" stroke-width="5.5" stroke-dasharray="7 25"/>
<path d="M94.9,1707.0 L96.4,1707.0 L97.9,1707.0 L99.4,1707.0 L100.9,1707.0 L102.4,1707.0 L103.9,1707.0 L105.4,1707.0 L106.9,1707.0 L108.4,1707.0 L109.9,1707.0 L111.4,1707.0 L112.9,1707.0 L114.4,1707.0 L115.9,1707.0 L117.4,1707.0 L118.9,1707.0 L120.4,1707.0 L121.9,1707.0 L123.4,1707.0 L124.9,1707.0 L126.4,1707.0 L127.9,1707.0 L129.4,1707.0 L130.9,1707.0 L132.4,1707.0 L133.9,1707.0 L135.4,1707.0 L136.9,1707.0 L138.4,1707.0 L139.9,1707.0 L141.4,1707.0 L142.9,1707.0 L144.4,1707.0 L145.9,1707.0 L147.4,1707.0 L148.9,1707.0 L150.4,1707.0 L151.9,1707.0 L153.4,1707.0 L154.9,1707.0 L156.4,1707.0 L157.9,1707.0 L159.4,1707.0 L160.9,1707.0 L162.4,1707.0 L163.9,1707.0 L165.4,1707.0 L166.9,1707.0 L168.4,1707.0 L169.9,1707.0 L171.4,1707.0 L172.9,1707.0 L174.4,1707.0 L175.9,1707.0 L177.4,1707.0 L178.9,1707.0 L180.4,1707.0 L181.9,1707.0 L183.4,1707.0 L184.9,1707.0 L186.4,1707.0 L187.9,1707.0 L189.4,1707.0 L190.9,1707.0 L192.4,1707.0 L193.9,1707.0 L195.4,1707.0 L196.9,1707.0 L198.4,1707.0 L199.9,1707.0 L201.4,1707.0 L202.9,1707.0 L204.4,1707.0 L205.9,1707.0 L207.4,1707.0 L208.9,1707.0 L210.4,1707.0 L211.9,1707.0 L213.4,1707.0 L214.9,1707.0 L216.4,1707.0 L217.9,1707.0 L219.4,1707.0 L220.9,1707.0 L222.4,1707.0 L223.9,1707.0 L225.4,1707.0 L226.9,1707.0 L228.4,1707.0 L229.9,1707.0 L231.4,1707.0 L232.9,1707.0 L234.4,1707.0 L235.9,1707.0 L237.4,1707.0 L238.9,1707.0 L240.4,1707.0 L241.9,1707.0 L243.4,1707.0 L244.9,1707.0 L246.4,1707.0 L247.9,1707.0 L249.4,1707.0 L250.9,1707.0 L252.4,1707.0 L253.9,1707.0 L255.4,1707.0 L256.9,1707.0 L258.4,1707.0 L259.9,1707.0 L261.4,1707.0 L262.9,1707.0 L264.4,1707.0 L265.9,1707.0 L267.4,1707.0 L268.9,1707.0 L270.4,1707.0 L271.9,1707.0 L273.4,1707.0 L274.9,1707.0 L276.4,1707.0 L277.9,1707.0 L279.4,1707.0 L280.9,1707.0 L282.4,1707.0 L283.9,1707.0 L285.4,1707.0 L286.9,1707.0 L288.4,1707.0 L289.9,1707.0 L291.4,1707.0 L292.9,1707.0 L294.4,1707.0 L295.9,1707.0 L297.4,1707.0 L298.9,1707.0 L300.4,1707.0 L301.9,1707.0 L303.4,1707.0 L304.9,1707.0 L306.4,1707.0 L307.9,1707.0 L309.4,1707.0 L310.9,1707.0 L312.4,1707.0 L313.9,1707.0 L315.4,1707.0 L316.9,1707.0 L318.4,1707.0 L319.9,1707.0 L321.4,1707.0 L322.9,1707.0 L324.4,1707.0 L325.9,1707.0 L327.4,1707.0 L328.9,1707.0 L330.4,1707.0 L331.9,1707.0 L333.4,1707.0 L334.9,1707.0 L336.4,1707.0 L337.9,1707.0 L339.4,1707.0 L340.9,1707.0 L342.4,1707.0 L343.9,1707.0 L345.4,1707.0 L346.9,1707.0 L348.4,1707.0 L349.9,1707.0 L351.4,1707.0 L352.9,1707.0 L354.4,1706.9 L355.9,1706.9 L357.4,1706.9 L358.9,1706.9 L360.4,1706.9 L361.9,1706.9 L363.4,1706.9 L364.9,1706.9 L366.4,1706.9 L367.9,1706.8 L369.4,1706.8 L370.9,1706.8 L372.4,1706.8 L373.9,1706.8 L375.4,1706.7 L376.9,1706.7 L378.4,1706.7 L379.9,1706.6 L381.4,1706.6 L382.9,1706.5 L384.4,1706.5 L385.9,1706.4 L387.4,1706.4 L388.9,1706.3 L390.4,1706.3 L391.9,1706.2 L393.4,1706.1 L394.9,1706.0 L396.4,1705.9 L397.9,1705.8 L399.4,1705.7 L400.9,1705.6 L402.4,1705.4 L403.9,1705.3 L405.4,1705.1 L406.9,1704.9 L408.4,1704.7 L409.9,1704.5 L411.4,1704.3 L412.9,1704.1 L414.4,1703.8 L415.9,1703.6 L417.4,1703.3 L418.9,1703.0 L420.4,1702.7 L421.9,1702.3 L423.4,1701.9 L424.9,1701.5 L426.4,1701.1 L427.9,1700.7 L429.4,1700.2 L430.9,1699.7 L432.4,1699.2 L433.9,1698.6 L435.4,1698.0 L436.9,1697.4 L438.4,1696.7 L439.9,1696.1 L441.4,1695.3 L442.9,1694.6 L444.4,1693.8 L445.9,1693.0 L447.4,1692.1 L448.9,1691.2 L450.4,1690.2 L451.9,1689.3 L453.4,1688.2 L454.9,1687.2 L456.4,1686.1 L457.9,1684.9 L459.4,1683.8 L460.9,1682.6 L462.4,1681.3 L463.9,1680.0 L465.4,1678.7 L466.9,1677.4 L468.4,1676.0 L469.9,1674.5 L471.4,1673.1 L472.9,1671.6 L474.4,1670.1 L475.9,1668.6 L477.4,1667.0 L478.9,1665.5 L480.4,1663.9 L481.9,1662.3 L483.4,1660.6 L484.9,1659.0 L486.4,1657.4 L487.9,1655.7 L489.4,1654.1 L490.9,1652.5 L492.4,1650.8 L493.9,1649.2 L495.4,1647.6 L496.9,1646.0 L498.4,1644.5 L499.9,1642.9 L501.4,1641.4 L502.9,1639.9 L504.4,1638.5 L505.9,1637.1 L507.4,1635.7 L508.9,1634.4 L510.4,1633.1 L511.9,1631.9 L513.4,1630.8 L514.9,1629.7 L516.4,1628.7 L517.9,1627.7 L519.4,1626.8 L520.9,1626.0 L522.4,1625.2 L523.9,1624.6 L525.4,1624.0 L526.9,1623.5 L528.4,1623.1 L529.9,1622.7 L531.4,1622.5 L532.9,1622.3 L534.4,1622.2 L535.9,1622.2 L537.4,1622.3 L538.9,1622.5 L540.4,1622.7 L541.9,1623.1 L543.4,1623.5 L544.9,1624.0 L546.4,1624.6 L547.9,1625.3 L549.4,1626.0 L550.9,1626.9 L552.4,1627.8 L553.9,1628.7 L555.4,1629.7 L556.9,1630.8 L558.4,1632.0 L559.9,1633.2 L561.4,1634.5 L562.9,1635.8 L564.4,1637.2 L565.9,1638.6 L567.4,1640.0 L568.9,1641.5 L570.4,1643.0 L571.9,1644.6 L573.4,1646.1 L574.9,1647.7 L576.4,1649.3 L577.9,1650.9 L579.4,1652.6 L580.9,1654.2 L582.4,1655.9 L583.9,1657.5 L585.4,1659.1 L586.9,1660.8 L588.4,1662.4 L589.9,1664.0 L591.4,1665.6 L592.9,1667.1 L594.4,1668.7 L595.9,1670.2 L597.4,1671.7 L598.9,1673.2 L600.4,1674.6 L601.9,1676.1 L603.4,1677.4 L604.9,1678.8 L606.4,1680.1 L607.9,1681.4 L609.4,1682.6 L610.9,1683.8 L612.4,1685.0 L613.9,1686.1 L615.4,1687.2 L616.9,1688.3 L618.4,1689.3 L619.9,1690.3 L621.4,1691.2 L622.9,1692.1 L624.4,1693.0 L625.9,1693.8 L627.4,1694.6 L628.9,1695.4 L630.4,1696.1 L631.9,1696.8 L633.4,1697.4 L634.9,1698.1 L636.4,1698.7 L637.9,1699.2 L639.4,1699.7 L640.9,1700.2 L642.4,1700.7 L643.9,1701.2 L645.4,1701.6 L646.9,1702.0 L648.4,1702.3 L649.9,1702.7 L651.4,1703.0 L652.9,1703.3 L654.4,1703.6 L655.9,1703.9 L657.4,1704.1 L658.9,1704.3 L660.4,1704.6 L661.9,1704.8 L663.4,1704.9 L664.9,1705.1 L666.4,1705.3 L667.9,1705.4 L669.4,1705.6 L670.9,1705.7 L672.4,1705.8 L673.9,1705.9 L675.4,1706.0 L676.9,1706.1 L678.4,1706.2 L679.9,1706.3 L681.4,1706.3 L682.9,1706.4 L684.4,1706.4 L685.9,1706.5 L687.4,1706.6 L688.9,1706.6 L690.4,1706.6 L691.9,1706.7 L693.4,1706.7 L694.9,1706.7 L696.4,1706.8 L697.9,1706.8 L699.4,1706.8 L700.9,1706.8 L702.4,1706.8 L703.9,1706.9 L705.4,1706.9 L706.9,1706.9 L708.4,1706.9 L709.9,1706.9 L711.4,1706.9 L712.9,1706.9 L714.4,1706.9 L715.9,1706.9 L717.4,1707.0 L718.9,1707.0 L720.4,1707.0 L721.9,1707.0 L723.4,1707.0 L724.9,1707.0 L726.4,1707.0 L727.9,1707.0 L729.4,1707.0 L730.9,1707.0 L732.4,1707.0 L733.9,1707.0 L735.4,1707.0 L736.9,1707.0 L738.4,1707.0 L739.9,1707.0 L741.4,1707.0 L742.9,1707.0 L744.4,1707.0 L745.9,1707.0 L747.4,1707.0 L748.9,1707.0 L750.4,1707.0 L751.9,1707.0 L753.4,1707.0 L754.9,1707.0 L756.4,1707.0 L757.9,1707.0 L759.4,1707.0 L760.9,1707.0 L762.4,1707.0 L763.9,1707.0 L765.4,1707.0 L766.9,1707.0 L768.4,1707.0 L769.9,1707.0 L771.4,1707.0 L772.9,1707.0 L774.4,1707.0 L775.9,1707.0 L777.4,1707.0 L778.9,1707.0 L780.4,1707.0 L781.9,1707.0 L783.4,1707.0 L784.9,1707.0 L786.4,1707.0 L787.9,1707.0 L789.4,1707.0 L790.9,1707.0 L792.4,1707.0 L793.9,1707.0 L795.4,1707.0 L796.9,1707.0 L798.4,1707.0 L799.9,1707.0 L801.4,1707.0 L802.9,1707.0 L804.4,1707.0 L805.9,1707.0 L807.4,1707.0 L808.9,1707.0 L810.4,1707.0 L811.9,1707.0 L813.4,1707.0 L814.9,1707.0 L816.4,1707.0 L817.9,1707.0 L819.4,1707.0 L820.9,1707.0 L822.4,1707.0 L823.9,1707.0 L825.4,1707.0 L826.9,1707.0 L828.4,1707.0 L829.9,1707.0 L831.4,1707.0 L832.9,1707.0 L834.4,1707.0 L835.9,1707.0 L837.4,1707.0 L838.9,1707.0 L840.4,1707.0 L841.9,1707.0 L843.4,1707.0 L844.9,1707.0 L846.4,1707.0 L847.9,1707.0 L849.4,1707.0 L850.9,1707.0 L852.4,1707.0 L853.9,1707.0 L855.4,1707.0 L856.9,1707.0 L858.4,1707.0 L859.9,1707.0 L861.4,1707.0 L862.9,1707.0 L864.4,1707.0 L865.9,1707.0 L867.4,1707.0 L868.9,1707.0 L870.4,1707.0 L871.9,1707.0 L873.4,1707.0 L874.9,1707.0 L876.4,1707.0 L877.9,1707.0 L879.4,1707.0 L880.9,1707.0 L882.4,1707.0 L883.9,1707.0 L885.4,1707.0 L886.9,1707.0 L888.4,1707.0 L889.9,1707.0 L891.4,1707.0 L892.9,1707.0 L894.4,1707.0 L895.9,1707.0 L897.4,1707.0 L898.9,1707.0 L900.4,1707.0 L901.9,1707.0 L903.4,1707.0 L904.9,1707.0 L906.4,1707.0 L907.9,1707.0 L909.4,1707.0 L910.9,1707.0 L912.4,1707.0 L913.9,1707.0 L915.4,1707.0 L916.9,1707.0 L918.4,1707.0 L919.9,1707.0 L921.4,1707.0 L922.9,1707.0 L924.4,1707.0 L925.9,1707.0 L927.4,1707.0 L928.9,1707.0 L930.4,1707.0 L931.9,1707.0 L933.4,1707.0 L934.9,1707.0 L936.4,1707.0 L937.9,1707.0 L939.4,1707.0 L940.9,1707.0 L942.4,1707.0 L943.9,1707.0 L945.4,1707.0 L946.9,1707.0 L948.4,1707.0 L949.9,1707.0 L951.4,1707.0 L952.9,1707.0 L954.4,1707.0 L955.9,1707.0 L957.4,1707.0 L958.9,1707.0 L960.4,1707.0 L961.9,1707.0 L963.4,1707.0 L964.9,1707.0 L966.4,1707.0 L967.9,1707.0 L969.4,1707.0 L970.9,1707.0 L972.4,1707.0 L973.9,1707.0 L975.4,1707.0 L976.9,1707.0 L978.4,1707.0 L979.9,1707.0 L981.4,1707.0 L982.9,1707.0 L984.4,1707.0 L985.9,1707.0 L987.4,1707.0 L988.9,1707.0 L990.4,1707.0 L991.9,1707.0 L993.4,1707.0 L994.9,1707.0 L996.4,1707.0 L997.9,1707.0 L999.4,1707.0 L1000.9,1707.0 L1002.4,1707.0 L1003.9,1707.0 L1005.4,1707.0 L1006.9,1707.0 L1008.4,1707.0 L1009.9,1707.0 L1011.4,1707.0 L1012.9,1707.0 L1014.4,1707.0 L1015.9,1707.0 L1017.4,1707.0 L1018.9,1707.0 L1020.4,1707.0 L1021.9,1707.0 L1023.4,1707.0 L1024.9,1707.0 L1026.4,1707.0 L1027.9,1707.0 L1029.4,1707.0 L1030.9,1707.0 L1032.4,1707.0 L1033.9,1707.0 L1035.4,1707.0 L1036.9,1707.0 L1038.4,1707.0 L1039.9,1707.0 L1041.4,1707.0 L1042.9,1707.0 L1044.4,1707.0 L1045.9,1707.0 L1047.4,1707.0 L1048.9,1707.0 L1050.4,1707.0 L1051.9,1707.0" stroke="#ff00ff" stroke-width="5.5" stroke-dasharray="7 25"/>
<path d="M94.9,1707.0 L96.4,1707.0 L97.9,1707.0 L99.4,1707.0 L100.9,1707.0 L102.4,1707.0 L103.9,1707.0 L105.4,1707.0 L106.9,1707.0 L108.4,1707.0 L109.9,1707.0 L111.4,1707.0 L112.9,1707.0 L114.4,1707.0 L115.9,1707.0 L117.4,1707.0 L118.9,1707.0 L120.4,1707.0 L121.9,1707.0 L123.4,1707.0 L124.9,1707.0 L126.4,1707.0 L127.9,1707.0 L129.4,1707.0 L130.9,1707.0 L132.4,1707.0 L133.9,1707.0 L135.4,1707.0 L136.9,1707.0 L138.4,1707.0 L139.9,1707.0 L141.4,1707.0 L142.9,1707.0 L144.4,1707.0 L145.9,1707.0 L147.4,1707.0 L148.9,1707.0 L150.4,1707.0 L151.9,1707.0 L153.4,1707.0 L154.9,1707.0 L156.4,1707.0 L157.9,1707.0 L159.4,1707.0 L160.9,1707.0 L162.4,1707.0 L163.9,1707.0 L165.4,1707.0 L166.9,1707.0 L168.4,1707.0 L169.9,1707.0 L171.4,1707.0 L172.9,1707.0 L174.4,1707.0 L175.9,1707.0 L177.4,1707.0 L178.9,1707.0 L180.4,1707.0 L181.9,1707.0 L183.4,1707.0 L184.9,1707.0 L186.4,1707.0 L187.9,1707.0 L189.4,1707.0 L190.9,1707.0 L192.4,1707.0 L193.9,1707.0 L195.4,1707.0 L196.9,1707.0 L198.4,1707.0 L199.9,1707.0 L201.4,1707.0 L202.9,1707.0 L204.4,1707.0 L205.9,1707.0 L207.4,1707.0 L208.9,1707.0 L210.4,1707.0 L211.9,1707.0 L213.4,1707.0 L214.9,1707.0 L216.4,1707.0 L217.9,1707.0 L219.4,1707.0 L220.9,1707.0 L222.4,1707.0 L223.9,1707.0 L225.4,1707.0 L226.9,1707.0 L228.4,1707.0 L229.9,1707.0 L231.4,1707.0 L232.9,1707.0 L234.4,1707.0 L235.9,1707.0 L237.4,1707.0 L238.9,1707.0 L240.4,1707.0 L241.9,1707.0 L243.4,1707.0 L244.9,1707.0 L246.4,1707.0 L247.9,1707.0 L249.4,1707.0 L250.9,1707.0 L252.4,1707.0 L253.9,1707.0 L255.4,1707.0 L256.9,1707.0 L258.4,1707.0 L259.9,1707.0 L261.4,1707.0 L262.9,1707.0 L264.4,1707.0 L265.9,1707.0 L267.4,1707.0 L268.9,1707.0 L270.4,1707.0 L271.9,1707.0 L273.4,1707.0 L274.9,1707.0 L276.4,1707.0 L277.9,1707.0 L279.4,1707.0 L280.9,1707.0 L282.4,1707.0 L283.9,1707.0 L285.4,1707.0 L286.9,1707.0 L288.4,1707.0 L289.9,1707.0 L291.4,1707.0 L292.9,1707.0 L294.4,1707.0 L295.9,1707.0 L297.4,1707.0 L298.9,1707.0 L300.4,1707.0 L301.9,1707.0 L303.4,1707.0 L304.9,1707.0 L306.4,1707.0 L307.9,1707.0 L309.4,1707.0 L310.9,1707.0 L312.4,1707.0 L313.9,1707.0 L315.4,1707.0 L316.9,1706.9 L318.4,1706.9 L319.9,1706.9 L321.4,1706.9 L322.9,1706.9 L324.4,1706.9 L325.9,1706.9 L327.4,1706.9 L328.9,1706.9 L330.4,1706.9 L331.9,1706.9 L333.4,1706.9 L334.9,1706.9 L336.4,1706.9 L337.9,1706.9 L339.4,1706.9 L340.9,1706.8 L342.4,1706.8 L343.9,1706.8 L345.4,1706.8 L346.9,1706.8 L348.4,1706.8 L349.9,1706.8 L351.4,1706.7 L352.9,1706.7 L354.4,1706.7 L355.9,1706.7 L357.4,1706.7 L358.9,1706.7 L360.4,1706.6 L361.9,1706.6 L363.4,1706.6 L364.9,1706.6 L366.4,1706.5 L367.9,1706.5 L369.4,1706.5 L370.9,1706.4 L372.4,1706.4 L373.9,1706.3 L375.4,1706.3 L376.9,1706.3 L378.4,1706.2 L379.9,1706.2 L381.4,1706.1 L382.9,1706.1 L384.4,1706.0 L385.9,1705.9 L387.4,1705.9 L388.9,1705.8 L390.4,1705.7 L391.9,1705.7 L393.4,1705.6 L394.9,1705.5 L396.4,1705.4 L397.9,1705.3 L399.4,1705.2 L400.9,1705.1 L402.4,1705.0 L403.9,1704.9 L405.4,1704.8 L406.9,1704.6 L408.4,1704.5 L409.9,1704.4 L411.4,1704.2 L412.9,1704.1 L414.4,1703.9 L415.9,1703.7 L417.4,1703.5 L418.9,1703.4 L420.4,1703.2 L421.9,1703.0 L423.4,1702.7 L424.9,1702.5 L426.4,1702.3 L427.9,1702.0 L429.4,1701.7 L430.9,1701.5 L432.4,1701.2 L433.9,1700.9 L435.4,1700.6 L436.9,1700.2 L438.4,1699.9 L439.9,1699.5 L441.4,1699.1 L442.9,1698.8 L444.4,1698.3 L445.9,1697.9 L447.4,1697.5 L448.9,1697.0 L450.4,1696.5 L451.9,1696.0 L453.4,1695.5 L454.9,1694.9 L456.4,1694.3 L457.9,1693.7 L459.4,1693.1 L460.9,1692.4 L462.4,1691.8 L463.9,1691.1 L465.4,1690.3 L466.9,1689.6 L468.4,1688.8 L469.9,1687.9 L471.4,1687.1 L472.9,1686.2 L474.4,1685.3 L475.9,1684.3 L477.4,1683.3 L478.9,1682.3 L480.4,1681.2 L481.9,1680.1 L483.4,1679.0 L484.9,1677.8 L486.4,1676.6 L487.9,1675.3 L489.4,1674.0 L490.9,1672.6 L492.4,1671.2 L493.9,1669.7 L495.4,1668.2 L496.9,1666.7 L498.4,1665.1 L499.9,1663.4 L501.4,1661.7 L502.9,1659.9 L504.4,1658.1 L505.9,1656.2 L507.4,1654.3 L508.9,1652.3 L510.4,1650.2 L511.9,1648.1 L513.4,1645.9 L514.9,1643.7 L516.4,1641.4 L517.9,1639.0 L519.4,1636.6 L520.9,1634.1 L522.4,1631.5 L523.9,1628.8 L525.4,1626.1 L526.9,1623.3 L528.4,1620.5 L529.9,1617.5 L531.4,1614.5 L532.9,1611.4 L534.4,1608.3 L535.9,1605.0 L537.4,1601.7 L538.9,1598.3 L540.4,1594.8 L541.9,1591.3 L543.4,1587.7 L544.9,1583.9 L546.4,1580.1 L547.9,1576.3 L549.4,1572.3 L550.9,1568.3 L552.4,1564.1 L553.9,1559.9 L555.4,1555.6 L556.9,1551.2 L558.4,1546.8 L559.9,1542.2 L561.4,1537.6 L562.9,1532.9 L564.4,1528.1 L565.9,1523.2 L567.4,1518.3 L568.9,1513.3 L570.4,1508.1 L571.9,1502.9 L573.4,1497.7 L574.9,1492.3 L576.4,1486.9 L577.9,1481.4 L579.4,1475.8 L580.9,1470.2 L582.4,1464.4 L583.9,1458.6 L585.4,1452.8 L586.9,1446.8 L588.4,1440.8 L589.9,1434.8 L591.4,1428.6 L592.9,1422.4 L594.4,1416.2 L595.9,1409.9 L597.4,1403.5 L598.9,1397.1 L600.4,1390.6 L601.9,1384.1 L603.4,1377.6 L604.9,1371.0 L606.4,1364.3 L607.9,1357.7 L609.4,1351.0 L610.9,1344.2 L612.4,1337.5 L613.9,1330.7 L615.4,1323.9 L616.9,1317.0 L618.4,1310.2 L619.9,1303.4 L621.4,1296.5 L622.9,1289.6 L624.4,1282.8 L625.9,1275.9 L627.4,1269.1 L628.9,1262.2 L630.4,1255.4 L631.9,1248.6 L633.4,1241.8 L634.9,1235.1 L636.4,1228.4 L637.9,1221.7 L639.4,1215.0 L640.9,1208.4 L642.4,1201.9 L643.9,1195.4 L645.4,1189.0 L646.9,1182.6 L648.4,1176.3 L649.9,1170.0 L651.4,1163.8 L652.9,1157.7 L654.4,1151.7 L655.9,1145.8 L657.4,1140.0 L658.9,1134.2 L660.4,1128.6 L661.9,1123.1 L663.4,1117.6 L664.9,1112.3 L666.4,1107.1 L667.9,1102.0 L669.4,1097.1 L670.9,1092.2 L672.4,1087.5 L673.9,1082.9 L675.4,1078.5 L676.9,1074.2 L678.4,1070.0 L679.9,1066.0 L681.4,1062.2 L682.9,1058.4 L684.4,1054.9 L685.9,1051.5 L687.4,1048.3 L688.9,1045.2 L690.4,1042.3 L691.9,1039.5 L693.4,1037.0 L694.9,1034.6 L696.4,1032.4 L697.9,1030.3 L699.4,1028.5 L700.9,1026.8 L702.4,1025.3 L703.9,1023.9 L705.4,1022.8 L706.9,1021.8 L708.4,1021.1 L709.9,1020.5 L711.4,1020.1 L712.9,1019.9 L714.4,1019.8 L715.9,1020.0 L717.4,1020.3 L718.9,1020.8 L720.4,1021.6 L721.9,1022.5 L723.4,1023.5 L724.9,1024.8 L726.4,1026.3 L727.9,1027.9 L729.4,1029.7 L730.9,1031.7 L732.4,1033.8 L733.9,1036.2 L735.4,1038.7 L736.9,1041.4 L738.4,1044.2 L739.9,1047.2 L741.4,1050.4 L742.9,1053.8 L744.4,1057.3 L745.9,1060.9 L747.4,1064.7 L748.9,1068.7 L750.4,1072.8 L751.9,1077.1 L753.4,1081.5 L754.9,1086.0 L756.4,1090.7 L757.9,1095.5 L759.4,1100.4 L760.9,1105.4 L762.4,1110.6 L763.9,1115.9 L765.4,1121.3 L766.9,1126.8 L768.4,1132.4 L769.9,1138.1 L771.4,1143.9 L772.9,1149.8 L774.4,1155.8 L775.9,1161.8 L777.4,1168.0 L778.9,1174.2 L780.4,1180.5 L781.9,1186.9 L783.4,1193.3 L784.9,1199.8 L786.4,1206.3 L787.9,1212.9 L789.4,1219.5 L790.9,1226.2 L792.4,1232.9 L793.9,1239.6 L795.4,1246.4 L796.9,1253.2 L798.4,1260.0 L799.9,1266.8 L801.4,1273.7 L802.9,1280.5 L804.4,1287.4 L805.9,1294.3 L807.4,1301.1 L808.9,1308.0 L810.4,1314.8 L811.9,1321.6 L813.4,1328.5 L814.9,1335.3 L816.4,1342.0 L817.9,1348.8 L819.4,1355.5 L820.9,1362.2 L822.4,1368.8 L823.9,1375.4 L825.4,1382.0 L826.9,1388.5 L828.4,1395.0 L829.9,1401.4 L831.4,1407.8 L832.9,1414.1 L834.4,1420.4 L835.9,1426.6 L837.4,1432.8 L838.9,1438.8 L840.4,1444.9 L841.9,1450.8 L843.4,1456.7 L844.9,1462.5 L846.4,1468.3 L847.9,1474.0 L849.4,1479.6 L850.9,1485.1 L852.4,1490.6 L853.9,1495.9 L855.4,1501.2 L856.9,1506.5 L858.4,1511.6 L859.9,1516.7 L861.4,1521.6 L862.9,1526.5 L864.4,1531.4 L865.9,1536.1 L867.4,1540.7 L868.9,1545.3 L870.4,1549.8 L871.9,1554.2 L873.4,1558.5 L874.9,1562.8 L876.4,1566.9 L877.9,1571.0 L879.4,1575.0 L880.9,1578.9 L882.4,1582.7 L883.9,1586.4 L885.4,1590.1 L886.9,1593.7 L888.4,1597.2 L889.9,1600.6 L891.4,1604.0 L892.9,1607.2 L894.4,1610.4 L895.9,1613.5 L897.4,1616.6 L898.9,1619.5 L900.4,1622.4 L901.9,1625.2 L903.4,1628.0 L904.9,1630.6 L906.4,1633.2 L907.9,1635.8 L909.4,1638.2 L910.9,1640.6 L912.4,1643.0 L913.9,1645.2 L915.4,1647.4 L916.9,1649.6 L918.4,1651.6 L919.9,1653.6 L921.4,1655.6 L922.9,1657.5 L924.4,1659.3 L925.9,1661.1 L927.4,1662.9 L928.9,1664.5 L930.4,1666.2 L931.9,1667.7 L933.4,1669.3 L934.9,1670.7 L936.4,1672.1 L937.9,1673.5 L939.4,1674.9 L940.9,1676.1 L942.4,1677.4 L943.9,1678.6 L945.4,1679.8 L946.9,1680.9 L948.4,1682.0 L949.9,1683.0 L951.4,1684.0 L952.9,1685.0 L954.4,1685.9 L955.9,1686.8 L957.4,1687.7 L958.9,1688.5 L960.4,1689.3 L961.9,1690.1 L963.4,1690.8 L964.9,1691.5 L966.4,1692.2 L967.9,1692.9 L969.4,1693.5 L970.9,1694.1 L972.4,1694.7 L973.9,1695.3 L975.4,1695.8 L976.9,1696.3 L978.4,1696.8 L979.9,1697.3 L981.4,1697.8 L982.9,1698.2 L984.4,1698.6 L985.9,1699.0 L987.4,1699.4 L988.9,1699.8 L990.4,1700.1 L991.9,1700.5 L993.4,1700.8 L994.9,1701.1 L996.4,1701.4 L997.9,1701.7 L999.4,1701.9 L1000.9,1702.2 L1002.4,1702.4 L1003.9,1702.7 L1005.4,1702.9 L1006.9,1703.1 L1008.4,1703.3 L1009.9,1703.5 L1011.4,1703.7 L1012.9,1703.8 L1014.4,1704.0 L1015.9,1704.2 L1017.4,1704.3 L1018.9,1704.5 L1020.4,1704.6 L1021.9,1704.7 L1023.4,1704.9 L1024.9,1705.0 L1026.4,1705.1 L1027.9,1705.2 L1029.4,1705.3 L1030.9,1705.4 L1032.4,1705.5 L1033.9,1705.6 L1035.4,1705.6 L1036.9,1705.7 L1038.4,1705.8 L1039.9,1705.9 L1041.4,1705.9 L1042.9,1706.0 L1044.4,1706.0 L1045.9,1706.1 L1047.4,1706.2 L1048.9,1706.2 L1050.4,1706.2 L1051.9,1706.3" stroke="#ff00ff" stroke-width="5.5" stroke-dasharray="7 25"/>
</g>
<line x1="280.8" y1="1706.0" x2="280.8" y2="1693.0" stroke="#000" stroke-width="5"/>
<line x1="476.8" y1="1706.0" x2="476.8" y2="1693.0" stroke="#000" stroke-width="5"/>
<line x1="670.6" y1="1706.0" x2="670.6" y2="1693.0" stroke="#000" stroke-width="5"/>
<line x1="867.0" y1="1706.0" x2="867.0" y2="1693.0" stroke="#000" stroke-width="5"/>
<line x1="110.3" y1="1006.2" x2="196.9" y2="1006.2" stroke="#ff0000" stroke-width="5"/>
<line x1="110.3" y1="1056.6" x2="196.9" y2="1056.6" stroke="#000" stroke-width="5" stroke-dasharray="21 16"/>
<line x1="110.3" y1="1107.2" x2="196.9" y2="1107.2" stroke="#ff00ff" stroke-width="5" stroke-dasharray="8 23.5"/>
<text transform="translate(222.88,1019.50) scale(1.0608,1)" font-size="38.5" font-weight="bold">peak</text>
<text transform="translate(222.82,1069.00) scale(1.0524,1)" font-size="38.5" font-weight="bold">cumulative fitted peak</text>
<text transform="translate(222.60,1119.90) scale(1.0584,1)" font-size="38.5" font-weight="bold">fitted peak</text>
<text transform="translate(112.63,1186.80) scale(1.0642,1)" font-size="48.1" font-weight="bold">PBD</text>
<text transform="translate(217.58,1193.80) scale(0.9619,1)" font-size="34.4" font-weight="normal">60%</text>
<text transform="translate(282.04,1186.80) scale(1.0483,1)" font-size="48.1" font-weight="bold">PU</text>
<text transform="translate(351.23,1193.80) scale(1.0015,1)" font-size="34.4" font-weight="normal">40%</text>
<text transform="translate(243.79,1754.20) scale(0.9100,1)" font-size="40.0" font-weight="normal">1640</text>
<text transform="translate(438.99,1754.20) scale(0.9100,1)" font-size="40.0" font-weight="normal">1680</text>
<text transform="translate(632.99,1754.20) scale(0.9100,1)" font-size="40.0" font-weight="normal">1720</text>
<text transform="translate(827.44,1754.20) scale(0.9100,1)" font-size="40.0" font-weight="normal">1760</text>
<text transform="translate(393.68,1793.20) scale(1.0449,1)" font-size="38.5" font-weight="bold">wavenumber</text>
<text transform="translate(617.87,1793.20) scale(1.1428,1)" font-size="38.5" font-weight="normal">(</text>
<text transform="translate(632.39,1793.20) scale(0.9940,1)" font-size="38.5" font-weight="bold">cm</text>
<text transform="translate(683.64,1776.90) scale(1.0481,1)" font-size="26.0" font-weight="normal">&#8722;1</text>
<text transform="translate(719.08,1793.20) scale(1.2237,1)" font-size="38.5" font-weight="normal">)</text>
<text transform="translate(61.00,1447.58) rotate(-90) scale(1.0317,1)" font-size="38.5" font-weight="bold">absorbance</text>
<text transform="translate(61.00,1251.80) rotate(-90) scale(1.1832,1)" font-size="38.5" font-weight="normal">(</text>
<text transform="translate(61.00,1236.36) rotate(-90) scale(1.0144,1)" font-size="38.5" font-weight="bold">a.u.</text>
<text transform="translate(61.00,1175.58) rotate(-90) scale(1.2742,1)" font-size="38.5" font-weight="normal">)</text>
<rect x="1133.7" y="931.5" width="960.6" height="779.9" fill="none" stroke="#000" stroke-width="5.0"/>
<clipPath id="c4"><rect x="1136.2" y="932.0" width="955.6" height="779.4"/></clipPath>
<g clip-path="url(#c4)" fill="none" stroke-linejoin="round">
<path d="M1136.2,1357.8 L1138.2,1355.9 L1140.2,1353.8 L1142.2,1351.4 L1144.2,1348.9 L1146.2,1346.3 L1148.2,1343.5 L1150.2,1340.3 L1152.2,1336.6 L1154.2,1332.5 L1156.2,1328.3 L1158.2,1323.9 L1160.2,1319.5 L1162.2,1315.3 L1164.2,1311.3 L1166.2,1307.3 L1168.2,1303.3 L1170.2,1299.3 L1172.2,1295.3 L1174.2,1291.3 L1176.2,1287.3 L1178.2,1283.3 L1180.2,1279.2 L1182.2,1275.0 L1184.2,1270.8 L1186.2,1266.7 L1188.2,1262.7 L1190.2,1258.8 L1192.2,1255.2 L1194.2,1251.8 L1196.2,1248.6 L1198.2,1245.5 L1200.2,1242.5 L1202.2,1239.6 L1204.2,1236.7 L1206.2,1233.9 L1208.2,1231.1 L1210.2,1228.1 L1212.2,1225.0 L1214.2,1222.0 L1216.2,1219.1 L1218.2,1216.5 L1220.2,1214.4 L1222.2,1212.9 L1224.2,1211.8 L1226.2,1210.8 L1228.2,1209.9 L1230.2,1209.0 L1232.2,1208.3 L1234.2,1207.7 L1236.2,1207.2 L1238.2,1206.9 L1240.2,1206.8 L1242.2,1206.8 L1244.2,1206.9 L1246.2,1207.1 L1248.2,1207.3 L1250.2,1207.6 L1252.2,1207.8 L1254.2,1208.2 L1256.2,1208.5 L1258.2,1209.1 L1260.2,1209.8 L1262.2,1210.8 L1264.2,1211.8 L1266.2,1213.0 L1268.2,1214.2 L1270.2,1215.4 L1272.2,1216.7 L1274.2,1218.0 L1276.2,1219.4 L1278.2,1220.9 L1280.2,1222.5 L1282.2,1224.2 L1284.2,1225.9 L1286.2,1227.7 L1288.2,1229.6 L1290.2,1231.4 L1292.2,1233.3 L1294.2,1235.3 L1296.2,1237.3 L1298.2,1239.3 L1300.2,1241.5 L1302.2,1243.7 L1304.2,1245.9 L1306.2,1248.3 L1308.2,1250.7 L1310.2,1253.3 L1312.2,1256.0 L1314.2,1258.8 L1316.2,1261.8 L1318.2,1264.8 L1320.2,1267.9 L1322.2,1271.1 L1324.2,1274.4 L1326.2,1277.6 L1328.2,1281.0 L1330.2,1284.4 L1332.2,1287.9 L1334.2,1291.5 L1336.2,1295.2 L1338.2,1298.9 L1340.2,1302.7 L1342.2,1306.6 L1344.2,1310.5 L1346.2,1314.6 L1348.2,1318.8 L1350.2,1323.2 L1352.2,1327.6 L1354.2,1332.1 L1356.2,1336.6 L1358.2,1341.0 L1360.2,1345.3 L1362.2,1349.4 L1364.2,1353.3 L1366.2,1357.1 L1368.2,1360.8 L1370.2,1364.5 L1372.2,1368.0 L1374.2,1371.6 L1376.2,1375.2 L1378.2,1378.8 L1380.2,1382.4 L1382.2,1386.1 L1384.2,1390.0 L1386.2,1393.8 L1388.2,1397.7 L1390.2,1401.6 L1392.2,1405.3 L1394.2,1408.9 L1396.2,1412.3 L1398.2,1415.6 L1400.2,1418.6 L1402.2,1421.5 L1404.2,1424.3 L1406.2,1427.1 L1408.2,1429.7 L1410.2,1432.3 L1412.2,1434.7 L1414.2,1437.1 L1416.2,1439.4 L1418.2,1441.7 L1420.2,1443.9 L1422.2,1446.0 L1424.2,1448.0 L1426.2,1450.0 L1428.2,1452.0 L1430.2,1453.8 L1432.2,1455.6 L1434.2,1457.4 L1436.2,1459.0 L1438.2,1460.7 L1440.2,1462.3 L1442.2,1463.9 L1444.2,1465.4 L1446.2,1466.8 L1448.2,1468.2 L1450.2,1469.5 L1452.2,1470.7 L1454.2,1471.9 L1456.2,1472.9 L1458.2,1473.9 L1460.2,1474.9 L1462.2,1475.8 L1464.2,1476.7 L1466.2,1477.7 L1468.2,1478.7 L1470.2,1479.7 L1472.2,1480.8 L1474.2,1481.9 L1476.2,1483.1 L1478.2,1484.2 L1480.2,1485.4 L1482.2,1486.6 L1484.2,1487.8 L1486.2,1489.0 L1488.2,1490.2 L1490.2,1491.5 L1492.2,1492.8 L1494.2,1494.2 L1496.2,1495.5 L1498.2,1496.9 L1500.2,1498.3 L1502.2,1499.6 L1504.2,1501.0 L1506.2,1502.3 L1508.2,1503.7 L1510.2,1505.1 L1512.2,1506.5 L1514.2,1507.9 L1516.2,1509.3 L1518.2,1510.6 L1520.2,1511.9 L1522.2,1513.1 L1524.2,1514.2 L1526.2,1515.4 L1528.2,1516.7 L1530.2,1517.9 L1532.2,1519.1 L1534.2,1520.1 L1536.2,1521.0 L1538.2,1521.6 L1540.2,1522.0 L1542.2,1522.0 L1544.2,1522.0 L1546.2,1521.9 L1548.2,1521.8 L1550.2,1521.6 L1552.2,1521.5 L1554.2,1521.3 L1556.2,1521.1 L1558.2,1520.5 L1560.2,1519.5 L1562.2,1518.1 L1564.2,1516.5 L1566.2,1514.7 L1568.2,1512.9 L1570.2,1511.2 L1572.2,1509.7 L1574.2,1508.2 L1576.2,1506.6 L1578.2,1505.1 L1580.2,1503.4 L1582.2,1501.8 L1584.2,1500.0 L1586.2,1498.3 L1588.2,1496.4 L1590.2,1494.4 L1592.2,1492.4 L1594.2,1490.2 L1596.2,1488.0 L1598.2,1485.7 L1600.2,1483.3 L1602.2,1480.8 L1604.2,1478.2 L1606.2,1475.6 L1608.2,1472.8 L1610.2,1469.8 L1612.2,1466.7 L1614.2,1463.5 L1616.2,1460.1 L1618.2,1456.7 L1620.2,1453.4 L1622.2,1450.0 L1624.2,1446.8 L1626.2,1443.5 L1628.2,1440.3 L1630.2,1437.0 L1632.2,1433.7 L1634.2,1430.4 L1636.2,1427.1 L1638.2,1423.7 L1640.2,1420.3 L1642.2,1416.8 L1644.2,1413.3 L1646.2,1409.8 L1648.2,1406.3 L1650.2,1402.7 L1652.2,1399.1 L1654.2,1395.4 L1656.2,1391.7 L1658.2,1387.8 L1660.2,1383.9 L1662.2,1379.8 L1664.2,1375.6 L1666.2,1371.3 L1668.2,1366.9 L1670.2,1362.4 L1672.2,1357.8 L1674.2,1353.2 L1676.2,1348.7 L1678.2,1344.1 L1680.2,1339.5 L1682.2,1334.8 L1684.2,1330.0 L1686.2,1325.1 L1688.2,1320.0 L1690.2,1314.8 L1692.2,1309.5 L1694.2,1304.4 L1696.2,1299.3 L1698.2,1294.1 L1700.2,1288.7 L1702.2,1283.1 L1704.2,1277.2 L1706.2,1271.6 L1708.2,1266.5 L1710.2,1261.8 L1712.2,1257.4 L1714.2,1253.4 L1716.2,1249.8 L1718.2,1246.2 L1720.2,1242.3 L1722.2,1238.0 L1724.2,1233.6 L1726.2,1229.1 L1728.2,1224.4 L1730.2,1219.6 L1732.2,1215.5 L1734.2,1212.2 L1736.2,1209.4 L1738.2,1206.9 L1740.2,1204.5 L1742.2,1202.0 L1744.2,1199.4 L1746.2,1197.2 L1748.2,1195.7 L1750.2,1194.8 L1752.2,1193.9 L1754.2,1193.3 L1756.2,1192.9 L1758.2,1192.8 L1760.2,1193.0 L1762.2,1193.3 L1764.2,1193.8 L1766.2,1194.5 L1768.2,1195.3 L1770.2,1196.8 L1772.2,1199.4 L1774.2,1202.4 L1776.2,1205.7 L1778.2,1209.6 L1780.2,1213.2 L1782.2,1216.3 L1784.2,1219.2 L1786.2,1222.6 L1788.2,1227.1 L1790.2,1232.4 L1792.2,1237.6 L1794.2,1242.7 L1796.2,1247.8 L1798.2,1252.9 L1800.2,1257.8 L1802.2,1262.8 L1804.2,1268.3 L1806.2,1274.1 L1808.2,1280.3 L1810.2,1287.0 L1812.2,1294.1 L1814.2,1301.1 L1816.2,1307.6 L1818.2,1313.9 L1820.2,1320.1 L1822.2,1326.1 L1824.2,1332.0 L1826.2,1337.8 L1828.2,1343.5 L1830.2,1349.4 L1832.2,1355.4 L1834.2,1361.5 L1836.2,1368.0 L1838.2,1374.8 L1840.2,1382.0 L1842.2,1389.6 L1844.2,1397.4 L1846.2,1405.1 L1848.2,1412.7 L1850.2,1420.0 L1852.2,1427.3 L1854.2,1434.4 L1856.2,1441.5 L1858.2,1448.5 L1860.2,1455.3 L1862.2,1461.8 L1864.2,1468.1 L1866.2,1474.2 L1868.2,1480.2 L1870.2,1486.0 L1872.2,1491.9 L1874.2,1497.8 L1876.2,1503.8 L1878.2,1509.9 L1880.2,1516.1 L1882.2,1522.2 L1884.2,1528.2 L1886.2,1534.0 L1888.2,1539.6 L1890.2,1545.2 L1892.2,1550.7 L1894.2,1556.1 L1896.2,1561.4 L1898.2,1566.5 L1900.2,1571.4 L1902.2,1576.2 L1904.2,1580.7 L1906.2,1585.0 L1908.2,1589.2 L1910.2,1593.3 L1912.2,1597.2 L1914.2,1601.0 L1916.2,1604.8 L1918.2,1608.5 L1920.2,1612.1 L1922.2,1615.8 L1924.2,1619.3 L1926.2,1622.9 L1928.2,1626.3 L1930.2,1629.7 L1932.2,1632.9 L1934.2,1636.0 L1936.2,1638.9 L1938.2,1641.7 L1940.2,1644.4 L1942.2,1647.0 L1944.2,1649.6 L1946.2,1652.0 L1948.2,1654.4 L1950.2,1656.7 L1952.2,1658.9 L1954.2,1661.0 L1956.2,1663.0 L1958.2,1664.9 L1960.2,1666.6 L1962.2,1668.4 L1964.2,1670.3 L1966.2,1672.1 L1968.2,1674.0 L1970.2,1675.8 L1972.2,1677.5 L1974.2,1679.0 L1976.2,1680.4 L1978.2,1681.6 L1980.2,1682.5 L1982.2,1683.1 L1984.2,1683.4 L1986.2,1683.4 L1988.2,1683.3 L1990.2,1683.3 L1992.2,1683.2 L1994.2,1683.1 L1996.2,1682.9 L1998.2,1682.8 L2000.2,1682.6 L2002.2,1682.5 L2004.2,1682.3 L2006.2,1682.2 L2008.2,1682.1 L2010.2,1682.0 L2012.2,1681.9 L2014.2,1681.8 L2016.2,1681.8 L2018.2,1681.8 L2020.2,1681.9 L2022.2,1682.0 L2024.2,1682.2 L2026.2,1682.4 L2028.2,1682.7 L2030.2,1683.0 L2032.2,1683.3 L2034.2,1683.7 L2036.2,1684.0 L2038.2,1684.4 L2040.2,1684.8 L2042.2,1685.1 L2044.2,1685.6 L2046.2,1686.2 L2048.2,1686.8 L2050.2,1687.6 L2052.2,1688.4 L2054.2,1689.2 L2056.2,1690.1 L2058.2,1691.0 L2060.2,1691.9 L2062.2,1692.8 L2064.2,1693.7 L2066.2,1694.6 L2068.2,1695.4 L2070.2,1696.1 L2072.2,1696.9 L2074.2,1697.6 L2076.2,1698.4 L2078.2,1699.1 L2080.2,1699.8 L2082.2,1700.5 L2084.2,1701.3 L2086.2,1702.0 L2088.2,1702.7 L2090.2,1703.4" stroke="#ff0000" stroke-width="5"/>
<path d="M1136.2,1358.5 L1137.7,1356.4 L1139.2,1354.2 L1140.7,1352.1 L1142.2,1349.9 L1143.7,1347.7 L1145.2,1345.4 L1146.7,1343.1 L1148.2,1340.7 L1149.7,1338.2 L1151.2,1335.7 L1152.7,1333.1 L1154.2,1330.5 L1155.7,1327.8 L1157.2,1325.0 L1158.7,1322.2 L1160.2,1319.3 L1161.7,1316.4 L1163.2,1313.5 L1164.7,1310.5 L1166.2,1307.5 L1167.7,1304.5 L1169.2,1301.5 L1170.7,1298.5 L1172.2,1295.4 L1173.7,1292.4 L1175.2,1289.4 L1176.7,1286.4 L1178.2,1283.3 L1179.7,1280.3 L1181.2,1277.4 L1182.7,1274.4 L1184.2,1271.5 L1185.7,1268.5 L1187.2,1265.7 L1188.7,1262.8 L1190.2,1260.1 L1191.7,1257.3 L1193.2,1254.6 L1194.7,1252.0 L1196.2,1249.4 L1197.7,1246.8 L1199.2,1244.4 L1200.7,1241.9 L1202.2,1239.6 L1203.7,1237.2 L1205.2,1235.0 L1206.7,1232.8 L1208.2,1230.6 L1209.7,1228.6 L1211.2,1226.6 L1212.7,1224.6 L1214.2,1222.8 L1215.7,1221.0 L1217.2,1219.4 L1218.7,1217.8 L1220.2,1216.3 L1221.7,1214.9 L1223.2,1213.6 L1224.7,1212.4 L1226.2,1211.3 L1227.7,1210.4 L1229.2,1209.5 L1230.7,1208.7 L1232.2,1208.0 L1233.7,1207.5 L1235.2,1207.0 L1236.7,1206.6 L1238.2,1206.2 L1239.7,1206.0 L1241.2,1205.8 L1242.7,1205.7 L1244.2,1205.7 L1245.7,1205.7 L1247.2,1205.8 L1248.7,1206.0 L1250.2,1206.2 L1251.7,1206.5 L1253.2,1206.8 L1254.7,1207.2 L1256.2,1207.7 L1257.7,1208.2 L1259.2,1208.8 L1260.7,1209.4 L1262.2,1210.1 L1263.7,1210.8 L1265.2,1211.6 L1266.7,1212.5 L1268.2,1213.3 L1269.7,1214.3 L1271.2,1215.3 L1272.7,1216.3 L1274.2,1217.4 L1275.7,1218.5 L1277.2,1219.6 L1278.7,1220.8 L1280.2,1222.1 L1281.7,1223.3 L1283.2,1224.7 L1284.7,1226.0 L1286.2,1227.4 L1287.7,1228.8 L1289.2,1230.3 L1290.7,1231.7 L1292.2,1233.3 L1293.7,1234.8 L1295.2,1236.4 L1296.7,1238.0 L1298.2,1239.7 L1299.7,1241.4 L1301.2,1243.2 L1302.7,1244.9 L1304.2,1246.8 L1305.7,1248.6 L1307.2,1250.5 L1308.7,1252.5 L1310.2,1254.5 L1311.7,1256.5 L1313.2,1258.6 L1314.7,1260.7 L1316.2,1262.9 L1317.7,1265.1 L1319.2,1267.4 L1320.7,1269.7 L1322.2,1272.1 L1323.7,1274.5 L1325.2,1276.9 L1326.7,1279.4 L1328.2,1281.9 L1329.7,1284.5 L1331.2,1287.1 L1332.7,1289.7 L1334.2,1292.4 L1335.7,1295.1 L1337.2,1297.9 L1338.7,1300.7 L1340.2,1303.5 L1341.7,1306.4 L1343.2,1309.3 L1344.7,1312.2 L1346.2,1315.2 L1347.7,1318.2 L1349.2,1321.2 L1350.7,1324.2 L1352.2,1327.3 L1353.7,1330.3 L1355.2,1333.4 L1356.7,1336.5 L1358.2,1339.5 L1359.7,1342.6 L1361.2,1345.6 L1362.7,1348.6 L1364.2,1351.6 L1365.7,1354.6 L1367.2,1357.5 L1368.7,1360.5 L1370.2,1363.4 L1371.7,1366.3 L1373.2,1369.2 L1374.7,1372.1 L1376.2,1374.9 L1377.7,1377.8 L1379.2,1380.6 L1380.7,1383.4 L1382.2,1386.2 L1383.7,1389.0 L1385.2,1391.8 L1386.7,1394.6 L1388.2,1397.3 L1389.7,1400.0 L1391.2,1402.7 L1392.7,1405.3 L1394.2,1407.9 L1395.7,1410.5 L1397.2,1413.0 L1398.7,1415.4 L1400.2,1417.8 L1401.7,1420.2 L1403.2,1422.4 L1404.7,1424.7 L1406.2,1426.9 L1407.7,1429.0 L1409.2,1431.0 L1410.7,1433.1 L1412.2,1435.0 L1413.7,1436.9 L1415.2,1438.8 L1416.7,1440.6 L1418.2,1442.4 L1419.7,1444.1 L1421.2,1445.7 L1422.7,1447.4 L1424.2,1448.9 L1425.7,1450.5 L1427.2,1451.9 L1428.7,1453.4 L1430.2,1454.8 L1431.7,1456.1 L1433.2,1457.5 L1434.7,1458.7 L1436.2,1460.0 L1437.7,1461.2 L1439.2,1462.3 L1440.7,1463.4 L1442.2,1464.5 L1443.7,1465.6 L1445.2,1466.6 L1446.7,1467.5 L1448.2,1468.5 L1449.7,1469.4 L1451.2,1470.3 L1452.7,1471.1 L1454.2,1471.9 L1455.7,1472.7 L1457.2,1473.5 L1458.7,1474.3 L1460.2,1475.0 L1461.7,1475.7 L1463.2,1476.4 L1464.7,1477.2 L1466.2,1477.9 L1467.7,1478.6 L1469.2,1479.3 L1470.7,1480.0 L1472.2,1480.8 L1473.7,1481.5 L1475.2,1482.3 L1476.7,1483.1 L1478.2,1483.8 L1479.7,1484.6 L1481.2,1485.5 L1482.7,1486.3 L1484.2,1487.2 L1485.7,1488.1 L1487.2,1489.0 L1488.7,1489.9 L1490.2,1490.8 L1491.7,1491.8 L1493.2,1492.7 L1494.7,1493.7 L1496.2,1494.7 L1497.7,1495.7 L1499.2,1496.8 L1500.7,1497.8 L1502.2,1498.9 L1503.7,1500.0 L1505.2,1501.1 L1506.7,1502.1 L1508.2,1503.2 L1509.7,1504.3 L1511.2,1505.4 L1512.7,1506.5 L1514.2,1507.6 L1515.7,1508.7 L1517.2,1509.8 L1518.7,1510.8 L1520.2,1511.8 L1521.7,1512.9 L1523.2,1513.9 L1524.7,1514.8 L1526.2,1515.8 L1527.7,1516.7 L1529.2,1517.5 L1530.7,1518.3 L1532.2,1519.1 L1533.7,1519.8 L1535.2,1520.4 L1536.7,1521.0 L1538.2,1521.5 L1539.7,1521.9 L1541.2,1522.3 L1542.7,1522.6 L1544.2,1522.8 L1545.7,1522.9 L1547.2,1522.9 L1548.7,1522.9 L1550.2,1522.7 L1551.7,1522.5 L1553.2,1522.1 L1554.7,1521.7 L1556.2,1521.2 L1557.7,1520.6 L1559.2,1519.9 L1560.7,1519.1 L1562.2,1518.3 L1563.7,1517.4 L1565.2,1516.4 L1566.7,1515.4 L1568.2,1514.3 L1569.7,1513.1 L1571.2,1511.9 L1572.7,1510.7 L1574.2,1509.4 L1575.7,1508.1 L1577.2,1506.7 L1578.7,1505.3 L1580.2,1503.9 L1581.7,1502.4 L1583.2,1500.9 L1584.7,1499.4 L1586.2,1497.8 L1587.7,1496.2 L1589.2,1494.5 L1590.7,1492.9 L1592.2,1491.1 L1593.7,1489.4 L1595.2,1487.6 L1596.7,1485.8 L1598.2,1484.0 L1599.7,1482.1 L1601.2,1480.2 L1602.7,1478.2 L1604.2,1476.2 L1605.7,1474.2 L1607.2,1472.2 L1608.7,1470.1 L1610.2,1468.0 L1611.7,1465.8 L1613.2,1463.7 L1614.7,1461.5 L1616.2,1459.3 L1617.7,1457.0 L1619.2,1454.8 L1620.7,1452.5 L1622.2,1450.2 L1623.7,1447.9 L1625.2,1445.6 L1626.7,1443.3 L1628.2,1440.9 L1629.7,1438.6 L1631.2,1436.2 L1632.7,1433.8 L1634.2,1431.4 L1635.7,1429.0 L1637.2,1426.5 L1638.7,1424.1 L1640.2,1421.6 L1641.7,1419.0 L1643.2,1416.5 L1644.7,1413.9 L1646.2,1411.3 L1647.7,1408.6 L1649.2,1405.9 L1650.7,1403.2 L1652.2,1400.4 L1653.7,1397.5 L1655.2,1394.6 L1656.7,1391.7 L1658.2,1388.7 L1659.7,1385.6 L1661.2,1382.5 L1662.7,1379.4 L1664.2,1376.2 L1665.7,1372.9 L1667.2,1369.6 L1668.7,1366.2 L1670.2,1362.8 L1671.7,1359.3 L1673.2,1355.8 L1674.7,1352.2 L1676.2,1348.6 L1677.7,1345.0 L1679.2,1341.3 L1680.7,1337.6 L1682.2,1333.8 L1683.7,1330.1 L1685.2,1326.3 L1686.7,1322.4 L1688.2,1318.6 L1689.7,1314.7 L1691.2,1310.9 L1692.7,1307.0 L1694.2,1303.1 L1695.7,1299.2 L1697.2,1295.3 L1698.7,1291.4 L1700.2,1287.5 L1701.7,1283.7 L1703.2,1279.8 L1704.7,1276.0 L1706.2,1272.2 L1707.7,1268.4 L1709.2,1264.7 L1710.7,1261.0 L1712.2,1257.4 L1713.7,1253.8 L1715.2,1250.4 L1716.7,1247.0 L1718.2,1243.7 L1719.7,1240.5 L1721.2,1237.4 L1722.7,1234.4 L1724.2,1231.5 L1725.7,1228.7 L1727.2,1226.1 L1728.7,1223.6 L1730.2,1221.2 L1731.7,1218.9 L1733.2,1216.8 L1734.7,1214.8 L1736.2,1212.9 L1737.7,1211.2 L1739.2,1209.6 L1740.7,1208.2 L1742.2,1206.9 L1743.7,1205.7 L1745.2,1204.6 L1746.7,1203.7 L1748.2,1203.0 L1749.7,1202.4 L1751.2,1201.9 L1752.7,1201.5 L1754.2,1201.4 L1755.7,1201.3 L1757.2,1201.4 L1758.7,1201.6 L1760.2,1202.0 L1761.7,1202.5 L1763.2,1203.1 L1764.7,1203.9 L1766.2,1204.8 L1767.7,1205.9 L1769.2,1207.1 L1770.7,1208.4 L1772.2,1209.8 L1773.7,1211.4 L1775.2,1213.2 L1776.7,1215.0 L1778.2,1217.0 L1779.7,1219.1 L1781.2,1221.3 L1782.7,1223.6 L1784.2,1226.0 L1785.7,1228.6 L1787.2,1231.2 L1788.7,1234.0 L1790.2,1236.9 L1791.7,1239.9 L1793.2,1242.9 L1794.7,1246.1 L1796.2,1249.4 L1797.7,1252.8 L1799.2,1256.2 L1800.7,1259.8 L1802.2,1263.5 L1803.7,1267.2 L1805.2,1271.1 L1806.7,1275.0 L1808.2,1279.0 L1809.7,1283.1 L1811.2,1287.3 L1812.7,1291.6 L1814.2,1295.9 L1815.7,1300.4 L1817.2,1304.9 L1818.7,1309.5 L1820.2,1314.2 L1821.7,1319.0 L1823.2,1323.8 L1824.7,1328.7 L1826.2,1333.7 L1827.7,1338.7 L1829.2,1343.8 L1830.7,1349.0 L1832.2,1354.3 L1833.7,1359.5 L1835.2,1364.9 L1836.7,1370.2 L1838.2,1375.6 L1839.7,1381.0 L1841.2,1386.5 L1842.7,1391.9 L1844.2,1397.4 L1845.7,1402.8 L1847.2,1408.2 L1848.7,1413.7 L1850.2,1419.0 L1851.7,1424.4 L1853.2,1429.7 L1854.7,1434.9 L1856.2,1440.2 L1857.7,1445.3 L1859.2,1450.4 L1860.7,1455.5 L1862.2,1460.5 L1863.7,1465.4 L1865.2,1470.3 L1866.7,1475.1 L1868.2,1479.9 L1869.7,1484.7 L1871.2,1489.3 L1872.7,1494.0 L1874.2,1498.6 L1875.7,1503.2 L1877.2,1507.7 L1878.7,1512.2 L1880.2,1516.6 L1881.7,1521.0 L1883.2,1525.4 L1884.7,1529.7 L1886.2,1533.9 L1887.7,1538.2 L1889.2,1542.3 L1890.7,1546.4 L1892.2,1550.5 L1893.7,1554.4 L1895.2,1558.4 L1896.7,1562.2 L1898.2,1566.0 L1899.7,1569.7 L1901.2,1573.4 L1902.7,1577.0 L1904.2,1580.5 L1905.7,1584.0 L1907.2,1587.3 L1908.7,1590.7 L1910.2,1593.9 L1911.7,1597.1 L1913.2,1600.2 L1914.7,1603.3 L1916.2,1606.3 L1917.7,1609.2 L1919.2,1612.1 L1920.7,1614.9 L1922.2,1617.6 L1923.7,1620.3 L1925.2,1623.0 L1926.7,1625.6 L1928.2,1628.1 L1929.7,1630.6 L1931.2,1633.0 L1932.7,1635.4 L1934.2,1637.7 L1935.7,1640.0 L1937.2,1642.2 L1938.7,1644.4 L1940.2,1646.5 L1941.7,1648.6 L1943.2,1650.6 L1944.7,1652.5 L1946.2,1654.4 L1947.7,1656.3 L1949.2,1658.1 L1950.7,1659.8 L1952.2,1661.5 L1953.7,1663.2 L1955.2,1664.8 L1956.7,1666.4 L1958.2,1667.9 L1959.7,1669.3 L1961.2,1670.8 L1962.7,1672.1 L1964.2,1673.5 L1965.7,1674.8 L1967.2,1676.0 L1968.7,1677.2 L1970.2,1678.4 L1971.7,1679.6 L1973.2,1680.7 L1974.7,1681.7 L1976.2,1682.7 L1977.7,1683.7 L1979.2,1684.7 L1980.7,1685.6 L1982.2,1686.5 L1983.7,1687.4 L1985.2,1688.2 L1986.7,1689.0 L1988.2,1689.8 L1989.7,1690.5 L1991.2,1691.3 L1992.7,1691.9 L1994.2,1692.6 L1995.7,1693.3 L1997.2,1693.9 L1998.7,1694.5 L2000.2,1695.0 L2001.7,1695.6 L2003.2,1696.1 L2004.7,1696.6 L2006.2,1697.1 L2007.7,1697.6 L2009.2,1698.0 L2010.7,1698.4 L2012.2,1698.9 L2013.7,1699.3 L2015.2,1699.6 L2016.7,1700.0 L2018.2,1700.3 L2019.7,1700.7 L2021.2,1701.0 L2022.7,1701.3 L2024.2,1701.6 L2025.7,1701.9 L2027.2,1702.1 L2028.7,1702.4 L2030.2,1702.6 L2031.7,1702.9 L2033.2,1703.1 L2034.7,1703.3 L2036.2,1703.5 L2037.7,1703.7 L2039.2,1703.9 L2040.7,1704.1 L2042.2,1704.2 L2043.7,1704.4 L2045.2,1704.5 L2046.7,1704.7 L2048.2,1704.8 L2049.7,1705.0 L2051.2,1705.1 L2052.7,1705.2 L2054.2,1705.3 L2055.7,1705.4 L2057.2,1705.5 L2058.7,1705.6 L2060.2,1705.7 L2061.7,1705.8 L2063.2,1705.9 L2064.7,1706.0 L2066.2,1706.0 L2067.7,1706.1 L2069.2,1706.2 L2070.7,1706.2 L2072.2,1706.3 L2073.7,1706.4 L2075.2,1706.4 L2076.7,1706.5 L2078.2,1706.5 L2079.7,1706.6 L2081.2,1706.6 L2082.7,1706.6 L2084.2,1706.7 L2085.7,1706.7 L2087.2,1706.8 L2088.7,1706.8 L2090.2,1706.8 L2091.7,1706.8" stroke="#000" stroke-width="5" stroke-dasharray="21 16"/>
<path d="M1136.2,1618.7 L1137.7,1615.5 L1139.2,1612.2 L1140.7,1608.9 L1142.2,1605.4 L1143.7,1601.9 L1145.2,1598.4 L1146.7,1594.7 L1148.2,1591.0 L1149.7,1587.2 L1151.2,1583.4 L1152.7,1579.5 L1154.2,1575.5 L1155.7,1571.5 L1157.2,1567.4 L1158.7,1563.3 L1160.2,1559.1 L1161.7,1554.9 L1163.2,1550.6 L1164.7,1546.2 L1166.2,1541.8 L1167.7,1537.4 L1169.2,1532.9 L1170.7,1528.5 L1172.2,1523.9 L1173.7,1519.4 L1175.2,1514.8 L1176.7,1510.2 L1178.2,1505.6 L1179.7,1501.0 L1181.2,1496.3 L1182.7,1491.7 L1184.2,1487.0 L1185.7,1482.4 L1187.2,1477.8 L1188.7,1473.2 L1190.2,1468.6 L1191.7,1464.0 L1193.2,1459.4 L1194.7,1454.9 L1196.2,1450.5 L1197.7,1446.0 L1199.2,1441.6 L1200.7,1437.3 L1202.2,1433.0 L1203.7,1428.8 L1205.2,1424.6 L1206.7,1420.6 L1208.2,1416.5 L1209.7,1412.6 L1211.2,1408.8 L1212.7,1405.0 L1214.2,1401.4 L1215.7,1397.8 L1217.2,1394.4 L1218.7,1391.0 L1220.2,1387.8 L1221.7,1384.7 L1223.2,1381.7 L1224.7,1378.8 L1226.2,1376.0 L1227.7,1373.4 L1229.2,1371.0 L1230.7,1368.6 L1232.2,1366.4 L1233.7,1364.4 L1235.2,1362.5 L1236.7,1360.7 L1238.2,1359.1 L1239.7,1357.7 L1241.2,1356.4 L1242.7,1355.2 L1244.2,1354.3 L1245.7,1353.5 L1247.2,1352.8 L1248.7,1352.3 L1250.2,1352.0 L1251.7,1351.8 L1253.2,1351.8 L1254.7,1352.0 L1256.2,1352.4 L1257.7,1352.9 L1259.2,1353.5 L1260.7,1354.3 L1262.2,1355.3 L1263.7,1356.5 L1265.2,1357.8 L1266.7,1359.2 L1268.2,1360.9 L1269.7,1362.6 L1271.2,1364.5 L1272.7,1366.6 L1274.2,1368.8 L1275.7,1371.2 L1277.2,1373.7 L1278.7,1376.3 L1280.2,1379.0 L1281.7,1381.9 L1283.2,1384.9 L1284.7,1388.1 L1286.2,1391.3 L1287.7,1394.7 L1289.2,1398.1 L1290.7,1401.7 L1292.2,1405.4 L1293.7,1409.1 L1295.2,1413.0 L1296.7,1416.9 L1298.2,1420.9 L1299.7,1425.0 L1301.2,1429.2 L1302.7,1433.4 L1304.2,1437.7 L1305.7,1442.0 L1307.2,1446.4 L1308.7,1450.9 L1310.2,1455.3 L1311.7,1459.8 L1313.2,1464.4 L1314.7,1469.0 L1316.2,1473.6 L1317.7,1478.2 L1319.2,1482.8 L1320.7,1487.4 L1322.2,1492.1 L1323.7,1496.7 L1325.2,1501.4 L1326.7,1506.0 L1328.2,1510.6 L1329.7,1515.2 L1331.2,1519.8 L1332.7,1524.3 L1334.2,1528.9 L1335.7,1533.3 L1337.2,1537.8 L1338.7,1542.2 L1340.2,1546.6 L1341.7,1550.9 L1343.2,1555.2 L1344.7,1559.5 L1346.2,1563.7 L1347.7,1567.8 L1349.2,1571.9 L1350.7,1575.9 L1352.2,1579.9 L1353.7,1583.8 L1355.2,1587.6 L1356.7,1591.4 L1358.2,1595.1 L1359.7,1598.7 L1361.2,1602.3 L1362.7,1605.8 L1364.2,1609.2 L1365.7,1612.5 L1367.2,1615.8 L1368.7,1619.0 L1370.2,1622.2 L1371.7,1625.2 L1373.2,1628.2 L1374.7,1631.1 L1376.2,1634.0 L1377.7,1636.7 L1379.2,1639.4 L1380.7,1642.0 L1382.2,1644.6 L1383.7,1647.1 L1385.2,1649.5 L1386.7,1651.8 L1388.2,1654.1 L1389.7,1656.3 L1391.2,1658.4 L1392.7,1660.5 L1394.2,1662.5 L1395.7,1664.4 L1397.2,1666.3 L1398.7,1668.1 L1400.2,1669.8 L1401.7,1671.5 L1403.2,1673.1 L1404.7,1674.7 L1406.2,1676.2 L1407.7,1677.6 L1409.2,1679.0 L1410.7,1680.4 L1412.2,1681.7 L1413.7,1682.9 L1415.2,1684.1 L1416.7,1685.2 L1418.2,1686.3 L1419.7,1687.4 L1421.2,1688.4 L1422.7,1689.4 L1424.2,1690.3 L1425.7,1691.2 L1427.2,1692.0 L1428.7,1692.8 L1430.2,1693.6 L1431.7,1694.3 L1433.2,1695.0 L1434.7,1695.7 L1436.2,1696.3 L1437.7,1696.9 L1439.2,1697.5 L1440.7,1698.1 L1442.2,1698.6 L1443.7,1699.1 L1445.2,1699.6 L1446.7,1700.0 L1448.2,1700.4 L1449.7,1700.8 L1451.2,1701.2 L1452.7,1701.6 L1454.2,1701.9 L1455.7,1702.3 L1457.2,1702.6 L1458.7,1702.9 L1460.2,1703.1 L1461.7,1703.4 L1463.2,1703.6 L1464.7,1703.9 L1466.2,1704.1 L1467.7,1704.3 L1469.2,1704.5 L1470.7,1704.7 L1472.2,1704.8 L1473.7,1705.0 L1475.2,1705.2 L1476.7,1705.3 L1478.2,1705.4 L1479.7,1705.6 L1481.2,1705.7" stroke="#ff00ff" stroke-width="3.6" stroke-dasharray="7 25"/>
<path d="M1164.7,1706.3 L1166.2,1706.2 L1167.7,1706.1 L1169.2,1706.0 L1170.7,1705.9 L1172.2,1705.8 L1173.7,1705.7 L1175.2,1705.5 L1176.7,1705.4 L1178.2,1705.3 L1179.7,1705.1 L1181.2,1704.9 L1182.7,1704.8 L1184.2,1704.6 L1185.7,1704.4 L1187.2,1704.1 L1188.7,1703.9 L1190.2,1703.7 L1191.7,1703.4 L1193.2,1703.1 L1194.7,1702.8 L1196.2,1702.5 L1197.7,1702.2 L1199.2,1701.8 L1200.7,1701.4 L1202.2,1701.0 L1203.7,1700.6 L1205.2,1700.2 L1206.7,1699.7 L1208.2,1699.2 L1209.7,1698.7 L1211.2,1698.1 L1212.7,1697.5 L1214.2,1696.9 L1215.7,1696.3 L1217.2,1695.6 L1218.7,1694.9 L1220.2,1694.1 L1221.7,1693.4 L1223.2,1692.5 L1224.7,1691.7 L1226.2,1690.8 L1227.7,1689.8 L1229.2,1688.8 L1230.7,1687.8 L1232.2,1686.7 L1233.7,1685.6 L1235.2,1684.4 L1236.7,1683.2 L1238.2,1681.9 L1239.7,1680.6 L1241.2,1679.2 L1242.7,1677.7 L1244.2,1676.3 L1245.7,1674.7 L1247.2,1673.1 L1248.7,1671.4 L1250.2,1669.7 L1251.7,1667.9 L1253.2,1666.1 L1254.7,1664.2 L1256.2,1662.2 L1257.7,1660.2 L1259.2,1658.1 L1260.7,1656.0 L1262.2,1653.8 L1263.7,1651.5 L1265.2,1649.2 L1266.7,1646.8 L1268.2,1644.4 L1269.7,1641.8 L1271.2,1639.3 L1272.7,1636.6 L1274.2,1633.9 L1275.7,1631.2 L1277.2,1628.4 L1278.7,1625.5 L1280.2,1622.6 L1281.7,1619.6 L1283.2,1616.6 L1284.7,1613.6 L1286.2,1610.5 L1287.7,1607.3 L1289.2,1604.1 L1290.7,1600.9 L1292.2,1597.6 L1293.7,1594.3 L1295.2,1591.0 L1296.7,1587.6 L1298.2,1584.2 L1299.7,1580.8 L1301.2,1577.4 L1302.7,1573.9 L1304.2,1570.5 L1305.7,1567.0 L1307.2,1563.6 L1308.7,1560.1 L1310.2,1556.6 L1311.7,1553.2 L1313.2,1549.8 L1314.7,1546.4 L1316.2,1543.0 L1317.7,1539.6 L1319.2,1536.3 L1320.7,1533.0 L1322.2,1529.8 L1323.7,1526.6 L1325.2,1523.4 L1326.7,1520.3 L1328.2,1517.3 L1329.7,1514.3 L1331.2,1511.4 L1332.7,1508.6 L1334.2,1505.9 L1335.7,1503.2 L1337.2,1500.6 L1338.7,1498.1 L1340.2,1495.7 L1341.7,1493.4 L1343.2,1491.3 L1344.7,1489.2 L1346.2,1487.2 L1347.7,1485.4 L1349.2,1483.6 L1350.7,1482.0 L1352.2,1480.5 L1353.7,1479.1 L1355.2,1477.9 L1356.7,1476.8 L1358.2,1475.8 L1359.7,1474.9 L1361.2,1474.2 L1362.7,1473.6 L1364.2,1473.2 L1365.7,1472.9 L1367.2,1472.7 L1368.7,1472.7 L1370.2,1472.8 L1371.7,1473.0 L1373.2,1473.4 L1374.7,1473.9 L1376.2,1474.6 L1377.7,1475.4 L1379.2,1476.3 L1380.7,1477.4 L1382.2,1478.6 L1383.7,1479.9 L1385.2,1481.3 L1386.7,1482.9 L1388.2,1484.6 L1389.7,1486.4 L1391.2,1488.3 L1392.7,1490.4 L1394.2,1492.5 L1395.7,1494.8 L1397.2,1497.1 L1398.7,1499.6 L1400.2,1502.1 L1401.7,1504.7 L1403.2,1507.4 L1404.7,1510.2 L1406.2,1513.1 L1407.7,1516.0 L1409.2,1519.0 L1410.7,1522.1 L1412.2,1525.2 L1413.7,1528.4 L1415.2,1531.6 L1416.7,1534.9 L1418.2,1538.2 L1419.7,1541.6 L1421.2,1544.9 L1422.7,1548.3 L1424.2,1551.8 L1425.7,1555.2 L1427.2,1558.6 L1428.7,1562.1 L1430.2,1565.6 L1431.7,1569.0 L1433.2,1572.5 L1434.7,1575.9 L1436.2,1579.3 L1437.7,1582.8 L1439.2,1586.2 L1440.7,1589.5 L1442.2,1592.9 L1443.7,1596.2 L1445.2,1599.5 L1446.7,1602.7 L1448.2,1606.0 L1449.7,1609.1 L1451.2,1612.3 L1452.7,1615.3 L1454.2,1618.4 L1455.7,1621.4 L1457.2,1624.3 L1458.7,1627.2 L1460.2,1630.0 L1461.7,1632.8 L1463.2,1635.5 L1464.7,1638.2 L1466.2,1640.8 L1467.7,1643.3 L1469.2,1645.8 L1470.7,1648.2 L1472.2,1650.5 L1473.7,1652.8 L1475.2,1655.1 L1476.7,1657.2 L1478.2,1659.4 L1479.7,1661.4 L1481.2,1663.4 L1482.7,1665.3 L1484.2,1667.2 L1485.7,1669.0 L1487.2,1670.7 L1488.7,1672.4 L1490.2,1674.0 L1491.7,1675.6 L1493.2,1677.1 L1494.7,1678.6 L1496.2,1680.0 L1497.7,1681.3 L1499.2,1682.6 L1500.7,1683.9 L1502.2,1685.1 L1503.7,1686.2 L1505.2,1687.3 L1506.7,1688.4 L1508.2,1689.4 L1509.7,1690.4 L1511.2,1691.3 L1512.7,1692.2 L1514.2,1693.0 L1515.7,1693.8 L1517.2,1694.6 L1518.7,1695.3 L1520.2,1696.0 L1521.7,1696.7 L1523.2,1697.3 L1524.7,1697.9 L1526.2,1698.4 L1527.7,1699.0 L1529.2,1699.5 L1530.7,1700.0 L1532.2,1700.4 L1533.7,1700.9 L1535.2,1701.3 L1536.7,1701.7 L1538.2,1702.0 L1539.7,1702.4 L1541.2,1702.7 L1542.7,1703.0 L1544.2,1703.3 L1545.7,1703.6 L1547.2,1703.8 L1548.7,1704.0 L1550.2,1704.3 L1551.7,1704.5 L1553.2,1704.7 L1554.7,1704.9 L1556.2,1705.0 L1557.7,1705.2 L1559.2,1705.3 L1560.7,1705.5 L1562.2,1705.6 L1563.7,1705.7 L1565.2,1705.9 L1566.7,1706.0 L1568.2,1706.1 L1569.7,1706.2 L1571.2,1706.3" stroke="#ff00ff" stroke-width="3.6" stroke-dasharray="7 25"/>
<path d="M1311.4,1706.5 L1312.9,1706.5 L1314.4,1706.4 L1315.9,1706.3 L1317.4,1706.2 L1318.9,1706.1 L1320.4,1706.0 L1321.9,1705.9 L1323.4,1705.8 L1324.9,1705.7 L1326.4,1705.5 L1327.9,1705.4 L1329.4,1705.2 L1330.9,1705.0 L1332.4,1704.8 L1333.9,1704.6 L1335.4,1704.4 L1336.9,1704.2 L1338.4,1703.9 L1339.9,1703.7 L1341.4,1703.4 L1342.9,1703.1 L1344.4,1702.8 L1345.9,1702.4 L1347.4,1702.0 L1348.9,1701.7 L1350.4,1701.2 L1351.9,1700.8 L1353.4,1700.3 L1354.9,1699.8 L1356.4,1699.3 L1357.9,1698.8 L1359.4,1698.2 L1360.9,1697.6 L1362.4,1696.9 L1363.9,1696.2 L1365.4,1695.5 L1366.9,1694.7 L1368.4,1693.9 L1369.9,1693.1 L1371.4,1692.2 L1372.9,1691.3 L1374.4,1690.3 L1375.9,1689.3 L1377.4,1688.2 L1378.9,1687.1 L1380.4,1685.9 L1381.9,1684.7 L1383.4,1683.5 L1384.9,1682.1 L1386.4,1680.8 L1387.9,1679.3 L1389.4,1677.9 L1390.9,1676.3 L1392.4,1674.7 L1393.9,1673.1 L1395.4,1671.4 L1396.9,1669.6 L1398.4,1667.8 L1399.9,1665.9 L1401.4,1664.0 L1402.9,1662.0 L1404.4,1659.9 L1405.9,1657.8 L1407.4,1655.7 L1408.9,1653.4 L1410.4,1651.2 L1411.9,1648.8 L1413.4,1646.5 L1414.9,1644.0 L1416.4,1641.6 L1417.9,1639.0 L1419.4,1636.5 L1420.9,1633.9 L1422.4,1631.2 L1423.9,1628.5 L1425.4,1625.8 L1426.9,1623.0 L1428.4,1620.2 L1429.9,1617.4 L1431.4,1614.6 L1432.9,1611.7 L1434.4,1608.9 L1435.9,1606.0 L1437.4,1603.1 L1438.9,1600.2 L1440.4,1597.3 L1441.9,1594.4 L1443.4,1591.6 L1444.9,1588.7 L1446.4,1585.8 L1447.9,1583.0 L1449.4,1580.2 L1450.9,1577.5 L1452.4,1574.7 L1453.9,1572.1 L1455.4,1569.4 L1456.9,1566.8 L1458.4,1564.3 L1459.9,1561.8 L1461.4,1559.4 L1462.9,1557.1 L1464.4,1554.8 L1465.9,1552.7 L1467.4,1550.6 L1468.9,1548.6 L1470.4,1546.7 L1471.9,1544.8 L1473.4,1543.1 L1474.9,1541.5 L1476.4,1540.0 L1477.9,1538.6 L1479.4,1537.3 L1480.9,1536.2 L1482.4,1535.1 L1483.9,1534.2 L1485.4,1533.4 L1486.9,1532.7 L1488.4,1532.2 L1489.9,1531.7 L1491.4,1531.4 L1492.9,1531.3 L1494.4,1531.2 L1495.9,1531.3 L1497.4,1531.5 L1498.9,1531.9 L1500.4,1532.4 L1501.9,1533.0 L1503.4,1533.7 L1504.9,1534.5 L1506.4,1535.5 L1507.9,1536.6 L1509.4,1537.8 L1510.9,1539.1 L1512.4,1540.6 L1513.9,1542.1 L1515.4,1543.8 L1516.9,1545.5 L1518.4,1547.4 L1519.9,1549.3 L1521.4,1551.4 L1522.9,1553.5 L1524.4,1555.7 L1525.9,1558.0 L1527.4,1560.3 L1528.9,1562.8 L1530.4,1565.2 L1531.9,1567.8 L1533.4,1570.4 L1534.9,1573.1 L1536.4,1575.8 L1537.9,1578.5 L1539.4,1581.3 L1540.9,1584.1 L1542.4,1586.9 L1543.9,1589.8 L1545.4,1592.6 L1546.9,1595.5 L1548.4,1598.4 L1549.9,1601.3 L1551.4,1604.2 L1552.9,1607.1 L1554.4,1610.0 L1555.9,1612.8 L1557.4,1615.7 L1558.9,1618.5 L1560.4,1621.3 L1561.9,1624.1 L1563.4,1626.8 L1564.9,1629.5 L1566.4,1632.2 L1567.9,1634.8 L1569.4,1637.4 L1570.9,1640.0 L1572.4,1642.5 L1573.9,1644.9 L1575.4,1647.4 L1576.9,1649.7 L1578.4,1652.0 L1579.9,1654.3 L1581.4,1656.5 L1582.9,1658.6 L1584.4,1660.7 L1585.9,1662.7 L1587.4,1664.7 L1588.9,1666.6 L1590.4,1668.5 L1591.9,1670.3 L1593.4,1672.0 L1594.9,1673.7 L1596.4,1675.3 L1597.9,1676.9 L1599.4,1678.4 L1600.9,1679.9 L1602.4,1681.3 L1603.9,1682.6 L1605.4,1683.9 L1606.9,1685.2 L1608.4,1686.4 L1609.9,1687.5 L1611.4,1688.6 L1612.9,1689.7 L1614.4,1690.7 L1615.9,1691.6 L1617.4,1692.5 L1618.9,1693.4 L1620.4,1694.2 L1621.9,1695.0 L1623.4,1695.8 L1624.9,1696.5 L1626.4,1697.2 L1627.9,1697.8 L1629.4,1698.4 L1630.9,1699.0 L1632.4,1699.5 L1633.9,1700.0 L1635.4,1700.5 L1636.9,1701.0 L1638.4,1701.4 L1639.9,1701.8 L1641.4,1702.2 L1642.9,1702.5 L1644.4,1702.9 L1645.9,1703.2 L1647.4,1703.5 L1648.9,1703.8 L1650.4,1704.0 L1651.9,1704.3 L1653.4,1704.5 L1654.9,1704.7 L1656.4,1704.9 L1657.9,1705.1 L1659.4,1705.3 L1660.9,1705.4 L1662.4,1705.6 L1663.9,1705.7 L1665.4,1705.8 L1666.9,1705.9 L1668.4,1706.1 L1669.9,1706.2 L1671.4,1706.3 L1672.9,1706.3 L1674.4,1706.4 L1675.9,1706.5" stroke="#ff00ff" stroke-width="3.6" stroke-dasharray="7 25"/>
<path d="M1472.3,1706.9 L1473.8,1706.9 L1475.3,1706.8 L1476.8,1706.7 L1478.3,1706.7 L1479.8,1706.6 L1481.3,1706.5 L1482.8,1706.4 L1484.3,1706.3 L1485.8,1706.2 L1487.3,1706.0 L1488.8,1705.9 L1490.3,1705.7 L1491.8,1705.6 L1493.3,1705.4 L1494.8,1705.2 L1496.3,1704.9 L1497.8,1704.7 L1499.3,1704.4 L1500.8,1704.1 L1502.3,1703.8 L1503.8,1703.4 L1505.3,1703.0 L1506.8,1702.6 L1508.3,1702.2 L1509.8,1701.7 L1511.3,1701.1 L1512.8,1700.6 L1514.3,1700.0 L1515.8,1699.3 L1517.3,1698.6 L1518.8,1697.9 L1520.3,1697.1 L1521.8,1696.3 L1523.3,1695.4 L1524.8,1694.5 L1526.3,1693.5 L1527.8,1692.5 L1529.3,1691.4 L1530.8,1690.2 L1532.3,1689.0 L1533.8,1687.7 L1535.3,1686.4 L1536.8,1685.0 L1538.3,1683.6 L1539.8,1682.1 L1541.3,1680.5 L1542.8,1678.9 L1544.3,1677.3 L1545.8,1675.6 L1547.3,1673.8 L1548.8,1672.0 L1550.3,1670.2 L1551.8,1668.3 L1553.3,1666.3 L1554.8,1664.4 L1556.3,1662.4 L1557.8,1660.4 L1559.3,1658.4 L1560.8,1656.3 L1562.3,1654.3 L1563.8,1652.3 L1565.3,1650.2 L1566.8,1648.2 L1568.3,1646.2 L1569.8,1644.2 L1571.3,1642.2 L1572.8,1640.3 L1574.3,1638.4 L1575.8,1636.6 L1577.3,1634.8 L1578.8,1633.1 L1580.3,1631.4 L1581.8,1629.9 L1583.3,1628.4 L1584.8,1627.0 L1586.3,1625.7 L1587.8,1624.5 L1589.3,1623.4 L1590.8,1622.4 L1592.3,1621.5 L1593.8,1620.7 L1595.3,1620.1 L1596.8,1619.6 L1598.3,1619.2 L1599.8,1618.9 L1601.3,1618.8 L1602.8,1618.8 L1604.3,1618.9 L1605.8,1619.1 L1607.3,1619.5 L1608.8,1620.0 L1610.3,1620.6 L1611.8,1621.3 L1613.3,1622.2 L1614.8,1623.2 L1616.3,1624.3 L1617.8,1625.4 L1619.3,1626.7 L1620.8,1628.1 L1622.3,1629.6 L1623.8,1631.1 L1625.3,1632.8 L1626.8,1634.5 L1628.3,1636.2 L1629.8,1638.1 L1631.3,1639.9 L1632.8,1641.9 L1634.3,1643.8 L1635.8,1645.8 L1637.3,1647.8 L1638.8,1649.8 L1640.3,1651.9 L1641.8,1653.9 L1643.3,1656.0 L1644.8,1658.0 L1646.3,1660.0 L1647.8,1662.1 L1649.3,1664.0 L1650.8,1666.0 L1652.3,1667.9 L1653.8,1669.8 L1655.3,1671.7 L1656.8,1673.5 L1658.3,1675.3 L1659.8,1677.0 L1661.3,1678.6 L1662.8,1680.2 L1664.3,1681.8 L1665.8,1683.3 L1667.3,1684.8 L1668.8,1686.2 L1670.3,1687.5 L1671.8,1688.8 L1673.3,1690.0 L1674.8,1691.2 L1676.3,1692.3 L1677.8,1693.3 L1679.3,1694.3 L1680.8,1695.3 L1682.3,1696.1 L1683.8,1697.0 L1685.3,1697.8 L1686.8,1698.5 L1688.3,1699.2 L1689.8,1699.9 L1691.3,1700.5 L1692.8,1701.0 L1694.3,1701.6 L1695.8,1702.1 L1697.3,1702.5 L1698.8,1702.9 L1700.3,1703.3 L1701.8,1703.7 L1703.3,1704.0 L1704.8,1704.3 L1706.3,1704.6 L1707.8,1704.9 L1709.3,1705.1 L1710.8,1705.3 L1712.3,1705.5 L1713.8,1705.7 L1715.3,1705.9 L1716.8,1706.0 L1718.3,1706.2 L1719.8,1706.3 L1721.3,1706.4 L1722.8,1706.5 L1724.3,1706.6 L1725.8,1706.7 L1727.3,1706.7 L1728.8,1706.8 L1730.3,1706.9 L1731.8,1706.9" stroke="#ff00ff" stroke-width="3.6" stroke-dasharray="7 25"/>
<path d="M1450.8,1705.7 L1452.3,1705.6 L1453.8,1705.5 L1455.3,1705.4 L1456.8,1705.3 L1458.3,1705.2 L1459.8,1705.1 L1461.3,1705.0 L1462.8,1704.9 L1464.3,1704.7 L1465.8,1704.6 L1467.3,1704.4 L1468.8,1704.3 L1470.3,1704.1 L1471.8,1703.9 L1473.3,1703.7 L1474.8,1703.6 L1476.3,1703.4 L1477.8,1703.1 L1479.3,1702.9 L1480.8,1702.7 L1482.3,1702.4 L1483.8,1702.2 L1485.3,1701.9 L1486.8,1701.7 L1488.3,1701.4 L1489.8,1701.1 L1491.3,1700.7 L1492.8,1700.4 L1494.3,1700.1 L1495.8,1699.7 L1497.3,1699.3 L1498.8,1698.9 L1500.3,1698.5 L1501.8,1698.1 L1503.3,1697.7 L1504.8,1697.2 L1506.3,1696.7 L1507.8,1696.2 L1509.3,1695.7 L1510.8,1695.1 L1512.3,1694.6 L1513.8,1694.0 L1515.3,1693.4 L1516.8,1692.7 L1518.3,1692.1 L1519.8,1691.4 L1521.3,1690.7 L1522.8,1689.9 L1524.3,1689.2 L1525.8,1688.4 L1527.3,1687.5 L1528.8,1686.7 L1530.3,1685.8 L1531.8,1684.9 L1533.3,1683.9 L1534.8,1682.9 L1536.3,1681.9 L1537.8,1680.9 L1539.3,1679.8 L1540.8,1678.6 L1542.3,1677.5 L1543.8,1676.3 L1545.3,1675.0 L1546.8,1673.7 L1548.3,1672.4 L1549.8,1671.0 L1551.3,1669.6 L1552.8,1668.2 L1554.3,1666.7 L1555.8,1665.1 L1557.3,1663.5 L1558.8,1661.9 L1560.3,1660.2 L1561.8,1658.4 L1563.3,1656.6 L1564.8,1654.8 L1566.3,1652.9 L1567.8,1651.0 L1569.3,1648.9 L1570.8,1646.9 L1572.3,1644.8 L1573.8,1642.6 L1575.3,1640.4 L1576.8,1638.1 L1578.3,1635.8 L1579.8,1633.4 L1581.3,1630.9 L1582.8,1628.4 L1584.3,1625.8 L1585.8,1623.2 L1587.3,1620.5 L1588.8,1617.7 L1590.3,1614.9 L1591.8,1612.0 L1593.3,1609.1 L1594.8,1606.1 L1596.3,1603.0 L1597.8,1599.9 L1599.3,1596.7 L1600.8,1593.4 L1602.3,1590.1 L1603.8,1586.7 L1605.3,1583.3 L1606.8,1579.8 L1608.3,1576.2 L1609.8,1572.6 L1611.3,1568.9 L1612.8,1565.1 L1614.3,1561.3 L1615.8,1557.4 L1617.3,1553.5 L1618.8,1549.5 L1620.3,1545.4 L1621.8,1541.3 L1623.3,1537.1 L1624.8,1532.9 L1626.3,1528.6 L1627.8,1524.3 L1629.3,1519.9 L1630.8,1515.4 L1632.3,1510.9 L1633.8,1506.4 L1635.3,1501.8 L1636.8,1497.2 L1638.3,1492.5 L1639.8,1487.8 L1641.3,1483.0 L1642.8,1478.2 L1644.3,1473.3 L1645.8,1468.5 L1647.3,1463.6 L1648.8,1458.6 L1650.3,1453.6 L1651.8,1448.6 L1653.3,1443.6 L1654.8,1438.6 L1656.3,1433.5 L1657.8,1428.4 L1659.3,1423.3 L1660.8,1418.2 L1662.3,1413.1 L1663.8,1408.0 L1665.3,1402.8 L1666.8,1397.7 L1668.3,1392.6 L1669.8,1387.4 L1671.3,1382.3 L1672.8,1377.2 L1674.3,1372.1 L1675.8,1367.0 L1677.3,1362.0 L1678.8,1356.9 L1680.3,1351.9 L1681.8,1346.9 L1683.3,1342.0 L1684.8,1337.1 L1686.3,1332.2 L1687.8,1327.4 L1689.3,1322.6 L1690.8,1317.8 L1692.3,1313.1 L1693.8,1308.5 L1695.3,1303.9 L1696.8,1299.4 L1698.3,1295.0 L1699.8,1290.6 L1701.3,1286.3 L1702.8,1282.1 L1704.3,1277.9 L1705.8,1273.8 L1707.3,1269.8 L1708.8,1265.9 L1710.3,1262.1 L1711.8,1258.4 L1713.3,1254.8 L1714.8,1251.3 L1716.3,1247.8 L1717.8,1244.5 L1719.3,1241.3 L1720.8,1238.2 L1722.3,1235.2 L1723.8,1232.3 L1725.3,1229.5 L1726.8,1226.9 L1728.3,1224.4 L1729.8,1222.0 L1731.3,1219.7 L1732.8,1217.5 L1734.3,1215.5 L1735.8,1213.6 L1737.3,1211.8 L1738.8,1210.2 L1740.3,1208.7 L1741.8,1207.4 L1743.3,1206.1 L1744.8,1205.0 L1746.3,1204.1 L1747.8,1203.3 L1749.3,1202.6 L1750.8,1202.1 L1752.3,1201.7 L1753.8,1201.5 L1755.3,1201.3 L1756.8,1201.4 L1758.3,1201.6 L1759.8,1201.9 L1761.3,1202.3 L1762.8,1202.9 L1764.3,1203.7 L1765.8,1204.6 L1767.3,1205.6 L1768.8,1206.7 L1770.3,1208.0 L1771.8,1209.5 L1773.3,1211.0 L1774.8,1212.7 L1776.3,1214.6 L1777.8,1216.5 L1779.3,1218.6 L1780.8,1220.8 L1782.3,1223.2 L1783.8,1225.6 L1785.3,1228.2 L1786.8,1230.9 L1788.3,1233.8 L1789.8,1236.7 L1791.3,1239.8 L1792.8,1242.9 L1794.3,1246.2 L1795.8,1249.6 L1797.3,1253.0 L1798.8,1256.6 L1800.3,1260.3 L1801.8,1264.1 L1803.3,1267.9 L1804.8,1271.9 L1806.3,1275.9 L1807.8,1280.0 L1809.3,1284.2 L1810.8,1288.5 L1812.3,1292.8 L1813.8,1297.2 L1815.3,1301.7 L1816.8,1306.3 L1818.3,1310.9 L1819.8,1315.5 L1821.3,1320.2 L1822.8,1325.0 L1824.3,1329.8 L1825.8,1334.7 L1827.3,1339.6 L1828.8,1344.5 L1830.3,1349.5 L1831.8,1354.5 L1833.3,1359.5 L1834.8,1364.5 L1836.3,1369.6 L1837.8,1374.7 L1839.3,1379.8 L1840.8,1384.9 L1842.3,1390.0 L1843.8,1395.2 L1845.3,1400.3 L1846.8,1405.4 L1848.3,1410.6 L1849.8,1415.7 L1851.3,1420.8 L1852.8,1425.9 L1854.3,1431.0 L1855.8,1436.1 L1857.3,1441.1 L1858.8,1446.2 L1860.3,1451.2 L1861.8,1456.2 L1863.3,1461.1 L1864.8,1466.1 L1866.3,1470.9 L1867.8,1475.8 L1869.3,1480.6 L1870.8,1485.4 L1872.3,1490.2 L1873.8,1494.9 L1875.3,1499.5 L1876.8,1504.1 L1878.3,1508.7 L1879.8,1513.2 L1881.3,1517.7 L1882.8,1522.1 L1884.3,1526.5 L1885.8,1530.8 L1887.3,1535.0 L1888.8,1539.3 L1890.3,1543.4 L1891.8,1547.5 L1893.3,1551.5 L1894.8,1555.5 L1896.3,1559.4 L1897.8,1563.2 L1899.3,1567.0 L1900.8,1570.8 L1902.3,1574.4 L1903.8,1578.0 L1905.3,1581.6 L1906.8,1585.1 L1908.3,1588.5 L1909.8,1591.8 L1911.3,1595.1 L1912.8,1598.3 L1914.3,1601.5 L1915.8,1604.6 L1917.3,1607.6 L1918.8,1610.6 L1920.3,1613.5 L1921.8,1616.4 L1923.3,1619.2 L1924.8,1621.9 L1926.3,1624.5 L1927.8,1627.2 L1929.3,1629.7 L1930.8,1632.2 L1932.3,1634.6 L1933.8,1637.0 L1935.3,1639.3 L1936.8,1641.5 L1938.3,1643.7 L1939.8,1645.9 L1941.3,1647.9 L1942.8,1650.0 L1944.3,1651.9 L1945.8,1653.9 L1947.3,1655.7 L1948.8,1657.6 L1950.3,1659.3 L1951.8,1661.0 L1953.3,1662.7 L1954.8,1664.3 L1956.3,1665.9 L1957.8,1667.4 L1959.3,1668.9 L1960.8,1670.3 L1962.3,1671.7 L1963.8,1673.1 L1965.3,1674.4 L1966.8,1675.7 L1968.3,1676.9 L1969.8,1678.1 L1971.3,1679.2 L1972.8,1680.3 L1974.3,1681.4 L1975.8,1682.4 L1977.3,1683.4 L1978.8,1684.4 L1980.3,1685.4 L1981.8,1686.3 L1983.3,1687.1 L1984.8,1688.0 L1986.3,1688.8 L1987.8,1689.6 L1989.3,1690.3 L1990.8,1691.0 L1992.3,1691.7 L1993.8,1692.4 L1995.3,1693.1 L1996.8,1693.7 L1998.3,1694.3 L1999.8,1694.9 L2001.3,1695.4 L2002.8,1696.0 L2004.3,1696.5 L2005.8,1697.0 L2007.3,1697.4 L2008.8,1697.9 L2010.3,1698.3 L2011.8,1698.7 L2013.3,1699.1 L2014.8,1699.5 L2016.3,1699.9 L2017.8,1700.2 L2019.3,1700.6 L2020.8,1700.9 L2022.3,1701.2 L2023.8,1701.5 L2025.3,1701.8 L2026.8,1702.1 L2028.3,1702.3 L2029.8,1702.6 L2031.3,1702.8 L2032.8,1703.0 L2034.3,1703.3 L2035.8,1703.5 L2037.3,1703.7 L2038.8,1703.8 L2040.3,1704.0 L2041.8,1704.2 L2043.3,1704.4 L2044.8,1704.5 L2046.3,1704.7 L2047.8,1704.8 L2049.3,1704.9 L2050.8,1705.1 L2052.3,1705.2 L2053.8,1705.3 L2055.3,1705.4 L2056.8,1705.5 L2058.3,1705.6 L2059.8,1705.7 L2061.3,1705.8 L2062.8,1705.9 L2064.3,1705.9 L2065.8,1706.0 L2067.3,1706.1 L2068.8,1706.2 L2070.3,1706.2 L2071.8,1706.3 L2073.3,1706.3 L2074.8,1706.4 L2076.3,1706.5 L2077.8,1706.5 L2079.3,1706.5 L2080.8,1706.6 L2082.3,1706.6 L2083.8,1706.7 L2085.3,1706.7 L2086.8,1706.7 L2088.3,1706.8 L2089.8,1706.8 L2091.3,1706.8" stroke="#ff00ff" stroke-width="3.6" stroke-dasharray="7 25"/>
</g>
<line x1="1322.3" y1="1708.9" x2="1322.3" y2="1695.9" stroke="#000" stroke-width="5"/>
<line x1="1516.0" y1="1708.9" x2="1516.0" y2="1695.9" stroke="#000" stroke-width="5"/>
<line x1="1712.3" y1="1708.9" x2="1712.3" y2="1695.9" stroke="#000" stroke-width="5"/>
<line x1="1906.0" y1="1708.9" x2="1906.0" y2="1695.9" stroke="#000" stroke-width="5"/>
<line x1="1139.1" y1="979.7" x2="1225.9" y2="979.7" stroke="#ff0000" stroke-width="5"/>
<line x1="1139.1" y1="1030.1" x2="1225.9" y2="1030.1" stroke="#000" stroke-width="5" stroke-dasharray="21 16"/>
<line x1="1139.1" y1="1081.0" x2="1225.9" y2="1081.0" stroke="#ff00ff" stroke-width="5" stroke-dasharray="8 23.5"/>
<text transform="translate(1251.48,992.20) scale(1.0608,1)" font-size="38.5" font-weight="bold">peak</text>
<text transform="translate(1251.11,1043.00) scale(1.0560,1)" font-size="38.5" font-weight="bold">cumulative fitted peak</text>
<text transform="translate(1251.70,1093.30) scale(1.0533,1)" font-size="38.5" font-weight="bold">fitted peak</text>
<text transform="translate(1140.81,1155.40) scale(1.0846,1)" font-size="48.1" font-weight="bold">PBD</text>
<text transform="translate(1242.74,1167.30) scale(0.9786,1)" font-size="34.4" font-weight="normal">50%</text>
<text transform="translate(1306.35,1155.40) scale(1.0290,1)" font-size="48.1" font-weight="bold">PU</text>
<text transform="translate(1373.04,1167.30) scale(0.9786,1)" font-size="34.4" font-weight="normal">50%</text>
<text transform="translate(1284.99,1753.40) scale(0.9100,1)" font-size="40.0" font-weight="normal">1640</text>
<text transform="translate(1478.39,1753.40) scale(0.9100,1)" font-size="40.0" font-weight="normal">1680</text>
<text transform="translate(1672.44,1753.40) scale(0.9100,1)" font-size="40.0" font-weight="normal">1720</text>
<text transform="translate(1869.09,1753.40) scale(0.9100,1)" font-size="40.0" font-weight="normal">1760</text>
<text transform="translate(1436.28,1803.60) scale(1.0449,1)" font-size="38.5" font-weight="bold">wavenumber</text>
<text transform="translate(1660.47,1803.60) scale(1.1428,1)" font-size="38.5" font-weight="normal">(</text>
<text transform="translate(1674.99,1803.60) scale(0.9940,1)" font-size="38.5" font-weight="bold">cm</text>
<text transform="translate(1726.24,1787.30) scale(1.0481,1)" font-size="26.0" font-weight="normal">&#8722;1</text>
<text transform="translate(1761.68,1803.60) scale(1.2237,1)" font-size="38.5" font-weight="normal">)</text>
<text transform="translate(1102.50,1448.38) rotate(-90) scale(1.0317,1)" font-size="38.5" font-weight="bold">absorbance</text>
<text transform="translate(1102.50,1252.60) rotate(-90) scale(1.1832,1)" font-size="38.5" font-weight="normal">(</text>
<text transform="translate(1102.50,1237.16) rotate(-90) scale(1.0144,1)" font-size="38.5" font-weight="bold">a.u.</text>
<text transform="translate(1102.50,1176.38) rotate(-90) scale(1.2742,1)" font-size="38.5" font-weight="normal">)</text>
</svg>
</body></html>
